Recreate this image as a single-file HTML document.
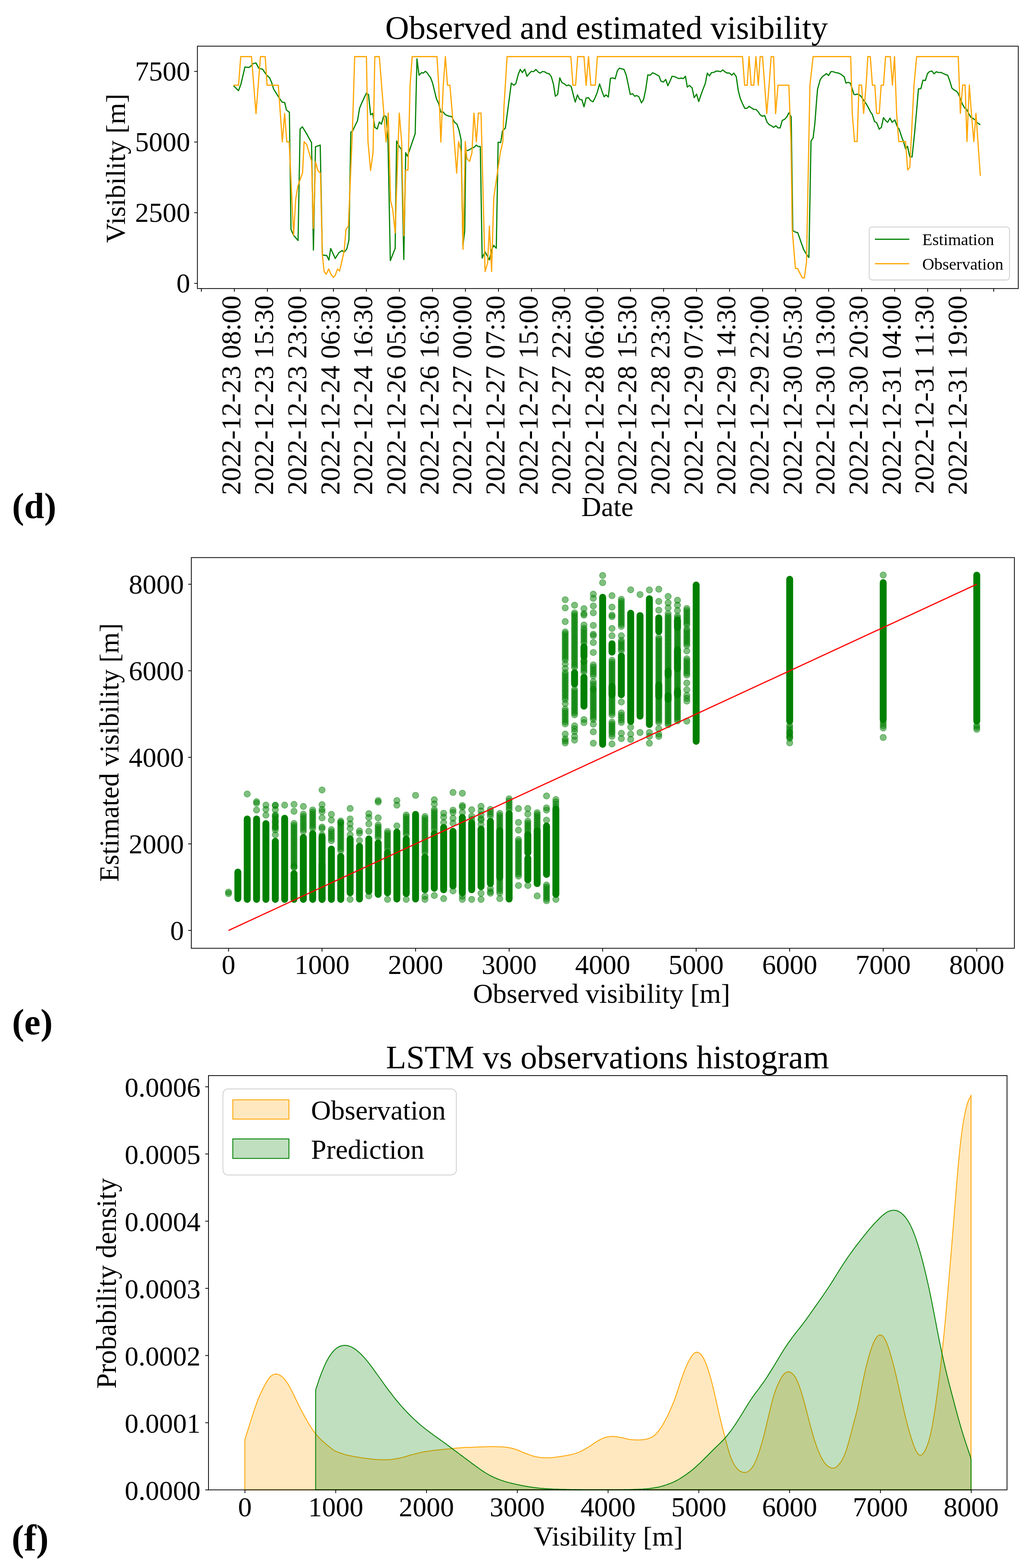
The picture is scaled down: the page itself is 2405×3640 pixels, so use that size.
<!DOCTYPE html>
<html><head><meta charset="utf-8"><title>Visibility figure</title>
<style>html,body{margin:0;padding:0;background:#fff;}svg{display:block}</style></head>
<body><svg width="2405" height="3640" viewBox="0 0 2405 3640" font-family="&quot;Liberation Serif&quot;, &quot;Times New Roman&quot;, serif">
<rect width="2405" height="3640" fill="#fff"/>
<text x="1408" y="90" font-size="76.6" text-anchor="middle">Observed and estimated visibility</text>
<polyline fill="none" stroke="#008000" stroke-width="2.7" stroke-linejoin="round" points="542.2,199 553.7,210.5 559.3,195.4 568.6,155.7 577.7,156.7 581.3,154.3 587.5,147.7 594.1,146 600.9,158.7 609.5,160.6 618,173.3 625.8,180.7 630.2,190.5 635.1,206.4 644.9,222.2 654.7,236.9 660.8,238.1 665,255.3 671.8,260.9 675.5,532.8 681.6,546.2 691.9,558.4 696.7,299.3 701.9,294.4 710.9,309 723.2,331.1 727.6,580.4 732.4,340.8 743.4,336.7 748.3,591.9 758.6,593.4 763.5,603.7 767.7,576.8 778.2,600 786.7,586.6 794.1,581.7 798.9,585.3 805.1,578 810,557.2 814.4,306.6 818.5,304.2 825.8,288.3 829.8,280.9 834.7,251.6 839.6,239.4 850.6,216.1 855.5,219.8 860.3,266.3 865.2,263.3 870.1,295.6 875.7,299.3 880.6,283.4 885.5,288.3 890.9,268.2 896.3,270.7 900.7,327.4 906.1,604.9 917.3,576.8 920.7,327.4 926.4,339.6 932,346.9 937.4,602.4 941.8,354.3 945.9,362.8 963.8,310.3 967.9,136.7 972.8,174.6 978.9,168.5 982.6,169.7 987.5,165.5 991.1,168.5 999.7,180.7 1003.9,191.7 1013.2,229.6 1018,239.4 1023.4,260.1 1029,260.1 1033.9,266.3 1041.3,269.4 1048.6,270.7 1054.7,283.4 1060.8,288.3 1065.7,302.9 1070.4,324.2 1074.6,570.4 1078.8,536.7 1081.3,349.5 1085.5,349.5 1090.6,347 1095.6,343.6 1099.9,342.4 1105.8,336.8 1110,340.2 1115,340.2 1119.3,599.1 1126,584.7 1131.1,594 1136.1,603.3 1141.2,580.5 1146.2,569.6 1152.1,576.3 1156.4,330.1 1162.3,330.9 1166.5,304 1173.2,297.2 1187,192.9 1192.6,197.8 1197.5,194.1 1202.9,173.3 1207.8,161.1 1212.7,168.5 1218.1,160.6 1223.2,177 1228.6,170.9 1233.5,165.5 1238.4,166.5 1244,161.1 1249.4,167.2 1254.3,169.7 1259.1,166 1264,166.5 1268.9,169.7 1275,171.4 1279.9,178.2 1284.8,195.4 1289.2,223.5 1294.6,219.3 1299.5,180.7 1304.4,191.7 1309.3,194.1 1315.4,199 1320.3,197.3 1325.9,200.7 1330.8,219.8 1335.4,236.9 1340.6,220.3 1345.5,230.8 1350.8,231.5 1355.7,247.9 1360.6,227.6 1366,226.7 1371.1,233.3 1376.5,236.4 1381.4,227.1 1386.3,214.9 1391.9,194.9 1397.3,211.2 1400,218.6 1402.4,224.7 1406.8,220.3 1412.2,225.2 1417.1,181.9 1422.5,180.7 1428.1,183.1 1433,164.8 1437.9,158.2 1443.5,159.9 1448.4,161.1 1453.8,174.6 1458.7,197.8 1463.1,219.3 1468.5,217.4 1473.3,223.5 1478.2,221.8 1483.1,224.7 1489.2,238.9 1494.1,230.8 1499,207.6 1503.9,173.8 1509.5,174.6 1514.9,168.9 1519.8,170.9 1524.7,173.8 1529.6,176.3 1534.5,188.5 1539.9,190.5 1545.5,184.4 1550.4,199 1555.3,188.5 1560.1,177 1565.8,177.8 1570.7,180.2 1576,182.4 1580.9,181.4 1586.3,182.4 1591.2,177 1595.6,202.2 1600.5,198.3 1606.6,203.9 1611.5,226.7 1617.1,218.6 1622,235.7 1627.4,219.8 1632.3,206.4 1637.2,194.1 1642.1,169.7 1646.9,176.3 1651.8,168.5 1657.2,168 1662.8,164.8 1668.5,165.3 1672.6,166.5 1678,162.3 1683.6,167.2 1688.5,169.7 1690,169.7 1693.7,169.7 1698.6,174.6 1703.4,169.7 1709.1,177.8 1714,211.2 1718.9,229.6 1724.2,241.8 1729.1,251.6 1734,251.6 1738.9,246.7 1744.3,250.4 1749.9,254 1754.8,254 1759.7,258.9 1764.6,266.3 1769.5,269.9 1775.1,268.2 1780.5,283.4 1785.8,289.5 1790.7,291.9 1795.9,295.6 1801.2,291.9 1806.1,296.8 1811,296.8 1815.9,279.7 1822,276.5 1826.9,270.7 1831.3,261.9 1836.7,271.1 1840.4,535.2 1846.5,538.9 1851.9,540.1 1858.7,559.7 1865.6,579.2 1872.2,590.2 1877.8,597.6 1882.7,327.4 1887.6,320 1891.7,285.8 1895.4,236.9 1897.8,207.6 1903.9,185.6 1908.8,178.2 1913.7,174.6 1918.6,170.9 1923.5,175.3 1929.1,166 1934.5,166.5 1939.4,168.5 1946.7,169.7 1951.6,172.1 1959.7,178.2 1963.8,192.9 1968.7,191 1973.6,192.9 1977.3,202.7 1982.2,218.6 1984.9,219.8 1989.8,218.6 1994.7,219.8 1999.6,224.7 2004.4,232 2010.6,240.6 2015.5,249.1 2020.3,258.9 2025.2,266.3 2030.1,282.2 2035,284.6 2041.1,300 2046,295.6 2050.9,273.1 2055.8,279.7 2060.7,283.9 2066.1,274.3 2071,283.9 2077.3,278.5 2082.7,293.2 2087.6,300.5 2093,317.6 2097.4,328.6 2102.2,345.7 2106.7,339.6 2112,364.1 2117.4,364.1 2123,310.3 2127.9,256.5 2132.1,206.4 2137.7,205.9 2142.6,186.1 2148.2,186.8 2153.1,170.9 2157.3,166.5 2163.4,164.8 2168.3,171.4 2173.6,166.5 2179.3,168.5 2184.2,168 2190.3,170.9 2195.2,173.3 2200,174.6 2204.9,188 2209.8,204.6 2214.7,208.8 2219.6,211.2 2224,216.1 2228.2,225.9 2234.3,241.8 2239.2,250.4 2244.1,254 2248.9,263.8 2253.8,272.4 2258.7,274.8 2263.6,278.5 2269.7,285.8 2275.8,289.5"/>
<polyline fill="none" stroke="#ffa500" stroke-width="2.7" stroke-linejoin="round" points="542.2,197.8 553.7,197.8 558.9,131.3 583.8,131.3 594.3,263.8 604.6,131.3 615.6,131.3 620,197.8 646.1,197.8 655.4,329.3 660.8,263.3 665.7,329.3 671.3,329.3 681.6,546.2 686.5,461.9 691.4,432.5 702.4,400.7 706,328.6 712.2,335.9 723.2,373.8 727.6,530.3 732.4,375.1 737.8,395.8 743.9,402 748.3,591.4 752.5,630.6 757.4,636.7 763,624.4 768.4,636.7 773.8,644 778.2,639.1 783.5,624.4 788.4,629.3 798.9,582.9 803.1,532.8 808.7,525.4 818,306.6 823.4,131.3 850.6,131.3 854.2,327.4 860.3,395.8 866,354.3 870.1,131.3 880.6,131.3 896.3,329.8 901.2,262.6 906.8,466.7 911.7,486.3 917.3,540.1 926.8,262.6 932.5,329.8 937.4,547.4 941.8,394.6 947.1,394.6 952,197.8 956.9,131.3 1014.4,131.3 1018.5,197.8 1023.4,329.8 1029,197.8 1033.9,131.3 1038.8,197.8 1044.4,197.8 1049.8,261.4 1060.1,402 1064.5,328.6 1070.4,352.9 1074.9,578.8 1080.1,328.4 1083.8,368 1090.1,374.8 1095.6,354.6 1100.2,262.6 1105.8,329.3 1110.5,262.6 1116.7,262.6 1126,630.3 1131.9,610.9 1136.1,524.9 1141.2,630.3 1146.2,459.1 1161.4,354.6 1167.3,329.3 1169.8,250 1177.2,131.3 1325.2,131.3 1330,197.8 1336.2,197.8 1341.1,131.3 1355.7,131.3 1360.6,197.8 1366.2,131.3 1371.6,197.8 1381.9,197.8 1386.8,131.3 1690,131.3 1723.7,131.3 1728.6,197.8 1734.5,197.8 1738.9,131.3 1743.8,197.8 1749.9,197.8 1754.8,131.3 1760.4,197.8 1764.6,131.3 1770.2,131.3 1775.1,197.8 1780,263.8 1785.4,197.8 1790.2,131.3 1795.9,131.3 1800.5,263.8 1806.1,197.8 1831.3,197.8 1836.2,329.8 1839.1,532.8 1846.5,623.2 1851.4,623.2 1862.4,645.2 1867.3,645.2 1872.2,608.6 1880.2,197.8 1887.6,131.3 1974.8,131.3 1978.5,263.8 1983.7,328.6 1989.8,328.6 1994.2,197.3 2000,197.3 2004.9,263.3 2010.6,197.8 2014.7,131.3 2020.3,131.3 2025.2,197.8 2030.9,197.8 2035,263.3 2041.1,263.3 2045.5,197.8 2050.9,197.8 2055.8,131.3 2066.8,131.3 2071.7,197.8 2076.6,131.3 2081.5,263.8 2086.4,328.6 2102.2,328.6 2107.1,394.6 2112,388.5 2121.8,197.8 2127.9,131.3 2224.5,131.3 2229.4,263.3 2234.8,197.3 2240.4,197.3 2244.8,328.6 2250.2,197.3 2255.1,263.3 2260.7,328.6 2265.6,263.3 2275.8,408.1"/>
<rect x="458.3" y="107.2" width="1905.5" height="562.6" fill="none" stroke="#000" stroke-width="1.8"/>
<line x1="450.8" y1="657.8" x2="458.3" y2="657.8" stroke="#000" stroke-width="1.8"/>
<text x="441.5" y="678.8" font-size="64" text-anchor="end">0</text>
<line x1="450.8" y1="493.8" x2="458.3" y2="493.8" stroke="#000" stroke-width="1.8"/>
<text x="441.5" y="514.8" font-size="64" text-anchor="end">2500</text>
<line x1="450.8" y1="329.7" x2="458.3" y2="329.7" stroke="#000" stroke-width="1.8"/>
<text x="441.5" y="350.7" font-size="64" text-anchor="end">5000</text>
<line x1="450.8" y1="165.7" x2="458.3" y2="165.7" stroke="#000" stroke-width="1.8"/>
<text x="441.5" y="186.7" font-size="64" text-anchor="end">7500</text>
<line x1="467.4" y1="669.8" x2="467.4" y2="677.3" stroke="#000" stroke-width="1.8"/>
<line x1="544" y1="669.8" x2="544" y2="677.3" stroke="#000" stroke-width="1.8"/>
<text transform="translate(557.7,686) rotate(-90)" font-size="64.4" text-anchor="end">2022-12-23 08:00</text>
<line x1="620.7" y1="669.8" x2="620.7" y2="677.3" stroke="#000" stroke-width="1.8"/>
<text transform="translate(634.4,686) rotate(-90)" font-size="64.4" text-anchor="end">2022-12-23 15:30</text>
<line x1="697.3" y1="669.8" x2="697.3" y2="677.3" stroke="#000" stroke-width="1.8"/>
<text transform="translate(711,686) rotate(-90)" font-size="64.4" text-anchor="end">2022-12-23 23:00</text>
<line x1="774" y1="669.8" x2="774" y2="677.3" stroke="#000" stroke-width="1.8"/>
<text transform="translate(787.7,686) rotate(-90)" font-size="64.4" text-anchor="end">2022-12-24 06:30</text>
<line x1="850.6" y1="669.8" x2="850.6" y2="677.3" stroke="#000" stroke-width="1.8"/>
<text transform="translate(864.3,686) rotate(-90)" font-size="64.4" text-anchor="end">2022-12-24 16:30</text>
<line x1="927.2" y1="669.8" x2="927.2" y2="677.3" stroke="#000" stroke-width="1.8"/>
<text transform="translate(940.9,686) rotate(-90)" font-size="64.4" text-anchor="end">2022-12-26 05:00</text>
<line x1="1003.9" y1="669.8" x2="1003.9" y2="677.3" stroke="#000" stroke-width="1.8"/>
<text transform="translate(1017.6,686) rotate(-90)" font-size="64.4" text-anchor="end">2022-12-26 16:30</text>
<line x1="1080.5" y1="669.8" x2="1080.5" y2="677.3" stroke="#000" stroke-width="1.8"/>
<text transform="translate(1094.2,686) rotate(-90)" font-size="64.4" text-anchor="end">2022-12-27 00:00</text>
<line x1="1157.2" y1="669.8" x2="1157.2" y2="677.3" stroke="#000" stroke-width="1.8"/>
<text transform="translate(1170.9,686) rotate(-90)" font-size="64.4" text-anchor="end">2022-12-27 07:30</text>
<line x1="1233.8" y1="669.8" x2="1233.8" y2="677.3" stroke="#000" stroke-width="1.8"/>
<text transform="translate(1247.5,686) rotate(-90)" font-size="64.4" text-anchor="end">2022-12-27 15:00</text>
<line x1="1310.4" y1="669.8" x2="1310.4" y2="677.3" stroke="#000" stroke-width="1.8"/>
<text transform="translate(1324.1,686) rotate(-90)" font-size="64.4" text-anchor="end">2022-12-27 22:30</text>
<line x1="1387.1" y1="669.8" x2="1387.1" y2="677.3" stroke="#000" stroke-width="1.8"/>
<text transform="translate(1400.8,686) rotate(-90)" font-size="64.4" text-anchor="end">2022-12-28 06:00</text>
<line x1="1463.7" y1="669.8" x2="1463.7" y2="677.3" stroke="#000" stroke-width="1.8"/>
<text transform="translate(1477.4,686) rotate(-90)" font-size="64.4" text-anchor="end">2022-12-28 15:30</text>
<line x1="1540.4" y1="669.8" x2="1540.4" y2="677.3" stroke="#000" stroke-width="1.8"/>
<text transform="translate(1554.1,686) rotate(-90)" font-size="64.4" text-anchor="end">2022-12-28 23:30</text>
<line x1="1617" y1="669.8" x2="1617" y2="677.3" stroke="#000" stroke-width="1.8"/>
<text transform="translate(1630.7,686) rotate(-90)" font-size="64.4" text-anchor="end">2022-12-29 07:00</text>
<line x1="1693.6" y1="669.8" x2="1693.6" y2="677.3" stroke="#000" stroke-width="1.8"/>
<text transform="translate(1707.3,686) rotate(-90)" font-size="64.4" text-anchor="end">2022-12-29 14:30</text>
<line x1="1770.3" y1="669.8" x2="1770.3" y2="677.3" stroke="#000" stroke-width="1.8"/>
<text transform="translate(1784,686) rotate(-90)" font-size="64.4" text-anchor="end">2022-12-29 22:00</text>
<line x1="1846.9" y1="669.8" x2="1846.9" y2="677.3" stroke="#000" stroke-width="1.8"/>
<text transform="translate(1860.6,686) rotate(-90)" font-size="64.4" text-anchor="end">2022-12-30 05:30</text>
<line x1="1923.6" y1="669.8" x2="1923.6" y2="677.3" stroke="#000" stroke-width="1.8"/>
<text transform="translate(1937.3,686) rotate(-90)" font-size="64.4" text-anchor="end">2022-12-30 13:00</text>
<line x1="2000.2" y1="669.8" x2="2000.2" y2="677.3" stroke="#000" stroke-width="1.8"/>
<text transform="translate(2013.9,686) rotate(-90)" font-size="64.4" text-anchor="end">2022-12-30 20:30</text>
<line x1="2076.8" y1="669.8" x2="2076.8" y2="677.3" stroke="#000" stroke-width="1.8"/>
<text transform="translate(2090.5,686) rotate(-90)" font-size="64.4" text-anchor="end">2022-12-31 04:00</text>
<line x1="2153.5" y1="669.8" x2="2153.5" y2="677.3" stroke="#000" stroke-width="1.8"/>
<text transform="translate(2167.2,686) rotate(-90)" font-size="64.4" text-anchor="end">2022-12-31 11:30</text>
<line x1="2230.1" y1="669.8" x2="2230.1" y2="677.3" stroke="#000" stroke-width="1.8"/>
<text transform="translate(2243.8,686) rotate(-90)" font-size="64.4" text-anchor="end">2022-12-31 19:00</text>
<line x1="2306.8" y1="669.8" x2="2306.8" y2="677.3" stroke="#000" stroke-width="1.8"/>
<text x="1410" y="1198" font-size="64" text-anchor="middle">Date</text>
<text transform="translate(289.5,390.7) rotate(-90)" font-size="64" text-anchor="middle">Visibility [m]</text>
<rect x="2017.8" y="526.8" width="325.7" height="123.2" rx="7" ry="7" fill="#fff" fill-opacity="0.8" stroke="#cccccc" stroke-width="1.8"/>
<line x1="2031" y1="555.4" x2="2110.9" y2="555.4" stroke="#008000" stroke-width="2.7"/>
<line x1="2031" y1="612.2" x2="2110.9" y2="612.2" stroke="#ffa500" stroke-width="2.7"/>
<text x="2141" y="569.4" font-size="38.5">Estimation</text>
<text x="2141" y="625.8" font-size="38.5">Observation</text>
<text x="28" y="1202.8" font-size="84" font-weight="bold">(d)</text>
<circle cx="530.5" cy="2070.9" r="7.3" fill="#008000" fill-opacity="0.5" stroke="#008000" stroke-opacity="0.5" stroke-width="1.4"/>
<circle cx="530.5" cy="2074.5" r="7.3" fill="#008000" fill-opacity="0.5" stroke="#008000" stroke-opacity="0.5" stroke-width="1.4"/>
<rect x="544.2" y="2016.4" width="16" height="77.7" rx="8" fill="#008000"/>
<circle cx="573.9" cy="1843.2" r="7.3" fill="#008000" fill-opacity="0.5" stroke="#008000" stroke-opacity="0.5" stroke-width="1.4"/>
<rect x="565.9" y="1893.2" width="16" height="202.7" rx="8" fill="#008000"/>
<circle cx="595.6" cy="1861.1" r="7.3" fill="#008000" fill-opacity="0.5" stroke="#008000" stroke-opacity="0.5" stroke-width="1.4"/>
<circle cx="595.6" cy="1864.6" r="7.3" fill="#008000" fill-opacity="0.5" stroke="#008000" stroke-opacity="0.5" stroke-width="1.4"/>
<circle cx="595.6" cy="1880.4" r="7.3" fill="#008000" fill-opacity="0.5" stroke="#008000" stroke-opacity="0.5" stroke-width="1.4"/>
<rect x="587.6" y="1893.2" width="16" height="202.7" rx="8" fill="#008000"/>
<circle cx="617.3" cy="1869.1" r="7.3" fill="#008000" fill-opacity="0.5" stroke="#008000" stroke-opacity="0.5" stroke-width="1.4"/>
<circle cx="617.3" cy="1878.9" r="7.3" fill="#008000" fill-opacity="0.5" stroke="#008000" stroke-opacity="0.5" stroke-width="1.4"/>
<circle cx="617.3" cy="1892.3" r="7.3" fill="#008000" fill-opacity="0.5" stroke="#008000" stroke-opacity="0.5" stroke-width="1.4"/>
<rect x="609.3" y="1903.9" width="16" height="192" rx="8" fill="#008000"/>
<circle cx="639.1" cy="1891.9" r="7.3" fill="#008000" fill-opacity="0.5" stroke="#008000" stroke-opacity="0.5" stroke-width="1.4"/>
<circle cx="639.1" cy="1896.8" r="7.3" fill="#008000" fill-opacity="0.5" stroke="#008000" stroke-opacity="0.5" stroke-width="1.4"/>
<circle cx="639.1" cy="1901.8" r="7.3" fill="#008000" fill-opacity="0.5" stroke="#008000" stroke-opacity="0.5" stroke-width="1.4"/>
<circle cx="639.1" cy="1906.8" r="7.3" fill="#008000" fill-opacity="0.5" stroke="#008000" stroke-opacity="0.5" stroke-width="1.4"/>
<circle cx="639.1" cy="1911.8" r="7.3" fill="#008000" fill-opacity="0.5" stroke="#008000" stroke-opacity="0.5" stroke-width="1.4"/>
<circle cx="639.1" cy="1916.8" r="7.3" fill="#008000" fill-opacity="0.5" stroke="#008000" stroke-opacity="0.5" stroke-width="1.4"/>
<circle cx="639.1" cy="1921.7" r="7.3" fill="#008000" fill-opacity="0.5" stroke="#008000" stroke-opacity="0.5" stroke-width="1.4"/>
<circle cx="639.1" cy="1926.7" r="7.3" fill="#008000" fill-opacity="0.5" stroke="#008000" stroke-opacity="0.5" stroke-width="1.4"/>
<circle cx="639.1" cy="1869.1" r="7.3" fill="#008000" fill-opacity="0.5" stroke="#008000" stroke-opacity="0.5" stroke-width="1.4"/>
<circle cx="639.1" cy="1870" r="7.3" fill="#008000" fill-opacity="0.5" stroke="#008000" stroke-opacity="0.5" stroke-width="1.4"/>
<circle cx="639.1" cy="1879.8" r="7.3" fill="#008000" fill-opacity="0.5" stroke="#008000" stroke-opacity="0.5" stroke-width="1.4"/>
<circle cx="639.1" cy="1894.1" r="7.3" fill="#008000" fill-opacity="0.5" stroke="#008000" stroke-opacity="0.5" stroke-width="1.4"/>
<circle cx="639.1" cy="1907.5" r="7.3" fill="#008000" fill-opacity="0.5" stroke="#008000" stroke-opacity="0.5" stroke-width="1.4"/>
<circle cx="639.1" cy="1920" r="7.3" fill="#008000" fill-opacity="0.5" stroke="#008000" stroke-opacity="0.5" stroke-width="1.4"/>
<circle cx="639.1" cy="1937.9" r="7.3" fill="#008000" fill-opacity="0.5" stroke="#008000" stroke-opacity="0.5" stroke-width="1.4"/>
<rect x="631.1" y="1945" width="16" height="150.9" rx="8" fill="#008000"/>
<circle cx="660.8" cy="1869.1" r="7.3" fill="#008000" fill-opacity="0.5" stroke="#008000" stroke-opacity="0.5" stroke-width="1.4"/>
<rect x="652.8" y="1891.4" width="16" height="204.5" rx="8" fill="#008000"/>
<circle cx="682.5" cy="1911.5" r="7.3" fill="#008000" fill-opacity="0.5" stroke="#008000" stroke-opacity="0.5" stroke-width="1.4"/>
<circle cx="682.5" cy="1916.2" r="7.3" fill="#008000" fill-opacity="0.5" stroke="#008000" stroke-opacity="0.5" stroke-width="1.4"/>
<circle cx="682.5" cy="1920.8" r="7.3" fill="#008000" fill-opacity="0.5" stroke="#008000" stroke-opacity="0.5" stroke-width="1.4"/>
<circle cx="682.5" cy="1925.5" r="7.3" fill="#008000" fill-opacity="0.5" stroke="#008000" stroke-opacity="0.5" stroke-width="1.4"/>
<circle cx="682.5" cy="1930.2" r="7.3" fill="#008000" fill-opacity="0.5" stroke="#008000" stroke-opacity="0.5" stroke-width="1.4"/>
<circle cx="682.5" cy="1934.8" r="7.3" fill="#008000" fill-opacity="0.5" stroke="#008000" stroke-opacity="0.5" stroke-width="1.4"/>
<circle cx="682.5" cy="1939.5" r="7.3" fill="#008000" fill-opacity="0.5" stroke="#008000" stroke-opacity="0.5" stroke-width="1.4"/>
<circle cx="682.5" cy="1944.2" r="7.3" fill="#008000" fill-opacity="0.5" stroke="#008000" stroke-opacity="0.5" stroke-width="1.4"/>
<circle cx="682.5" cy="1948.9" r="7.3" fill="#008000" fill-opacity="0.5" stroke="#008000" stroke-opacity="0.5" stroke-width="1.4"/>
<circle cx="682.5" cy="1953.5" r="7.3" fill="#008000" fill-opacity="0.5" stroke="#008000" stroke-opacity="0.5" stroke-width="1.4"/>
<circle cx="682.5" cy="1958.2" r="7.3" fill="#008000" fill-opacity="0.5" stroke="#008000" stroke-opacity="0.5" stroke-width="1.4"/>
<circle cx="682.5" cy="1962.9" r="7.3" fill="#008000" fill-opacity="0.5" stroke="#008000" stroke-opacity="0.5" stroke-width="1.4"/>
<circle cx="682.5" cy="1967.5" r="7.3" fill="#008000" fill-opacity="0.5" stroke="#008000" stroke-opacity="0.5" stroke-width="1.4"/>
<circle cx="682.5" cy="1972.2" r="7.3" fill="#008000" fill-opacity="0.5" stroke="#008000" stroke-opacity="0.5" stroke-width="1.4"/>
<circle cx="682.5" cy="1976.9" r="7.3" fill="#008000" fill-opacity="0.5" stroke="#008000" stroke-opacity="0.5" stroke-width="1.4"/>
<circle cx="682.5" cy="1981.5" r="7.3" fill="#008000" fill-opacity="0.5" stroke="#008000" stroke-opacity="0.5" stroke-width="1.4"/>
<circle cx="682.5" cy="1986.2" r="7.3" fill="#008000" fill-opacity="0.5" stroke="#008000" stroke-opacity="0.5" stroke-width="1.4"/>
<circle cx="682.5" cy="1990.9" r="7.3" fill="#008000" fill-opacity="0.5" stroke="#008000" stroke-opacity="0.5" stroke-width="1.4"/>
<circle cx="682.5" cy="1995.5" r="7.3" fill="#008000" fill-opacity="0.5" stroke="#008000" stroke-opacity="0.5" stroke-width="1.4"/>
<circle cx="682.5" cy="2000.2" r="7.3" fill="#008000" fill-opacity="0.5" stroke="#008000" stroke-opacity="0.5" stroke-width="1.4"/>
<circle cx="682.5" cy="2004.9" r="7.3" fill="#008000" fill-opacity="0.5" stroke="#008000" stroke-opacity="0.5" stroke-width="1.4"/>
<circle cx="682.5" cy="2009.5" r="7.3" fill="#008000" fill-opacity="0.5" stroke="#008000" stroke-opacity="0.5" stroke-width="1.4"/>
<circle cx="682.5" cy="2014.2" r="7.3" fill="#008000" fill-opacity="0.5" stroke="#008000" stroke-opacity="0.5" stroke-width="1.4"/>
<circle cx="682.5" cy="1867.3" r="7.3" fill="#008000" fill-opacity="0.5" stroke="#008000" stroke-opacity="0.5" stroke-width="1.4"/>
<circle cx="682.5" cy="1883.4" r="7.3" fill="#008000" fill-opacity="0.5" stroke="#008000" stroke-opacity="0.5" stroke-width="1.4"/>
<circle cx="682.5" cy="2012" r="7.3" fill="#008000" fill-opacity="0.5" stroke="#008000" stroke-opacity="0.5" stroke-width="1.4"/>
<rect x="674.5" y="2020" width="16" height="75.9" rx="8" fill="#008000"/>
<circle cx="704.2" cy="1890.1" r="7.3" fill="#008000" fill-opacity="0.5" stroke="#008000" stroke-opacity="0.5" stroke-width="1.4"/>
<circle cx="704.2" cy="1895.1" r="7.3" fill="#008000" fill-opacity="0.5" stroke="#008000" stroke-opacity="0.5" stroke-width="1.4"/>
<circle cx="704.2" cy="1900.1" r="7.3" fill="#008000" fill-opacity="0.5" stroke="#008000" stroke-opacity="0.5" stroke-width="1.4"/>
<circle cx="704.2" cy="1905.2" r="7.3" fill="#008000" fill-opacity="0.5" stroke="#008000" stroke-opacity="0.5" stroke-width="1.4"/>
<circle cx="704.2" cy="1910.2" r="7.3" fill="#008000" fill-opacity="0.5" stroke="#008000" stroke-opacity="0.5" stroke-width="1.4"/>
<circle cx="704.2" cy="1915.2" r="7.3" fill="#008000" fill-opacity="0.5" stroke="#008000" stroke-opacity="0.5" stroke-width="1.4"/>
<circle cx="704.2" cy="1920.2" r="7.3" fill="#008000" fill-opacity="0.5" stroke="#008000" stroke-opacity="0.5" stroke-width="1.4"/>
<circle cx="704.2" cy="1925.3" r="7.3" fill="#008000" fill-opacity="0.5" stroke="#008000" stroke-opacity="0.5" stroke-width="1.4"/>
<circle cx="704.2" cy="1930.3" r="7.3" fill="#008000" fill-opacity="0.5" stroke="#008000" stroke-opacity="0.5" stroke-width="1.4"/>
<circle cx="704.2" cy="1872.1" r="7.3" fill="#008000" fill-opacity="0.5" stroke="#008000" stroke-opacity="0.5" stroke-width="1.4"/>
<rect x="696.2" y="1936.1" width="16" height="159.8" rx="8" fill="#008000"/>
<circle cx="725.9" cy="1880.2" r="7.3" fill="#008000" fill-opacity="0.5" stroke="#008000" stroke-opacity="0.5" stroke-width="1.4"/>
<circle cx="725.9" cy="1885" r="7.3" fill="#008000" fill-opacity="0.5" stroke="#008000" stroke-opacity="0.5" stroke-width="1.4"/>
<circle cx="725.9" cy="1889.8" r="7.3" fill="#008000" fill-opacity="0.5" stroke="#008000" stroke-opacity="0.5" stroke-width="1.4"/>
<circle cx="725.9" cy="1894.5" r="7.3" fill="#008000" fill-opacity="0.5" stroke="#008000" stroke-opacity="0.5" stroke-width="1.4"/>
<circle cx="725.9" cy="1899.3" r="7.3" fill="#008000" fill-opacity="0.5" stroke="#008000" stroke-opacity="0.5" stroke-width="1.4"/>
<circle cx="725.9" cy="1904.1" r="7.3" fill="#008000" fill-opacity="0.5" stroke="#008000" stroke-opacity="0.5" stroke-width="1.4"/>
<circle cx="725.9" cy="1908.8" r="7.3" fill="#008000" fill-opacity="0.5" stroke="#008000" stroke-opacity="0.5" stroke-width="1.4"/>
<circle cx="725.9" cy="1913.6" r="7.3" fill="#008000" fill-opacity="0.5" stroke="#008000" stroke-opacity="0.5" stroke-width="1.4"/>
<circle cx="725.9" cy="1918.4" r="7.3" fill="#008000" fill-opacity="0.5" stroke="#008000" stroke-opacity="0.5" stroke-width="1.4"/>
<circle cx="725.9" cy="1923.1" r="7.3" fill="#008000" fill-opacity="0.5" stroke="#008000" stroke-opacity="0.5" stroke-width="1.4"/>
<circle cx="725.9" cy="1995" r="7.3" fill="#008000" fill-opacity="0.5" stroke="#008000" stroke-opacity="0.5" stroke-width="1.4"/>
<rect x="717.9" y="1927.1" width="16" height="168.8" rx="8" fill="#008000"/>
<circle cx="747.6" cy="1938.3" r="7.3" fill="#008000" fill-opacity="0.5" stroke="#008000" stroke-opacity="0.5" stroke-width="1.4"/>
<circle cx="747.6" cy="1943" r="7.3" fill="#008000" fill-opacity="0.5" stroke="#008000" stroke-opacity="0.5" stroke-width="1.4"/>
<circle cx="747.6" cy="1947.7" r="7.3" fill="#008000" fill-opacity="0.5" stroke="#008000" stroke-opacity="0.5" stroke-width="1.4"/>
<circle cx="747.6" cy="1952.4" r="7.3" fill="#008000" fill-opacity="0.5" stroke="#008000" stroke-opacity="0.5" stroke-width="1.4"/>
<circle cx="747.6" cy="1957" r="7.3" fill="#008000" fill-opacity="0.5" stroke="#008000" stroke-opacity="0.5" stroke-width="1.4"/>
<circle cx="747.6" cy="1961.7" r="7.3" fill="#008000" fill-opacity="0.5" stroke="#008000" stroke-opacity="0.5" stroke-width="1.4"/>
<circle cx="747.6" cy="1966.4" r="7.3" fill="#008000" fill-opacity="0.5" stroke="#008000" stroke-opacity="0.5" stroke-width="1.4"/>
<circle cx="747.6" cy="1971.1" r="7.3" fill="#008000" fill-opacity="0.5" stroke="#008000" stroke-opacity="0.5" stroke-width="1.4"/>
<circle cx="747.6" cy="1975.8" r="7.3" fill="#008000" fill-opacity="0.5" stroke="#008000" stroke-opacity="0.5" stroke-width="1.4"/>
<circle cx="747.6" cy="1980.5" r="7.3" fill="#008000" fill-opacity="0.5" stroke="#008000" stroke-opacity="0.5" stroke-width="1.4"/>
<circle cx="747.6" cy="1985.2" r="7.3" fill="#008000" fill-opacity="0.5" stroke="#008000" stroke-opacity="0.5" stroke-width="1.4"/>
<circle cx="747.6" cy="1989.9" r="7.3" fill="#008000" fill-opacity="0.5" stroke="#008000" stroke-opacity="0.5" stroke-width="1.4"/>
<circle cx="747.6" cy="1994.6" r="7.3" fill="#008000" fill-opacity="0.5" stroke="#008000" stroke-opacity="0.5" stroke-width="1.4"/>
<circle cx="747.6" cy="1833.9" r="7.3" fill="#008000" fill-opacity="0.5" stroke="#008000" stroke-opacity="0.5" stroke-width="1.4"/>
<circle cx="747.6" cy="1867.9" r="7.3" fill="#008000" fill-opacity="0.5" stroke="#008000" stroke-opacity="0.5" stroke-width="1.4"/>
<circle cx="747.6" cy="1878.9" r="7.3" fill="#008000" fill-opacity="0.5" stroke="#008000" stroke-opacity="0.5" stroke-width="1.4"/>
<circle cx="747.6" cy="1884.3" r="7.3" fill="#008000" fill-opacity="0.5" stroke="#008000" stroke-opacity="0.5" stroke-width="1.4"/>
<circle cx="747.6" cy="1898.6" r="7.3" fill="#008000" fill-opacity="0.5" stroke="#008000" stroke-opacity="0.5" stroke-width="1.4"/>
<circle cx="747.6" cy="1920" r="7.3" fill="#008000" fill-opacity="0.5" stroke="#008000" stroke-opacity="0.5" stroke-width="1.4"/>
<circle cx="747.6" cy="1923.6" r="7.3" fill="#008000" fill-opacity="0.5" stroke="#008000" stroke-opacity="0.5" stroke-width="1.4"/>
<rect x="739.6" y="1934.3" width="16" height="161.6" rx="8" fill="#008000"/>
<rect x="739.6" y="1998.6" width="16" height="97.3" rx="8" fill="#008000"/>
<circle cx="769.3" cy="1925.8" r="7.3" fill="#008000" fill-opacity="0.5" stroke="#008000" stroke-opacity="0.5" stroke-width="1.4"/>
<circle cx="769.3" cy="1931" r="7.3" fill="#008000" fill-opacity="0.5" stroke="#008000" stroke-opacity="0.5" stroke-width="1.4"/>
<circle cx="769.3" cy="1936.2" r="7.3" fill="#008000" fill-opacity="0.5" stroke="#008000" stroke-opacity="0.5" stroke-width="1.4"/>
<circle cx="769.3" cy="1941.3" r="7.3" fill="#008000" fill-opacity="0.5" stroke="#008000" stroke-opacity="0.5" stroke-width="1.4"/>
<circle cx="769.3" cy="1946.5" r="7.3" fill="#008000" fill-opacity="0.5" stroke="#008000" stroke-opacity="0.5" stroke-width="1.4"/>
<circle cx="769.3" cy="1951.7" r="7.3" fill="#008000" fill-opacity="0.5" stroke="#008000" stroke-opacity="0.5" stroke-width="1.4"/>
<circle cx="769.3" cy="1890.5" r="7.3" fill="#008000" fill-opacity="0.5" stroke="#008000" stroke-opacity="0.5" stroke-width="1.4"/>
<circle cx="769.3" cy="1903.9" r="7.3" fill="#008000" fill-opacity="0.5" stroke="#008000" stroke-opacity="0.5" stroke-width="1.4"/>
<rect x="761.3" y="1962.9" width="16" height="133" rx="8" fill="#008000"/>
<circle cx="791" cy="1906.1" r="7.3" fill="#008000" fill-opacity="0.5" stroke="#008000" stroke-opacity="0.5" stroke-width="1.4"/>
<circle cx="791" cy="1910.7" r="7.3" fill="#008000" fill-opacity="0.5" stroke="#008000" stroke-opacity="0.5" stroke-width="1.4"/>
<circle cx="791" cy="1915.3" r="7.3" fill="#008000" fill-opacity="0.5" stroke="#008000" stroke-opacity="0.5" stroke-width="1.4"/>
<circle cx="791" cy="1919.9" r="7.3" fill="#008000" fill-opacity="0.5" stroke="#008000" stroke-opacity="0.5" stroke-width="1.4"/>
<circle cx="791" cy="1924.5" r="7.3" fill="#008000" fill-opacity="0.5" stroke="#008000" stroke-opacity="0.5" stroke-width="1.4"/>
<circle cx="791" cy="1929.1" r="7.3" fill="#008000" fill-opacity="0.5" stroke="#008000" stroke-opacity="0.5" stroke-width="1.4"/>
<circle cx="791" cy="1933.7" r="7.3" fill="#008000" fill-opacity="0.5" stroke="#008000" stroke-opacity="0.5" stroke-width="1.4"/>
<circle cx="791" cy="1938.2" r="7.3" fill="#008000" fill-opacity="0.5" stroke="#008000" stroke-opacity="0.5" stroke-width="1.4"/>
<circle cx="791" cy="1942.8" r="7.3" fill="#008000" fill-opacity="0.5" stroke="#008000" stroke-opacity="0.5" stroke-width="1.4"/>
<circle cx="791" cy="1947.4" r="7.3" fill="#008000" fill-opacity="0.5" stroke="#008000" stroke-opacity="0.5" stroke-width="1.4"/>
<circle cx="791" cy="1952" r="7.3" fill="#008000" fill-opacity="0.5" stroke="#008000" stroke-opacity="0.5" stroke-width="1.4"/>
<circle cx="791" cy="1956.6" r="7.3" fill="#008000" fill-opacity="0.5" stroke="#008000" stroke-opacity="0.5" stroke-width="1.4"/>
<circle cx="791" cy="1961.2" r="7.3" fill="#008000" fill-opacity="0.5" stroke="#008000" stroke-opacity="0.5" stroke-width="1.4"/>
<circle cx="791" cy="1965.8" r="7.3" fill="#008000" fill-opacity="0.5" stroke="#008000" stroke-opacity="0.5" stroke-width="1.4"/>
<circle cx="791" cy="1970.3" r="7.3" fill="#008000" fill-opacity="0.5" stroke="#008000" stroke-opacity="0.5" stroke-width="1.4"/>
<circle cx="791" cy="1974.9" r="7.3" fill="#008000" fill-opacity="0.5" stroke="#008000" stroke-opacity="0.5" stroke-width="1.4"/>
<circle cx="791" cy="1909.3" r="7.3" fill="#008000" fill-opacity="0.5" stroke="#008000" stroke-opacity="0.5" stroke-width="1.4"/>
<rect x="783" y="1979.8" width="16" height="116.1" rx="8" fill="#008000"/>
<circle cx="812.8" cy="1876.8" r="7.3" fill="#008000" fill-opacity="0.5" stroke="#008000" stroke-opacity="0.5" stroke-width="1.4"/>
<circle cx="812.8" cy="1901.2" r="7.3" fill="#008000" fill-opacity="0.5" stroke="#008000" stroke-opacity="0.5" stroke-width="1.4"/>
<circle cx="812.8" cy="1912.5" r="7.3" fill="#008000" fill-opacity="0.5" stroke="#008000" stroke-opacity="0.5" stroke-width="1.4"/>
<circle cx="812.8" cy="1923.2" r="7.3" fill="#008000" fill-opacity="0.5" stroke="#008000" stroke-opacity="0.5" stroke-width="1.4"/>
<circle cx="812.8" cy="1937.9" r="7.3" fill="#008000" fill-opacity="0.5" stroke="#008000" stroke-opacity="0.5" stroke-width="1.4"/>
<circle cx="812.8" cy="2087.9" r="7.3" fill="#008000" fill-opacity="0.5" stroke="#008000" stroke-opacity="0.5" stroke-width="1.4"/>
<rect x="804.8" y="1939.6" width="16" height="141.1" rx="8" fill="#008000"/>
<circle cx="834.5" cy="1928.9" r="7.3" fill="#008000" fill-opacity="0.5" stroke="#008000" stroke-opacity="0.5" stroke-width="1.4"/>
<circle cx="834.5" cy="1934.3" r="7.3" fill="#008000" fill-opacity="0.5" stroke="#008000" stroke-opacity="0.5" stroke-width="1.4"/>
<circle cx="834.5" cy="1951.2" r="7.3" fill="#008000" fill-opacity="0.5" stroke="#008000" stroke-opacity="0.5" stroke-width="1.4"/>
<rect x="826.5" y="1956.6" width="16" height="138.4" rx="8" fill="#008000"/>
<circle cx="856.2" cy="1888.8" r="7.3" fill="#008000" fill-opacity="0.5" stroke="#008000" stroke-opacity="0.5" stroke-width="1.4"/>
<circle cx="856.2" cy="1897.7" r="7.3" fill="#008000" fill-opacity="0.5" stroke="#008000" stroke-opacity="0.5" stroke-width="1.4"/>
<circle cx="856.2" cy="1912.5" r="7.3" fill="#008000" fill-opacity="0.5" stroke="#008000" stroke-opacity="0.5" stroke-width="1.4"/>
<circle cx="856.2" cy="1929.8" r="7.3" fill="#008000" fill-opacity="0.5" stroke="#008000" stroke-opacity="0.5" stroke-width="1.4"/>
<circle cx="856.2" cy="2079.8" r="7.3" fill="#008000" fill-opacity="0.5" stroke="#008000" stroke-opacity="0.5" stroke-width="1.4"/>
<rect x="848.2" y="1939.6" width="16" height="137.5" rx="8" fill="#008000"/>
<circle cx="877.9" cy="1915.1" r="7.3" fill="#008000" fill-opacity="0.5" stroke="#008000" stroke-opacity="0.5" stroke-width="1.4"/>
<circle cx="877.9" cy="1920" r="7.3" fill="#008000" fill-opacity="0.5" stroke="#008000" stroke-opacity="0.5" stroke-width="1.4"/>
<circle cx="877.9" cy="1924.9" r="7.3" fill="#008000" fill-opacity="0.5" stroke="#008000" stroke-opacity="0.5" stroke-width="1.4"/>
<circle cx="877.9" cy="1929.8" r="7.3" fill="#008000" fill-opacity="0.5" stroke="#008000" stroke-opacity="0.5" stroke-width="1.4"/>
<circle cx="877.9" cy="1934.7" r="7.3" fill="#008000" fill-opacity="0.5" stroke="#008000" stroke-opacity="0.5" stroke-width="1.4"/>
<circle cx="877.9" cy="1939.7" r="7.3" fill="#008000" fill-opacity="0.5" stroke="#008000" stroke-opacity="0.5" stroke-width="1.4"/>
<circle cx="877.9" cy="1944.6" r="7.3" fill="#008000" fill-opacity="0.5" stroke="#008000" stroke-opacity="0.5" stroke-width="1.4"/>
<circle cx="877.9" cy="1858.4" r="7.3" fill="#008000" fill-opacity="0.5" stroke="#008000" stroke-opacity="0.5" stroke-width="1.4"/>
<circle cx="877.9" cy="1862" r="7.3" fill="#008000" fill-opacity="0.5" stroke="#008000" stroke-opacity="0.5" stroke-width="1.4"/>
<circle cx="877.9" cy="1898.6" r="7.3" fill="#008000" fill-opacity="0.5" stroke="#008000" stroke-opacity="0.5" stroke-width="1.4"/>
<rect x="869.9" y="1948.6" width="16" height="135.7" rx="8" fill="#008000"/>
<circle cx="899.6" cy="1930.2" r="7.3" fill="#008000" fill-opacity="0.5" stroke="#008000" stroke-opacity="0.5" stroke-width="1.4"/>
<circle cx="899.6" cy="1934.8" r="7.3" fill="#008000" fill-opacity="0.5" stroke="#008000" stroke-opacity="0.5" stroke-width="1.4"/>
<circle cx="899.6" cy="1939.4" r="7.3" fill="#008000" fill-opacity="0.5" stroke="#008000" stroke-opacity="0.5" stroke-width="1.4"/>
<circle cx="899.6" cy="1944" r="7.3" fill="#008000" fill-opacity="0.5" stroke="#008000" stroke-opacity="0.5" stroke-width="1.4"/>
<circle cx="899.6" cy="1948.5" r="7.3" fill="#008000" fill-opacity="0.5" stroke="#008000" stroke-opacity="0.5" stroke-width="1.4"/>
<circle cx="899.6" cy="1953.1" r="7.3" fill="#008000" fill-opacity="0.5" stroke="#008000" stroke-opacity="0.5" stroke-width="1.4"/>
<circle cx="899.6" cy="1957.7" r="7.3" fill="#008000" fill-opacity="0.5" stroke="#008000" stroke-opacity="0.5" stroke-width="1.4"/>
<circle cx="899.6" cy="1962.2" r="7.3" fill="#008000" fill-opacity="0.5" stroke="#008000" stroke-opacity="0.5" stroke-width="1.4"/>
<circle cx="899.6" cy="1966.8" r="7.3" fill="#008000" fill-opacity="0.5" stroke="#008000" stroke-opacity="0.5" stroke-width="1.4"/>
<circle cx="899.6" cy="1971.4" r="7.3" fill="#008000" fill-opacity="0.5" stroke="#008000" stroke-opacity="0.5" stroke-width="1.4"/>
<circle cx="899.6" cy="2087.9" r="7.3" fill="#008000" fill-opacity="0.5" stroke="#008000" stroke-opacity="0.5" stroke-width="1.4"/>
<rect x="891.6" y="1970.9" width="16" height="109.8" rx="8" fill="#008000"/>
<circle cx="921.3" cy="1858.4" r="7.3" fill="#008000" fill-opacity="0.5" stroke="#008000" stroke-opacity="0.5" stroke-width="1.4"/>
<circle cx="921.3" cy="1869.1" r="7.3" fill="#008000" fill-opacity="0.5" stroke="#008000" stroke-opacity="0.5" stroke-width="1.4"/>
<circle cx="921.3" cy="1917.3" r="7.3" fill="#008000" fill-opacity="0.5" stroke="#008000" stroke-opacity="0.5" stroke-width="1.4"/>
<rect x="913.3" y="1923.6" width="16" height="171.4" rx="8" fill="#008000"/>
<circle cx="943" cy="1891.9" r="7.3" fill="#008000" fill-opacity="0.5" stroke="#008000" stroke-opacity="0.5" stroke-width="1.4"/>
<circle cx="943" cy="1896.4" r="7.3" fill="#008000" fill-opacity="0.5" stroke="#008000" stroke-opacity="0.5" stroke-width="1.4"/>
<circle cx="943" cy="1901" r="7.3" fill="#008000" fill-opacity="0.5" stroke="#008000" stroke-opacity="0.5" stroke-width="1.4"/>
<circle cx="943" cy="1905.5" r="7.3" fill="#008000" fill-opacity="0.5" stroke="#008000" stroke-opacity="0.5" stroke-width="1.4"/>
<circle cx="943" cy="1910.1" r="7.3" fill="#008000" fill-opacity="0.5" stroke="#008000" stroke-opacity="0.5" stroke-width="1.4"/>
<circle cx="943" cy="1914.6" r="7.3" fill="#008000" fill-opacity="0.5" stroke="#008000" stroke-opacity="0.5" stroke-width="1.4"/>
<circle cx="943" cy="1919.2" r="7.3" fill="#008000" fill-opacity="0.5" stroke="#008000" stroke-opacity="0.5" stroke-width="1.4"/>
<circle cx="943" cy="1923.8" r="7.3" fill="#008000" fill-opacity="0.5" stroke="#008000" stroke-opacity="0.5" stroke-width="1.4"/>
<circle cx="943" cy="1928.3" r="7.3" fill="#008000" fill-opacity="0.5" stroke="#008000" stroke-opacity="0.5" stroke-width="1.4"/>
<circle cx="943" cy="1932.9" r="7.3" fill="#008000" fill-opacity="0.5" stroke="#008000" stroke-opacity="0.5" stroke-width="1.4"/>
<circle cx="943" cy="1937.4" r="7.3" fill="#008000" fill-opacity="0.5" stroke="#008000" stroke-opacity="0.5" stroke-width="1.4"/>
<circle cx="943" cy="2087.9" r="7.3" fill="#008000" fill-opacity="0.5" stroke="#008000" stroke-opacity="0.5" stroke-width="1.4"/>
<rect x="935" y="1939.6" width="16" height="142.9" rx="8" fill="#008000"/>
<circle cx="964.7" cy="1846.4" r="7.3" fill="#008000" fill-opacity="0.5" stroke="#008000" stroke-opacity="0.5" stroke-width="1.4"/>
<rect x="956.7" y="1882.5" width="16" height="212.5" rx="8" fill="#008000"/>
<circle cx="986.5" cy="1895.4" r="7.3" fill="#008000" fill-opacity="0.5" stroke="#008000" stroke-opacity="0.5" stroke-width="1.4"/>
<circle cx="986.5" cy="1900.1" r="7.3" fill="#008000" fill-opacity="0.5" stroke="#008000" stroke-opacity="0.5" stroke-width="1.4"/>
<circle cx="986.5" cy="1904.9" r="7.3" fill="#008000" fill-opacity="0.5" stroke="#008000" stroke-opacity="0.5" stroke-width="1.4"/>
<circle cx="986.5" cy="1909.6" r="7.3" fill="#008000" fill-opacity="0.5" stroke="#008000" stroke-opacity="0.5" stroke-width="1.4"/>
<circle cx="986.5" cy="1914.3" r="7.3" fill="#008000" fill-opacity="0.5" stroke="#008000" stroke-opacity="0.5" stroke-width="1.4"/>
<circle cx="986.5" cy="1919" r="7.3" fill="#008000" fill-opacity="0.5" stroke="#008000" stroke-opacity="0.5" stroke-width="1.4"/>
<circle cx="986.5" cy="1923.7" r="7.3" fill="#008000" fill-opacity="0.5" stroke="#008000" stroke-opacity="0.5" stroke-width="1.4"/>
<circle cx="986.5" cy="1928.4" r="7.3" fill="#008000" fill-opacity="0.5" stroke="#008000" stroke-opacity="0.5" stroke-width="1.4"/>
<circle cx="986.5" cy="1933.1" r="7.3" fill="#008000" fill-opacity="0.5" stroke="#008000" stroke-opacity="0.5" stroke-width="1.4"/>
<circle cx="986.5" cy="1937.9" r="7.3" fill="#008000" fill-opacity="0.5" stroke="#008000" stroke-opacity="0.5" stroke-width="1.4"/>
<circle cx="986.5" cy="1942.6" r="7.3" fill="#008000" fill-opacity="0.5" stroke="#008000" stroke-opacity="0.5" stroke-width="1.4"/>
<circle cx="986.5" cy="1947.3" r="7.3" fill="#008000" fill-opacity="0.5" stroke="#008000" stroke-opacity="0.5" stroke-width="1.4"/>
<circle cx="986.5" cy="1952" r="7.3" fill="#008000" fill-opacity="0.5" stroke="#008000" stroke-opacity="0.5" stroke-width="1.4"/>
<circle cx="986.5" cy="1956.7" r="7.3" fill="#008000" fill-opacity="0.5" stroke="#008000" stroke-opacity="0.5" stroke-width="1.4"/>
<circle cx="986.5" cy="1961.4" r="7.3" fill="#008000" fill-opacity="0.5" stroke="#008000" stroke-opacity="0.5" stroke-width="1.4"/>
<circle cx="986.5" cy="1966.1" r="7.3" fill="#008000" fill-opacity="0.5" stroke="#008000" stroke-opacity="0.5" stroke-width="1.4"/>
<circle cx="986.5" cy="1970.9" r="7.3" fill="#008000" fill-opacity="0.5" stroke="#008000" stroke-opacity="0.5" stroke-width="1.4"/>
<circle cx="986.5" cy="1975.6" r="7.3" fill="#008000" fill-opacity="0.5" stroke="#008000" stroke-opacity="0.5" stroke-width="1.4"/>
<circle cx="986.5" cy="1980.3" r="7.3" fill="#008000" fill-opacity="0.5" stroke="#008000" stroke-opacity="0.5" stroke-width="1.4"/>
<circle cx="986.5" cy="2080.7" r="7.3" fill="#008000" fill-opacity="0.5" stroke="#008000" stroke-opacity="0.5" stroke-width="1.4"/>
<circle cx="986.5" cy="2087.9" r="7.3" fill="#008000" fill-opacity="0.5" stroke="#008000" stroke-opacity="0.5" stroke-width="1.4"/>
<rect x="978.5" y="1981.6" width="16" height="92" rx="8" fill="#008000"/>
<circle cx="1008.2" cy="1879.4" r="7.3" fill="#008000" fill-opacity="0.5" stroke="#008000" stroke-opacity="0.5" stroke-width="1.4"/>
<circle cx="1008.2" cy="1884.1" r="7.3" fill="#008000" fill-opacity="0.5" stroke="#008000" stroke-opacity="0.5" stroke-width="1.4"/>
<circle cx="1008.2" cy="1888.8" r="7.3" fill="#008000" fill-opacity="0.5" stroke="#008000" stroke-opacity="0.5" stroke-width="1.4"/>
<circle cx="1008.2" cy="1893.6" r="7.3" fill="#008000" fill-opacity="0.5" stroke="#008000" stroke-opacity="0.5" stroke-width="1.4"/>
<circle cx="1008.2" cy="1898.3" r="7.3" fill="#008000" fill-opacity="0.5" stroke="#008000" stroke-opacity="0.5" stroke-width="1.4"/>
<circle cx="1008.2" cy="1903" r="7.3" fill="#008000" fill-opacity="0.5" stroke="#008000" stroke-opacity="0.5" stroke-width="1.4"/>
<circle cx="1008.2" cy="1907.8" r="7.3" fill="#008000" fill-opacity="0.5" stroke="#008000" stroke-opacity="0.5" stroke-width="1.4"/>
<circle cx="1008.2" cy="1912.5" r="7.3" fill="#008000" fill-opacity="0.5" stroke="#008000" stroke-opacity="0.5" stroke-width="1.4"/>
<circle cx="1008.2" cy="1917.2" r="7.3" fill="#008000" fill-opacity="0.5" stroke="#008000" stroke-opacity="0.5" stroke-width="1.4"/>
<circle cx="1008.2" cy="1922" r="7.3" fill="#008000" fill-opacity="0.5" stroke="#008000" stroke-opacity="0.5" stroke-width="1.4"/>
<circle cx="1008.2" cy="1926.7" r="7.3" fill="#008000" fill-opacity="0.5" stroke="#008000" stroke-opacity="0.5" stroke-width="1.4"/>
<circle cx="1008.2" cy="1856.6" r="7.3" fill="#008000" fill-opacity="0.5" stroke="#008000" stroke-opacity="0.5" stroke-width="1.4"/>
<circle cx="1008.2" cy="1866.4" r="7.3" fill="#008000" fill-opacity="0.5" stroke="#008000" stroke-opacity="0.5" stroke-width="1.4"/>
<circle cx="1008.2" cy="2078.9" r="7.3" fill="#008000" fill-opacity="0.5" stroke="#008000" stroke-opacity="0.5" stroke-width="1.4"/>
<rect x="1000.2" y="1927.1" width="16" height="142.9" rx="8" fill="#008000"/>
<circle cx="1029.9" cy="1887.9" r="7.3" fill="#008000" fill-opacity="0.5" stroke="#008000" stroke-opacity="0.5" stroke-width="1.4"/>
<circle cx="1029.9" cy="1896.8" r="7.3" fill="#008000" fill-opacity="0.5" stroke="#008000" stroke-opacity="0.5" stroke-width="1.4"/>
<circle cx="1029.9" cy="1909.3" r="7.3" fill="#008000" fill-opacity="0.5" stroke="#008000" stroke-opacity="0.5" stroke-width="1.4"/>
<circle cx="1029.9" cy="2086.1" r="7.3" fill="#008000" fill-opacity="0.5" stroke="#008000" stroke-opacity="0.5" stroke-width="1.4"/>
<rect x="1021.9" y="1912.9" width="16" height="160.7" rx="8" fill="#008000"/>
<circle cx="1051.6" cy="1839.6" r="7.3" fill="#008000" fill-opacity="0.5" stroke="#008000" stroke-opacity="0.5" stroke-width="1.4"/>
<circle cx="1051.6" cy="1880.7" r="7.3" fill="#008000" fill-opacity="0.5" stroke="#008000" stroke-opacity="0.5" stroke-width="1.4"/>
<circle cx="1051.6" cy="1886.1" r="7.3" fill="#008000" fill-opacity="0.5" stroke="#008000" stroke-opacity="0.5" stroke-width="1.4"/>
<circle cx="1051.6" cy="1899.5" r="7.3" fill="#008000" fill-opacity="0.5" stroke="#008000" stroke-opacity="0.5" stroke-width="1.4"/>
<circle cx="1051.6" cy="1911.1" r="7.3" fill="#008000" fill-opacity="0.5" stroke="#008000" stroke-opacity="0.5" stroke-width="1.4"/>
<circle cx="1051.6" cy="2068.2" r="7.3" fill="#008000" fill-opacity="0.5" stroke="#008000" stroke-opacity="0.5" stroke-width="1.4"/>
<rect x="1043.6" y="1921.8" width="16" height="142.9" rx="8" fill="#008000"/>
<circle cx="1073.3" cy="1841.4" r="7.3" fill="#008000" fill-opacity="0.5" stroke="#008000" stroke-opacity="0.5" stroke-width="1.4"/>
<circle cx="1073.3" cy="1870" r="7.3" fill="#008000" fill-opacity="0.5" stroke="#008000" stroke-opacity="0.5" stroke-width="1.4"/>
<circle cx="1073.3" cy="1873.6" r="7.3" fill="#008000" fill-opacity="0.5" stroke="#008000" stroke-opacity="0.5" stroke-width="1.4"/>
<circle cx="1073.3" cy="1886.1" r="7.3" fill="#008000" fill-opacity="0.5" stroke="#008000" stroke-opacity="0.5" stroke-width="1.4"/>
<circle cx="1073.3" cy="2080.7" r="7.3" fill="#008000" fill-opacity="0.5" stroke="#008000" stroke-opacity="0.5" stroke-width="1.4"/>
<circle cx="1073.3" cy="2087.9" r="7.3" fill="#008000" fill-opacity="0.5" stroke="#008000" stroke-opacity="0.5" stroke-width="1.4"/>
<rect x="1065.3" y="1889.6" width="16" height="191.1" rx="8" fill="#008000"/>
<circle cx="1095" cy="1879.8" r="7.3" fill="#008000" fill-opacity="0.5" stroke="#008000" stroke-opacity="0.5" stroke-width="1.4"/>
<circle cx="1095" cy="1895" r="7.3" fill="#008000" fill-opacity="0.5" stroke="#008000" stroke-opacity="0.5" stroke-width="1.4"/>
<circle cx="1095" cy="1902.1" r="7.3" fill="#008000" fill-opacity="0.5" stroke="#008000" stroke-opacity="0.5" stroke-width="1.4"/>
<circle cx="1095" cy="2087.9" r="7.3" fill="#008000" fill-opacity="0.5" stroke="#008000" stroke-opacity="0.5" stroke-width="1.4"/>
<rect x="1087" y="1902.1" width="16" height="171.4" rx="8" fill="#008000"/>
<circle cx="1116.7" cy="1871.8" r="7.3" fill="#008000" fill-opacity="0.5" stroke="#008000" stroke-opacity="0.5" stroke-width="1.4"/>
<circle cx="1116.7" cy="1882.5" r="7.3" fill="#008000" fill-opacity="0.5" stroke="#008000" stroke-opacity="0.5" stroke-width="1.4"/>
<circle cx="1116.7" cy="1891.4" r="7.3" fill="#008000" fill-opacity="0.5" stroke="#008000" stroke-opacity="0.5" stroke-width="1.4"/>
<circle cx="1116.7" cy="1900.4" r="7.3" fill="#008000" fill-opacity="0.5" stroke="#008000" stroke-opacity="0.5" stroke-width="1.4"/>
<circle cx="1116.7" cy="1903.9" r="7.3" fill="#008000" fill-opacity="0.5" stroke="#008000" stroke-opacity="0.5" stroke-width="1.4"/>
<circle cx="1116.7" cy="1913.8" r="7.3" fill="#008000" fill-opacity="0.5" stroke="#008000" stroke-opacity="0.5" stroke-width="1.4"/>
<circle cx="1116.7" cy="2073.6" r="7.3" fill="#008000" fill-opacity="0.5" stroke="#008000" stroke-opacity="0.5" stroke-width="1.4"/>
<circle cx="1116.7" cy="2087.9" r="7.3" fill="#008000" fill-opacity="0.5" stroke="#008000" stroke-opacity="0.5" stroke-width="1.4"/>
<rect x="1108.7" y="1916.4" width="16" height="150" rx="8" fill="#008000"/>
<circle cx="1138.4" cy="1878.9" r="7.3" fill="#008000" fill-opacity="0.5" stroke="#008000" stroke-opacity="0.5" stroke-width="1.4"/>
<circle cx="1138.4" cy="1884.3" r="7.3" fill="#008000" fill-opacity="0.5" stroke="#008000" stroke-opacity="0.5" stroke-width="1.4"/>
<circle cx="1138.4" cy="1889.6" r="7.3" fill="#008000" fill-opacity="0.5" stroke="#008000" stroke-opacity="0.5" stroke-width="1.4"/>
<circle cx="1138.4" cy="1895" r="7.3" fill="#008000" fill-opacity="0.5" stroke="#008000" stroke-opacity="0.5" stroke-width="1.4"/>
<circle cx="1138.4" cy="2062.9" r="7.3" fill="#008000" fill-opacity="0.5" stroke="#008000" stroke-opacity="0.5" stroke-width="1.4"/>
<circle cx="1138.4" cy="2070" r="7.3" fill="#008000" fill-opacity="0.5" stroke="#008000" stroke-opacity="0.5" stroke-width="1.4"/>
<circle cx="1138.4" cy="2073.6" r="7.3" fill="#008000" fill-opacity="0.5" stroke="#008000" stroke-opacity="0.5" stroke-width="1.4"/>
<rect x="1130.4" y="1898.6" width="16" height="160.7" rx="8" fill="#008000"/>
<circle cx="1160.1" cy="1888.3" r="7.3" fill="#008000" fill-opacity="0.5" stroke="#008000" stroke-opacity="0.5" stroke-width="1.4"/>
<circle cx="1160.1" cy="1893.3" r="7.3" fill="#008000" fill-opacity="0.5" stroke="#008000" stroke-opacity="0.5" stroke-width="1.4"/>
<circle cx="1160.1" cy="1898.2" r="7.3" fill="#008000" fill-opacity="0.5" stroke="#008000" stroke-opacity="0.5" stroke-width="1.4"/>
<circle cx="1160.1" cy="1903.2" r="7.3" fill="#008000" fill-opacity="0.5" stroke="#008000" stroke-opacity="0.5" stroke-width="1.4"/>
<circle cx="1160.1" cy="1908.2" r="7.3" fill="#008000" fill-opacity="0.5" stroke="#008000" stroke-opacity="0.5" stroke-width="1.4"/>
<circle cx="1160.1" cy="1913.2" r="7.3" fill="#008000" fill-opacity="0.5" stroke="#008000" stroke-opacity="0.5" stroke-width="1.4"/>
<circle cx="1160.1" cy="1918.2" r="7.3" fill="#008000" fill-opacity="0.5" stroke="#008000" stroke-opacity="0.5" stroke-width="1.4"/>
<circle cx="1160.1" cy="1923.1" r="7.3" fill="#008000" fill-opacity="0.5" stroke="#008000" stroke-opacity="0.5" stroke-width="1.4"/>
<circle cx="1160.1" cy="2041.9" r="7.3" fill="#008000" fill-opacity="0.5" stroke="#008000" stroke-opacity="0.5" stroke-width="1.4"/>
<circle cx="1160.1" cy="2047.1" r="7.3" fill="#008000" fill-opacity="0.5" stroke="#008000" stroke-opacity="0.5" stroke-width="1.4"/>
<circle cx="1160.1" cy="2052.3" r="7.3" fill="#008000" fill-opacity="0.5" stroke="#008000" stroke-opacity="0.5" stroke-width="1.4"/>
<circle cx="1160.1" cy="2057.5" r="7.3" fill="#008000" fill-opacity="0.5" stroke="#008000" stroke-opacity="0.5" stroke-width="1.4"/>
<circle cx="1160.1" cy="2062.7" r="7.3" fill="#008000" fill-opacity="0.5" stroke="#008000" stroke-opacity="0.5" stroke-width="1.4"/>
<circle cx="1160.1" cy="2067.9" r="7.3" fill="#008000" fill-opacity="0.5" stroke="#008000" stroke-opacity="0.5" stroke-width="1.4"/>
<circle cx="1160.1" cy="2073.1" r="7.3" fill="#008000" fill-opacity="0.5" stroke="#008000" stroke-opacity="0.5" stroke-width="1.4"/>
<circle cx="1160.1" cy="2086.1" r="7.3" fill="#008000" fill-opacity="0.5" stroke="#008000" stroke-opacity="0.5" stroke-width="1.4"/>
<rect x="1152.1" y="1920" width="16" height="125" rx="8" fill="#008000"/>
<circle cx="1181.9" cy="1854.4" r="7.3" fill="#008000" fill-opacity="0.5" stroke="#008000" stroke-opacity="0.5" stroke-width="1.4"/>
<circle cx="1181.9" cy="1859.5" r="7.3" fill="#008000" fill-opacity="0.5" stroke="#008000" stroke-opacity="0.5" stroke-width="1.4"/>
<circle cx="1181.9" cy="1864.7" r="7.3" fill="#008000" fill-opacity="0.5" stroke="#008000" stroke-opacity="0.5" stroke-width="1.4"/>
<circle cx="1181.9" cy="1869.9" r="7.3" fill="#008000" fill-opacity="0.5" stroke="#008000" stroke-opacity="0.5" stroke-width="1.4"/>
<circle cx="1181.9" cy="1875.1" r="7.3" fill="#008000" fill-opacity="0.5" stroke="#008000" stroke-opacity="0.5" stroke-width="1.4"/>
<circle cx="1181.9" cy="1880.3" r="7.3" fill="#008000" fill-opacity="0.5" stroke="#008000" stroke-opacity="0.5" stroke-width="1.4"/>
<rect x="1173.9" y="1880.7" width="16" height="214.3" rx="8" fill="#008000"/>
<circle cx="1203.6" cy="1949" r="7.3" fill="#008000" fill-opacity="0.5" stroke="#008000" stroke-opacity="0.5" stroke-width="1.4"/>
<circle cx="1203.6" cy="1953.7" r="7.3" fill="#008000" fill-opacity="0.5" stroke="#008000" stroke-opacity="0.5" stroke-width="1.4"/>
<circle cx="1203.6" cy="1958.4" r="7.3" fill="#008000" fill-opacity="0.5" stroke="#008000" stroke-opacity="0.5" stroke-width="1.4"/>
<circle cx="1203.6" cy="1963.1" r="7.3" fill="#008000" fill-opacity="0.5" stroke="#008000" stroke-opacity="0.5" stroke-width="1.4"/>
<circle cx="1203.6" cy="1967.9" r="7.3" fill="#008000" fill-opacity="0.5" stroke="#008000" stroke-opacity="0.5" stroke-width="1.4"/>
<circle cx="1203.6" cy="1972.6" r="7.3" fill="#008000" fill-opacity="0.5" stroke="#008000" stroke-opacity="0.5" stroke-width="1.4"/>
<circle cx="1203.6" cy="1977.3" r="7.3" fill="#008000" fill-opacity="0.5" stroke="#008000" stroke-opacity="0.5" stroke-width="1.4"/>
<circle cx="1203.6" cy="1982" r="7.3" fill="#008000" fill-opacity="0.5" stroke="#008000" stroke-opacity="0.5" stroke-width="1.4"/>
<circle cx="1203.6" cy="1986.7" r="7.3" fill="#008000" fill-opacity="0.5" stroke="#008000" stroke-opacity="0.5" stroke-width="1.4"/>
<circle cx="1203.6" cy="1991.4" r="7.3" fill="#008000" fill-opacity="0.5" stroke="#008000" stroke-opacity="0.5" stroke-width="1.4"/>
<circle cx="1203.6" cy="1996.1" r="7.3" fill="#008000" fill-opacity="0.5" stroke="#008000" stroke-opacity="0.5" stroke-width="1.4"/>
<circle cx="1203.6" cy="2000.9" r="7.3" fill="#008000" fill-opacity="0.5" stroke="#008000" stroke-opacity="0.5" stroke-width="1.4"/>
<circle cx="1203.6" cy="2005.6" r="7.3" fill="#008000" fill-opacity="0.5" stroke="#008000" stroke-opacity="0.5" stroke-width="1.4"/>
<circle cx="1203.6" cy="2010.3" r="7.3" fill="#008000" fill-opacity="0.5" stroke="#008000" stroke-opacity="0.5" stroke-width="1.4"/>
<circle cx="1203.6" cy="2015" r="7.3" fill="#008000" fill-opacity="0.5" stroke="#008000" stroke-opacity="0.5" stroke-width="1.4"/>
<circle cx="1203.6" cy="2019.7" r="7.3" fill="#008000" fill-opacity="0.5" stroke="#008000" stroke-opacity="0.5" stroke-width="1.4"/>
<circle cx="1203.6" cy="2024.4" r="7.3" fill="#008000" fill-opacity="0.5" stroke="#008000" stroke-opacity="0.5" stroke-width="1.4"/>
<circle cx="1203.6" cy="2029.1" r="7.3" fill="#008000" fill-opacity="0.5" stroke="#008000" stroke-opacity="0.5" stroke-width="1.4"/>
<circle cx="1203.6" cy="2033.9" r="7.3" fill="#008000" fill-opacity="0.5" stroke="#008000" stroke-opacity="0.5" stroke-width="1.4"/>
<circle cx="1203.6" cy="1877.1" r="7.3" fill="#008000" fill-opacity="0.5" stroke="#008000" stroke-opacity="0.5" stroke-width="1.4"/>
<circle cx="1203.6" cy="1909.3" r="7.3" fill="#008000" fill-opacity="0.5" stroke="#008000" stroke-opacity="0.5" stroke-width="1.4"/>
<circle cx="1203.6" cy="1927.1" r="7.3" fill="#008000" fill-opacity="0.5" stroke="#008000" stroke-opacity="0.5" stroke-width="1.4"/>
<circle cx="1203.6" cy="2055.7" r="7.3" fill="#008000" fill-opacity="0.5" stroke="#008000" stroke-opacity="0.5" stroke-width="1.4"/>
<circle cx="1225.3" cy="1906.1" r="7.3" fill="#008000" fill-opacity="0.5" stroke="#008000" stroke-opacity="0.5" stroke-width="1.4"/>
<circle cx="1225.3" cy="1911" r="7.3" fill="#008000" fill-opacity="0.5" stroke="#008000" stroke-opacity="0.5" stroke-width="1.4"/>
<circle cx="1225.3" cy="1915.8" r="7.3" fill="#008000" fill-opacity="0.5" stroke="#008000" stroke-opacity="0.5" stroke-width="1.4"/>
<circle cx="1225.3" cy="1920.6" r="7.3" fill="#008000" fill-opacity="0.5" stroke="#008000" stroke-opacity="0.5" stroke-width="1.4"/>
<circle cx="1225.3" cy="1925.5" r="7.3" fill="#008000" fill-opacity="0.5" stroke="#008000" stroke-opacity="0.5" stroke-width="1.4"/>
<circle cx="1225.3" cy="1930.3" r="7.3" fill="#008000" fill-opacity="0.5" stroke="#008000" stroke-opacity="0.5" stroke-width="1.4"/>
<circle cx="1225.3" cy="1876.8" r="7.3" fill="#008000" fill-opacity="0.5" stroke="#008000" stroke-opacity="0.5" stroke-width="1.4"/>
<circle cx="1225.3" cy="1889.6" r="7.3" fill="#008000" fill-opacity="0.5" stroke="#008000" stroke-opacity="0.5" stroke-width="1.4"/>
<circle cx="1225.3" cy="2055.7" r="7.3" fill="#008000" fill-opacity="0.5" stroke="#008000" stroke-opacity="0.5" stroke-width="1.4"/>
<rect x="1217.3" y="1928.9" width="16" height="58.9" rx="8" fill="#008000"/>
<rect x="1217.3" y="1984.3" width="16" height="66.1" rx="8" fill="#008000"/>
<circle cx="1247" cy="1886.5" r="7.3" fill="#008000" fill-opacity="0.5" stroke="#008000" stroke-opacity="0.5" stroke-width="1.4"/>
<circle cx="1247" cy="1891.1" r="7.3" fill="#008000" fill-opacity="0.5" stroke="#008000" stroke-opacity="0.5" stroke-width="1.4"/>
<circle cx="1247" cy="1895.7" r="7.3" fill="#008000" fill-opacity="0.5" stroke="#008000" stroke-opacity="0.5" stroke-width="1.4"/>
<circle cx="1247" cy="1900.2" r="7.3" fill="#008000" fill-opacity="0.5" stroke="#008000" stroke-opacity="0.5" stroke-width="1.4"/>
<circle cx="1247" cy="1904.8" r="7.3" fill="#008000" fill-opacity="0.5" stroke="#008000" stroke-opacity="0.5" stroke-width="1.4"/>
<circle cx="1247" cy="1909.4" r="7.3" fill="#008000" fill-opacity="0.5" stroke="#008000" stroke-opacity="0.5" stroke-width="1.4"/>
<circle cx="1247" cy="1914" r="7.3" fill="#008000" fill-opacity="0.5" stroke="#008000" stroke-opacity="0.5" stroke-width="1.4"/>
<circle cx="1247" cy="1918.6" r="7.3" fill="#008000" fill-opacity="0.5" stroke="#008000" stroke-opacity="0.5" stroke-width="1.4"/>
<circle cx="1247" cy="1923.1" r="7.3" fill="#008000" fill-opacity="0.5" stroke="#008000" stroke-opacity="0.5" stroke-width="1.4"/>
<circle cx="1247" cy="2079.8" r="7.3" fill="#008000" fill-opacity="0.5" stroke="#008000" stroke-opacity="0.5" stroke-width="1.4"/>
<rect x="1239" y="1920" width="16" height="139.3" rx="8" fill="#008000"/>
<circle cx="1268.7" cy="2054.4" r="7.3" fill="#008000" fill-opacity="0.5" stroke="#008000" stroke-opacity="0.5" stroke-width="1.4"/>
<circle cx="1268.7" cy="2058.9" r="7.3" fill="#008000" fill-opacity="0.5" stroke="#008000" stroke-opacity="0.5" stroke-width="1.4"/>
<circle cx="1268.7" cy="2063.5" r="7.3" fill="#008000" fill-opacity="0.5" stroke="#008000" stroke-opacity="0.5" stroke-width="1.4"/>
<circle cx="1268.7" cy="2068.1" r="7.3" fill="#008000" fill-opacity="0.5" stroke="#008000" stroke-opacity="0.5" stroke-width="1.4"/>
<circle cx="1268.7" cy="2072.7" r="7.3" fill="#008000" fill-opacity="0.5" stroke="#008000" stroke-opacity="0.5" stroke-width="1.4"/>
<circle cx="1268.7" cy="2077.3" r="7.3" fill="#008000" fill-opacity="0.5" stroke="#008000" stroke-opacity="0.5" stroke-width="1.4"/>
<circle cx="1268.7" cy="2081.8" r="7.3" fill="#008000" fill-opacity="0.5" stroke="#008000" stroke-opacity="0.5" stroke-width="1.4"/>
<circle cx="1268.7" cy="2086.4" r="7.3" fill="#008000" fill-opacity="0.5" stroke="#008000" stroke-opacity="0.5" stroke-width="1.4"/>
<circle cx="1268.7" cy="2091" r="7.3" fill="#008000" fill-opacity="0.5" stroke="#008000" stroke-opacity="0.5" stroke-width="1.4"/>
<circle cx="1268.7" cy="1847.7" r="7.3" fill="#008000" fill-opacity="0.5" stroke="#008000" stroke-opacity="0.5" stroke-width="1.4"/>
<circle cx="1268.7" cy="1875.4" r="7.3" fill="#008000" fill-opacity="0.5" stroke="#008000" stroke-opacity="0.5" stroke-width="1.4"/>
<circle cx="1268.7" cy="1880.7" r="7.3" fill="#008000" fill-opacity="0.5" stroke="#008000" stroke-opacity="0.5" stroke-width="1.4"/>
<circle cx="1268.7" cy="1903.9" r="7.3" fill="#008000" fill-opacity="0.5" stroke="#008000" stroke-opacity="0.5" stroke-width="1.4"/>
<rect x="1260.7" y="1909.3" width="16" height="128.6" rx="8" fill="#008000"/>
<circle cx="1290.4" cy="1856.1" r="7.3" fill="#008000" fill-opacity="0.5" stroke="#008000" stroke-opacity="0.5" stroke-width="1.4"/>
<circle cx="1290.4" cy="1861.8" r="7.3" fill="#008000" fill-opacity="0.5" stroke="#008000" stroke-opacity="0.5" stroke-width="1.4"/>
<circle cx="1290.4" cy="1867.5" r="7.3" fill="#008000" fill-opacity="0.5" stroke="#008000" stroke-opacity="0.5" stroke-width="1.4"/>
<circle cx="1290.4" cy="1873.1" r="7.3" fill="#008000" fill-opacity="0.5" stroke="#008000" stroke-opacity="0.5" stroke-width="1.4"/>
<circle cx="1290.4" cy="2087.9" r="7.3" fill="#008000" fill-opacity="0.5" stroke="#008000" stroke-opacity="0.5" stroke-width="1.4"/>
<rect x="1282.4" y="1870" width="16" height="214.3" rx="8" fill="#008000"/>
<circle cx="1312.1" cy="1470.9" r="7.3" fill="#008000" fill-opacity="0.5" stroke="#008000" stroke-opacity="0.5" stroke-width="1.4"/>
<circle cx="1312.1" cy="1475.6" r="7.3" fill="#008000" fill-opacity="0.5" stroke="#008000" stroke-opacity="0.5" stroke-width="1.4"/>
<circle cx="1312.1" cy="1480.3" r="7.3" fill="#008000" fill-opacity="0.5" stroke="#008000" stroke-opacity="0.5" stroke-width="1.4"/>
<circle cx="1312.1" cy="1485" r="7.3" fill="#008000" fill-opacity="0.5" stroke="#008000" stroke-opacity="0.5" stroke-width="1.4"/>
<circle cx="1312.1" cy="1489.7" r="7.3" fill="#008000" fill-opacity="0.5" stroke="#008000" stroke-opacity="0.5" stroke-width="1.4"/>
<circle cx="1312.1" cy="1494.4" r="7.3" fill="#008000" fill-opacity="0.5" stroke="#008000" stroke-opacity="0.5" stroke-width="1.4"/>
<circle cx="1312.1" cy="1499.1" r="7.3" fill="#008000" fill-opacity="0.5" stroke="#008000" stroke-opacity="0.5" stroke-width="1.4"/>
<circle cx="1312.1" cy="1503.8" r="7.3" fill="#008000" fill-opacity="0.5" stroke="#008000" stroke-opacity="0.5" stroke-width="1.4"/>
<circle cx="1312.1" cy="1508.5" r="7.3" fill="#008000" fill-opacity="0.5" stroke="#008000" stroke-opacity="0.5" stroke-width="1.4"/>
<circle cx="1312.1" cy="1513.2" r="7.3" fill="#008000" fill-opacity="0.5" stroke="#008000" stroke-opacity="0.5" stroke-width="1.4"/>
<circle cx="1312.1" cy="1517.8" r="7.3" fill="#008000" fill-opacity="0.5" stroke="#008000" stroke-opacity="0.5" stroke-width="1.4"/>
<circle cx="1312.1" cy="1522.5" r="7.3" fill="#008000" fill-opacity="0.5" stroke="#008000" stroke-opacity="0.5" stroke-width="1.4"/>
<circle cx="1312.1" cy="1527.2" r="7.3" fill="#008000" fill-opacity="0.5" stroke="#008000" stroke-opacity="0.5" stroke-width="1.4"/>
<circle cx="1312.1" cy="1531.9" r="7.3" fill="#008000" fill-opacity="0.5" stroke="#008000" stroke-opacity="0.5" stroke-width="1.4"/>
<circle cx="1312.1" cy="1561.2" r="7.3" fill="#008000" fill-opacity="0.5" stroke="#008000" stroke-opacity="0.5" stroke-width="1.4"/>
<circle cx="1312.1" cy="1566" r="7.3" fill="#008000" fill-opacity="0.5" stroke="#008000" stroke-opacity="0.5" stroke-width="1.4"/>
<circle cx="1312.1" cy="1570.8" r="7.3" fill="#008000" fill-opacity="0.5" stroke="#008000" stroke-opacity="0.5" stroke-width="1.4"/>
<circle cx="1312.1" cy="1575.7" r="7.3" fill="#008000" fill-opacity="0.5" stroke="#008000" stroke-opacity="0.5" stroke-width="1.4"/>
<circle cx="1312.1" cy="1580.5" r="7.3" fill="#008000" fill-opacity="0.5" stroke="#008000" stroke-opacity="0.5" stroke-width="1.4"/>
<circle cx="1312.1" cy="1585.3" r="7.3" fill="#008000" fill-opacity="0.5" stroke="#008000" stroke-opacity="0.5" stroke-width="1.4"/>
<circle cx="1312.1" cy="1590.2" r="7.3" fill="#008000" fill-opacity="0.5" stroke="#008000" stroke-opacity="0.5" stroke-width="1.4"/>
<circle cx="1312.1" cy="1595" r="7.3" fill="#008000" fill-opacity="0.5" stroke="#008000" stroke-opacity="0.5" stroke-width="1.4"/>
<circle cx="1312.1" cy="1599.8" r="7.3" fill="#008000" fill-opacity="0.5" stroke="#008000" stroke-opacity="0.5" stroke-width="1.4"/>
<circle cx="1312.1" cy="1604.6" r="7.3" fill="#008000" fill-opacity="0.5" stroke="#008000" stroke-opacity="0.5" stroke-width="1.4"/>
<circle cx="1312.1" cy="1609.5" r="7.3" fill="#008000" fill-opacity="0.5" stroke="#008000" stroke-opacity="0.5" stroke-width="1.4"/>
<circle cx="1312.1" cy="1614.3" r="7.3" fill="#008000" fill-opacity="0.5" stroke="#008000" stroke-opacity="0.5" stroke-width="1.4"/>
<circle cx="1312.1" cy="1619.1" r="7.3" fill="#008000" fill-opacity="0.5" stroke="#008000" stroke-opacity="0.5" stroke-width="1.4"/>
<circle cx="1312.1" cy="1624" r="7.3" fill="#008000" fill-opacity="0.5" stroke="#008000" stroke-opacity="0.5" stroke-width="1.4"/>
<circle cx="1312.1" cy="1646.1" r="7.3" fill="#008000" fill-opacity="0.5" stroke="#008000" stroke-opacity="0.5" stroke-width="1.4"/>
<circle cx="1312.1" cy="1651" r="7.3" fill="#008000" fill-opacity="0.5" stroke="#008000" stroke-opacity="0.5" stroke-width="1.4"/>
<circle cx="1312.1" cy="1656" r="7.3" fill="#008000" fill-opacity="0.5" stroke="#008000" stroke-opacity="0.5" stroke-width="1.4"/>
<circle cx="1312.1" cy="1660.9" r="7.3" fill="#008000" fill-opacity="0.5" stroke="#008000" stroke-opacity="0.5" stroke-width="1.4"/>
<circle cx="1312.1" cy="1665.8" r="7.3" fill="#008000" fill-opacity="0.5" stroke="#008000" stroke-opacity="0.5" stroke-width="1.4"/>
<circle cx="1312.1" cy="1670.8" r="7.3" fill="#008000" fill-opacity="0.5" stroke="#008000" stroke-opacity="0.5" stroke-width="1.4"/>
<circle cx="1312.1" cy="1675.7" r="7.3" fill="#008000" fill-opacity="0.5" stroke="#008000" stroke-opacity="0.5" stroke-width="1.4"/>
<circle cx="1312.1" cy="1680.6" r="7.3" fill="#008000" fill-opacity="0.5" stroke="#008000" stroke-opacity="0.5" stroke-width="1.4"/>
<circle cx="1312.1" cy="1715.2" r="7.3" fill="#008000" fill-opacity="0.5" stroke="#008000" stroke-opacity="0.5" stroke-width="1.4"/>
<circle cx="1312.1" cy="1720" r="7.3" fill="#008000" fill-opacity="0.5" stroke="#008000" stroke-opacity="0.5" stroke-width="1.4"/>
<circle cx="1312.1" cy="1724.8" r="7.3" fill="#008000" fill-opacity="0.5" stroke="#008000" stroke-opacity="0.5" stroke-width="1.4"/>
<circle cx="1312.1" cy="1392.2" r="7.3" fill="#008000" fill-opacity="0.5" stroke="#008000" stroke-opacity="0.5" stroke-width="1.4"/>
<circle cx="1312.1" cy="1411.2" r="7.3" fill="#008000" fill-opacity="0.5" stroke="#008000" stroke-opacity="0.5" stroke-width="1.4"/>
<circle cx="1312.1" cy="1443" r="7.3" fill="#008000" fill-opacity="0.5" stroke="#008000" stroke-opacity="0.5" stroke-width="1.4"/>
<circle cx="1312.1" cy="1466.9" r="7.3" fill="#008000" fill-opacity="0.5" stroke="#008000" stroke-opacity="0.5" stroke-width="1.4"/>
<circle cx="1312.1" cy="1541.2" r="7.3" fill="#008000" fill-opacity="0.5" stroke="#008000" stroke-opacity="0.5" stroke-width="1.4"/>
<circle cx="1312.1" cy="1551.9" r="7.3" fill="#008000" fill-opacity="0.5" stroke="#008000" stroke-opacity="0.5" stroke-width="1.4"/>
<circle cx="1312.1" cy="1633.3" r="7.3" fill="#008000" fill-opacity="0.5" stroke="#008000" stroke-opacity="0.5" stroke-width="1.4"/>
<circle cx="1312.1" cy="1704.1" r="7.3" fill="#008000" fill-opacity="0.5" stroke="#008000" stroke-opacity="0.5" stroke-width="1.4"/>
<circle cx="1333.8" cy="1426.7" r="7.3" fill="#008000" fill-opacity="0.5" stroke="#008000" stroke-opacity="0.5" stroke-width="1.4"/>
<circle cx="1333.8" cy="1431.4" r="7.3" fill="#008000" fill-opacity="0.5" stroke="#008000" stroke-opacity="0.5" stroke-width="1.4"/>
<circle cx="1333.8" cy="1436.1" r="7.3" fill="#008000" fill-opacity="0.5" stroke="#008000" stroke-opacity="0.5" stroke-width="1.4"/>
<circle cx="1333.8" cy="1440.9" r="7.3" fill="#008000" fill-opacity="0.5" stroke="#008000" stroke-opacity="0.5" stroke-width="1.4"/>
<circle cx="1333.8" cy="1445.6" r="7.3" fill="#008000" fill-opacity="0.5" stroke="#008000" stroke-opacity="0.5" stroke-width="1.4"/>
<circle cx="1333.8" cy="1450.4" r="7.3" fill="#008000" fill-opacity="0.5" stroke="#008000" stroke-opacity="0.5" stroke-width="1.4"/>
<circle cx="1333.8" cy="1455.1" r="7.3" fill="#008000" fill-opacity="0.5" stroke="#008000" stroke-opacity="0.5" stroke-width="1.4"/>
<circle cx="1333.8" cy="1459.9" r="7.3" fill="#008000" fill-opacity="0.5" stroke="#008000" stroke-opacity="0.5" stroke-width="1.4"/>
<circle cx="1333.8" cy="1464.6" r="7.3" fill="#008000" fill-opacity="0.5" stroke="#008000" stroke-opacity="0.5" stroke-width="1.4"/>
<circle cx="1333.8" cy="1469.3" r="7.3" fill="#008000" fill-opacity="0.5" stroke="#008000" stroke-opacity="0.5" stroke-width="1.4"/>
<circle cx="1333.8" cy="1474.1" r="7.3" fill="#008000" fill-opacity="0.5" stroke="#008000" stroke-opacity="0.5" stroke-width="1.4"/>
<circle cx="1333.8" cy="1478.8" r="7.3" fill="#008000" fill-opacity="0.5" stroke="#008000" stroke-opacity="0.5" stroke-width="1.4"/>
<circle cx="1333.8" cy="1483.3" r="7.3" fill="#008000" fill-opacity="0.5" stroke="#008000" stroke-opacity="0.5" stroke-width="1.4"/>
<circle cx="1333.8" cy="1488" r="7.3" fill="#008000" fill-opacity="0.5" stroke="#008000" stroke-opacity="0.5" stroke-width="1.4"/>
<circle cx="1333.8" cy="1492.8" r="7.3" fill="#008000" fill-opacity="0.5" stroke="#008000" stroke-opacity="0.5" stroke-width="1.4"/>
<circle cx="1333.8" cy="1497.5" r="7.3" fill="#008000" fill-opacity="0.5" stroke="#008000" stroke-opacity="0.5" stroke-width="1.4"/>
<circle cx="1333.8" cy="1502.2" r="7.3" fill="#008000" fill-opacity="0.5" stroke="#008000" stroke-opacity="0.5" stroke-width="1.4"/>
<circle cx="1333.8" cy="1507" r="7.3" fill="#008000" fill-opacity="0.5" stroke="#008000" stroke-opacity="0.5" stroke-width="1.4"/>
<circle cx="1333.8" cy="1511.7" r="7.3" fill="#008000" fill-opacity="0.5" stroke="#008000" stroke-opacity="0.5" stroke-width="1.4"/>
<circle cx="1333.8" cy="1516.5" r="7.3" fill="#008000" fill-opacity="0.5" stroke="#008000" stroke-opacity="0.5" stroke-width="1.4"/>
<circle cx="1333.8" cy="1521.2" r="7.3" fill="#008000" fill-opacity="0.5" stroke="#008000" stroke-opacity="0.5" stroke-width="1.4"/>
<circle cx="1333.8" cy="1525.9" r="7.3" fill="#008000" fill-opacity="0.5" stroke="#008000" stroke-opacity="0.5" stroke-width="1.4"/>
<circle cx="1333.8" cy="1530.7" r="7.3" fill="#008000" fill-opacity="0.5" stroke="#008000" stroke-opacity="0.5" stroke-width="1.4"/>
<circle cx="1333.8" cy="1535.4" r="7.3" fill="#008000" fill-opacity="0.5" stroke="#008000" stroke-opacity="0.5" stroke-width="1.4"/>
<circle cx="1333.8" cy="1540.2" r="7.3" fill="#008000" fill-opacity="0.5" stroke="#008000" stroke-opacity="0.5" stroke-width="1.4"/>
<circle cx="1333.8" cy="1544.9" r="7.3" fill="#008000" fill-opacity="0.5" stroke="#008000" stroke-opacity="0.5" stroke-width="1.4"/>
<circle cx="1333.8" cy="1549.6" r="7.3" fill="#008000" fill-opacity="0.5" stroke="#008000" stroke-opacity="0.5" stroke-width="1.4"/>
<circle cx="1333.8" cy="1600.1" r="7.3" fill="#008000" fill-opacity="0.5" stroke="#008000" stroke-opacity="0.5" stroke-width="1.4"/>
<circle cx="1333.8" cy="1604.7" r="7.3" fill="#008000" fill-opacity="0.5" stroke="#008000" stroke-opacity="0.5" stroke-width="1.4"/>
<circle cx="1333.8" cy="1609.2" r="7.3" fill="#008000" fill-opacity="0.5" stroke="#008000" stroke-opacity="0.5" stroke-width="1.4"/>
<circle cx="1333.8" cy="1613.8" r="7.3" fill="#008000" fill-opacity="0.5" stroke="#008000" stroke-opacity="0.5" stroke-width="1.4"/>
<circle cx="1333.8" cy="1618.3" r="7.3" fill="#008000" fill-opacity="0.5" stroke="#008000" stroke-opacity="0.5" stroke-width="1.4"/>
<circle cx="1333.8" cy="1622.9" r="7.3" fill="#008000" fill-opacity="0.5" stroke="#008000" stroke-opacity="0.5" stroke-width="1.4"/>
<circle cx="1333.8" cy="1627.5" r="7.3" fill="#008000" fill-opacity="0.5" stroke="#008000" stroke-opacity="0.5" stroke-width="1.4"/>
<circle cx="1333.8" cy="1632" r="7.3" fill="#008000" fill-opacity="0.5" stroke="#008000" stroke-opacity="0.5" stroke-width="1.4"/>
<circle cx="1333.8" cy="1636.6" r="7.3" fill="#008000" fill-opacity="0.5" stroke="#008000" stroke-opacity="0.5" stroke-width="1.4"/>
<circle cx="1333.8" cy="1641.1" r="7.3" fill="#008000" fill-opacity="0.5" stroke="#008000" stroke-opacity="0.5" stroke-width="1.4"/>
<circle cx="1333.8" cy="1645.7" r="7.3" fill="#008000" fill-opacity="0.5" stroke="#008000" stroke-opacity="0.5" stroke-width="1.4"/>
<circle cx="1333.8" cy="1650.2" r="7.3" fill="#008000" fill-opacity="0.5" stroke="#008000" stroke-opacity="0.5" stroke-width="1.4"/>
<circle cx="1333.8" cy="1654.8" r="7.3" fill="#008000" fill-opacity="0.5" stroke="#008000" stroke-opacity="0.5" stroke-width="1.4"/>
<circle cx="1333.8" cy="1659.4" r="7.3" fill="#008000" fill-opacity="0.5" stroke="#008000" stroke-opacity="0.5" stroke-width="1.4"/>
<circle cx="1333.8" cy="1685.1" r="7.3" fill="#008000" fill-opacity="0.5" stroke="#008000" stroke-opacity="0.5" stroke-width="1.4"/>
<circle cx="1333.8" cy="1691.7" r="7.3" fill="#008000" fill-opacity="0.5" stroke="#008000" stroke-opacity="0.5" stroke-width="1.4"/>
<circle cx="1333.8" cy="1698.3" r="7.3" fill="#008000" fill-opacity="0.5" stroke="#008000" stroke-opacity="0.5" stroke-width="1.4"/>
<circle cx="1333.8" cy="1405" r="7.3" fill="#008000" fill-opacity="0.5" stroke="#008000" stroke-opacity="0.5" stroke-width="1.4"/>
<circle cx="1333.8" cy="1422.7" r="7.3" fill="#008000" fill-opacity="0.5" stroke="#008000" stroke-opacity="0.5" stroke-width="1.4"/>
<circle cx="1333.8" cy="1709.4" r="7.3" fill="#008000" fill-opacity="0.5" stroke="#008000" stroke-opacity="0.5" stroke-width="1.4"/>
<circle cx="1333.8" cy="1718.2" r="7.3" fill="#008000" fill-opacity="0.5" stroke="#008000" stroke-opacity="0.5" stroke-width="1.4"/>
<rect x="1325.8" y="1553.6" width="16" height="42.5" rx="8" fill="#008000"/>
<circle cx="1355.6" cy="1458.5" r="7.3" fill="#008000" fill-opacity="0.5" stroke="#008000" stroke-opacity="0.5" stroke-width="1.4"/>
<circle cx="1355.6" cy="1463.4" r="7.3" fill="#008000" fill-opacity="0.5" stroke="#008000" stroke-opacity="0.5" stroke-width="1.4"/>
<circle cx="1355.6" cy="1468.4" r="7.3" fill="#008000" fill-opacity="0.5" stroke="#008000" stroke-opacity="0.5" stroke-width="1.4"/>
<circle cx="1355.6" cy="1473.3" r="7.3" fill="#008000" fill-opacity="0.5" stroke="#008000" stroke-opacity="0.5" stroke-width="1.4"/>
<circle cx="1355.6" cy="1478.2" r="7.3" fill="#008000" fill-opacity="0.5" stroke="#008000" stroke-opacity="0.5" stroke-width="1.4"/>
<circle cx="1355.6" cy="1483.1" r="7.3" fill="#008000" fill-opacity="0.5" stroke="#008000" stroke-opacity="0.5" stroke-width="1.4"/>
<circle cx="1355.6" cy="1488.1" r="7.3" fill="#008000" fill-opacity="0.5" stroke="#008000" stroke-opacity="0.5" stroke-width="1.4"/>
<circle cx="1355.6" cy="1493" r="7.3" fill="#008000" fill-opacity="0.5" stroke="#008000" stroke-opacity="0.5" stroke-width="1.4"/>
<circle cx="1355.6" cy="1532.8" r="7.3" fill="#008000" fill-opacity="0.5" stroke="#008000" stroke-opacity="0.5" stroke-width="1.4"/>
<circle cx="1355.6" cy="1537.4" r="7.3" fill="#008000" fill-opacity="0.5" stroke="#008000" stroke-opacity="0.5" stroke-width="1.4"/>
<circle cx="1355.6" cy="1542" r="7.3" fill="#008000" fill-opacity="0.5" stroke="#008000" stroke-opacity="0.5" stroke-width="1.4"/>
<circle cx="1355.6" cy="1546.5" r="7.3" fill="#008000" fill-opacity="0.5" stroke="#008000" stroke-opacity="0.5" stroke-width="1.4"/>
<circle cx="1355.6" cy="1551.1" r="7.3" fill="#008000" fill-opacity="0.5" stroke="#008000" stroke-opacity="0.5" stroke-width="1.4"/>
<circle cx="1355.6" cy="1555.7" r="7.3" fill="#008000" fill-opacity="0.5" stroke="#008000" stroke-opacity="0.5" stroke-width="1.4"/>
<circle cx="1355.6" cy="1560.2" r="7.3" fill="#008000" fill-opacity="0.5" stroke="#008000" stroke-opacity="0.5" stroke-width="1.4"/>
<circle cx="1355.6" cy="1412.9" r="7.3" fill="#008000" fill-opacity="0.5" stroke="#008000" stroke-opacity="0.5" stroke-width="1.4"/>
<circle cx="1355.6" cy="1424.4" r="7.3" fill="#008000" fill-opacity="0.5" stroke="#008000" stroke-opacity="0.5" stroke-width="1.4"/>
<circle cx="1355.6" cy="1428" r="7.3" fill="#008000" fill-opacity="0.5" stroke="#008000" stroke-opacity="0.5" stroke-width="1.4"/>
<circle cx="1355.6" cy="1451" r="7.3" fill="#008000" fill-opacity="0.5" stroke="#008000" stroke-opacity="0.5" stroke-width="1.4"/>
<circle cx="1355.6" cy="1535" r="7.3" fill="#008000" fill-opacity="0.5" stroke="#008000" stroke-opacity="0.5" stroke-width="1.4"/>
<circle cx="1355.6" cy="1670.4" r="7.3" fill="#008000" fill-opacity="0.5" stroke="#008000" stroke-opacity="0.5" stroke-width="1.4"/>
<circle cx="1355.6" cy="1677.5" r="7.3" fill="#008000" fill-opacity="0.5" stroke="#008000" stroke-opacity="0.5" stroke-width="1.4"/>
<rect x="1347.6" y="1493.5" width="16" height="38.9" rx="8" fill="#008000"/>
<rect x="1347.6" y="1564.2" width="16" height="83.2" rx="8" fill="#008000"/>
<circle cx="1377.3" cy="1543.5" r="7.3" fill="#008000" fill-opacity="0.5" stroke="#008000" stroke-opacity="0.5" stroke-width="1.4"/>
<circle cx="1377.3" cy="1548.6" r="7.3" fill="#008000" fill-opacity="0.5" stroke="#008000" stroke-opacity="0.5" stroke-width="1.4"/>
<circle cx="1377.3" cy="1553.7" r="7.3" fill="#008000" fill-opacity="0.5" stroke="#008000" stroke-opacity="0.5" stroke-width="1.4"/>
<circle cx="1377.3" cy="1558.8" r="7.3" fill="#008000" fill-opacity="0.5" stroke="#008000" stroke-opacity="0.5" stroke-width="1.4"/>
<circle cx="1377.3" cy="1564" r="7.3" fill="#008000" fill-opacity="0.5" stroke="#008000" stroke-opacity="0.5" stroke-width="1.4"/>
<circle cx="1377.3" cy="1569.1" r="7.3" fill="#008000" fill-opacity="0.5" stroke="#008000" stroke-opacity="0.5" stroke-width="1.4"/>
<circle cx="1377.3" cy="1582.4" r="7.3" fill="#008000" fill-opacity="0.5" stroke="#008000" stroke-opacity="0.5" stroke-width="1.4"/>
<circle cx="1377.3" cy="1588" r="7.3" fill="#008000" fill-opacity="0.5" stroke="#008000" stroke-opacity="0.5" stroke-width="1.4"/>
<circle cx="1377.3" cy="1593.6" r="7.3" fill="#008000" fill-opacity="0.5" stroke="#008000" stroke-opacity="0.5" stroke-width="1.4"/>
<circle cx="1377.3" cy="1599.2" r="7.3" fill="#008000" fill-opacity="0.5" stroke="#008000" stroke-opacity="0.5" stroke-width="1.4"/>
<circle cx="1377.3" cy="1600.1" r="7.3" fill="#008000" fill-opacity="0.5" stroke="#008000" stroke-opacity="0.5" stroke-width="1.4"/>
<circle cx="1377.3" cy="1604.8" r="7.3" fill="#008000" fill-opacity="0.5" stroke="#008000" stroke-opacity="0.5" stroke-width="1.4"/>
<circle cx="1377.3" cy="1609.4" r="7.3" fill="#008000" fill-opacity="0.5" stroke="#008000" stroke-opacity="0.5" stroke-width="1.4"/>
<circle cx="1377.3" cy="1614.1" r="7.3" fill="#008000" fill-opacity="0.5" stroke="#008000" stroke-opacity="0.5" stroke-width="1.4"/>
<circle cx="1377.3" cy="1618.7" r="7.3" fill="#008000" fill-opacity="0.5" stroke="#008000" stroke-opacity="0.5" stroke-width="1.4"/>
<circle cx="1377.3" cy="1623.4" r="7.3" fill="#008000" fill-opacity="0.5" stroke="#008000" stroke-opacity="0.5" stroke-width="1.4"/>
<circle cx="1377.3" cy="1628.1" r="7.3" fill="#008000" fill-opacity="0.5" stroke="#008000" stroke-opacity="0.5" stroke-width="1.4"/>
<circle cx="1377.3" cy="1632.7" r="7.3" fill="#008000" fill-opacity="0.5" stroke="#008000" stroke-opacity="0.5" stroke-width="1.4"/>
<circle cx="1377.3" cy="1637.4" r="7.3" fill="#008000" fill-opacity="0.5" stroke="#008000" stroke-opacity="0.5" stroke-width="1.4"/>
<circle cx="1377.3" cy="1642" r="7.3" fill="#008000" fill-opacity="0.5" stroke="#008000" stroke-opacity="0.5" stroke-width="1.4"/>
<circle cx="1377.3" cy="1646.7" r="7.3" fill="#008000" fill-opacity="0.5" stroke="#008000" stroke-opacity="0.5" stroke-width="1.4"/>
<circle cx="1377.3" cy="1651.3" r="7.3" fill="#008000" fill-opacity="0.5" stroke="#008000" stroke-opacity="0.5" stroke-width="1.4"/>
<circle cx="1377.3" cy="1656" r="7.3" fill="#008000" fill-opacity="0.5" stroke="#008000" stroke-opacity="0.5" stroke-width="1.4"/>
<circle cx="1377.3" cy="1660.7" r="7.3" fill="#008000" fill-opacity="0.5" stroke="#008000" stroke-opacity="0.5" stroke-width="1.4"/>
<circle cx="1377.3" cy="1665.3" r="7.3" fill="#008000" fill-opacity="0.5" stroke="#008000" stroke-opacity="0.5" stroke-width="1.4"/>
<circle cx="1377.3" cy="1670" r="7.3" fill="#008000" fill-opacity="0.5" stroke="#008000" stroke-opacity="0.5" stroke-width="1.4"/>
<circle cx="1377.3" cy="1379.3" r="7.3" fill="#008000" fill-opacity="0.5" stroke="#008000" stroke-opacity="0.5" stroke-width="1.4"/>
<circle cx="1377.3" cy="1389" r="7.3" fill="#008000" fill-opacity="0.5" stroke="#008000" stroke-opacity="0.5" stroke-width="1.4"/>
<circle cx="1377.3" cy="1406.7" r="7.3" fill="#008000" fill-opacity="0.5" stroke="#008000" stroke-opacity="0.5" stroke-width="1.4"/>
<circle cx="1377.3" cy="1422.7" r="7.3" fill="#008000" fill-opacity="0.5" stroke="#008000" stroke-opacity="0.5" stroke-width="1.4"/>
<circle cx="1377.3" cy="1451.9" r="7.3" fill="#008000" fill-opacity="0.5" stroke="#008000" stroke-opacity="0.5" stroke-width="1.4"/>
<circle cx="1377.3" cy="1472.2" r="7.3" fill="#008000" fill-opacity="0.5" stroke="#008000" stroke-opacity="0.5" stroke-width="1.4"/>
<circle cx="1377.3" cy="1475.8" r="7.3" fill="#008000" fill-opacity="0.5" stroke="#008000" stroke-opacity="0.5" stroke-width="1.4"/>
<circle cx="1377.3" cy="1491.7" r="7.3" fill="#008000" fill-opacity="0.5" stroke="#008000" stroke-opacity="0.5" stroke-width="1.4"/>
<circle cx="1377.3" cy="1514.7" r="7.3" fill="#008000" fill-opacity="0.5" stroke="#008000" stroke-opacity="0.5" stroke-width="1.4"/>
<circle cx="1377.3" cy="1681.1" r="7.3" fill="#008000" fill-opacity="0.5" stroke="#008000" stroke-opacity="0.5" stroke-width="1.4"/>
<circle cx="1377.3" cy="1698.8" r="7.3" fill="#008000" fill-opacity="0.5" stroke="#008000" stroke-opacity="0.5" stroke-width="1.4"/>
<circle cx="1377.3" cy="1725.3" r="7.3" fill="#008000" fill-opacity="0.5" stroke="#008000" stroke-opacity="0.5" stroke-width="1.4"/>
<circle cx="1399" cy="1335.9" r="7.3" fill="#008000" fill-opacity="0.5" stroke="#008000" stroke-opacity="0.5" stroke-width="1.4"/>
<circle cx="1399" cy="1352.7" r="7.3" fill="#008000" fill-opacity="0.5" stroke="#008000" stroke-opacity="0.5" stroke-width="1.4"/>
<rect x="1391" y="1378.4" width="16" height="357.5" rx="8" fill="#008000"/>
<circle cx="1420.7" cy="1532.8" r="7.3" fill="#008000" fill-opacity="0.5" stroke="#008000" stroke-opacity="0.5" stroke-width="1.4"/>
<circle cx="1420.7" cy="1537.4" r="7.3" fill="#008000" fill-opacity="0.5" stroke="#008000" stroke-opacity="0.5" stroke-width="1.4"/>
<circle cx="1420.7" cy="1541.9" r="7.3" fill="#008000" fill-opacity="0.5" stroke="#008000" stroke-opacity="0.5" stroke-width="1.4"/>
<circle cx="1420.7" cy="1546.4" r="7.3" fill="#008000" fill-opacity="0.5" stroke="#008000" stroke-opacity="0.5" stroke-width="1.4"/>
<circle cx="1420.7" cy="1550.9" r="7.3" fill="#008000" fill-opacity="0.5" stroke="#008000" stroke-opacity="0.5" stroke-width="1.4"/>
<circle cx="1420.7" cy="1555.4" r="7.3" fill="#008000" fill-opacity="0.5" stroke="#008000" stroke-opacity="0.5" stroke-width="1.4"/>
<circle cx="1420.7" cy="1560" r="7.3" fill="#008000" fill-opacity="0.5" stroke="#008000" stroke-opacity="0.5" stroke-width="1.4"/>
<circle cx="1420.7" cy="1564.5" r="7.3" fill="#008000" fill-opacity="0.5" stroke="#008000" stroke-opacity="0.5" stroke-width="1.4"/>
<circle cx="1420.7" cy="1569" r="7.3" fill="#008000" fill-opacity="0.5" stroke="#008000" stroke-opacity="0.5" stroke-width="1.4"/>
<circle cx="1420.7" cy="1573.5" r="7.3" fill="#008000" fill-opacity="0.5" stroke="#008000" stroke-opacity="0.5" stroke-width="1.4"/>
<circle cx="1420.7" cy="1578" r="7.3" fill="#008000" fill-opacity="0.5" stroke="#008000" stroke-opacity="0.5" stroke-width="1.4"/>
<circle cx="1420.7" cy="1582.6" r="7.3" fill="#008000" fill-opacity="0.5" stroke="#008000" stroke-opacity="0.5" stroke-width="1.4"/>
<circle cx="1420.7" cy="1587.1" r="7.3" fill="#008000" fill-opacity="0.5" stroke="#008000" stroke-opacity="0.5" stroke-width="1.4"/>
<circle cx="1420.7" cy="1591.6" r="7.3" fill="#008000" fill-opacity="0.5" stroke="#008000" stroke-opacity="0.5" stroke-width="1.4"/>
<circle cx="1420.7" cy="1596.1" r="7.3" fill="#008000" fill-opacity="0.5" stroke="#008000" stroke-opacity="0.5" stroke-width="1.4"/>
<circle cx="1420.7" cy="1600.6" r="7.3" fill="#008000" fill-opacity="0.5" stroke="#008000" stroke-opacity="0.5" stroke-width="1.4"/>
<circle cx="1420.7" cy="1605.1" r="7.3" fill="#008000" fill-opacity="0.5" stroke="#008000" stroke-opacity="0.5" stroke-width="1.4"/>
<circle cx="1420.7" cy="1609.7" r="7.3" fill="#008000" fill-opacity="0.5" stroke="#008000" stroke-opacity="0.5" stroke-width="1.4"/>
<circle cx="1420.7" cy="1614.2" r="7.3" fill="#008000" fill-opacity="0.5" stroke="#008000" stroke-opacity="0.5" stroke-width="1.4"/>
<circle cx="1420.7" cy="1618.7" r="7.3" fill="#008000" fill-opacity="0.5" stroke="#008000" stroke-opacity="0.5" stroke-width="1.4"/>
<circle cx="1420.7" cy="1623.2" r="7.3" fill="#008000" fill-opacity="0.5" stroke="#008000" stroke-opacity="0.5" stroke-width="1.4"/>
<circle cx="1420.7" cy="1627.7" r="7.3" fill="#008000" fill-opacity="0.5" stroke="#008000" stroke-opacity="0.5" stroke-width="1.4"/>
<circle cx="1420.7" cy="1632.3" r="7.3" fill="#008000" fill-opacity="0.5" stroke="#008000" stroke-opacity="0.5" stroke-width="1.4"/>
<circle cx="1420.7" cy="1636.8" r="7.3" fill="#008000" fill-opacity="0.5" stroke="#008000" stroke-opacity="0.5" stroke-width="1.4"/>
<circle cx="1420.7" cy="1641.3" r="7.3" fill="#008000" fill-opacity="0.5" stroke="#008000" stroke-opacity="0.5" stroke-width="1.4"/>
<circle cx="1420.7" cy="1645.8" r="7.3" fill="#008000" fill-opacity="0.5" stroke="#008000" stroke-opacity="0.5" stroke-width="1.4"/>
<circle cx="1420.7" cy="1650.3" r="7.3" fill="#008000" fill-opacity="0.5" stroke="#008000" stroke-opacity="0.5" stroke-width="1.4"/>
<circle cx="1420.7" cy="1654.8" r="7.3" fill="#008000" fill-opacity="0.5" stroke="#008000" stroke-opacity="0.5" stroke-width="1.4"/>
<circle cx="1420.7" cy="1659.4" r="7.3" fill="#008000" fill-opacity="0.5" stroke="#008000" stroke-opacity="0.5" stroke-width="1.4"/>
<circle cx="1420.7" cy="1676.2" r="7.3" fill="#008000" fill-opacity="0.5" stroke="#008000" stroke-opacity="0.5" stroke-width="1.4"/>
<circle cx="1420.7" cy="1680.8" r="7.3" fill="#008000" fill-opacity="0.5" stroke="#008000" stroke-opacity="0.5" stroke-width="1.4"/>
<circle cx="1420.7" cy="1685.3" r="7.3" fill="#008000" fill-opacity="0.5" stroke="#008000" stroke-opacity="0.5" stroke-width="1.4"/>
<circle cx="1420.7" cy="1689.9" r="7.3" fill="#008000" fill-opacity="0.5" stroke="#008000" stroke-opacity="0.5" stroke-width="1.4"/>
<circle cx="1420.7" cy="1694.5" r="7.3" fill="#008000" fill-opacity="0.5" stroke="#008000" stroke-opacity="0.5" stroke-width="1.4"/>
<circle cx="1420.7" cy="1699" r="7.3" fill="#008000" fill-opacity="0.5" stroke="#008000" stroke-opacity="0.5" stroke-width="1.4"/>
<circle cx="1420.7" cy="1703.6" r="7.3" fill="#008000" fill-opacity="0.5" stroke="#008000" stroke-opacity="0.5" stroke-width="1.4"/>
<circle cx="1420.7" cy="1382.8" r="7.3" fill="#008000" fill-opacity="0.5" stroke="#008000" stroke-opacity="0.5" stroke-width="1.4"/>
<circle cx="1420.7" cy="1409.4" r="7.3" fill="#008000" fill-opacity="0.5" stroke="#008000" stroke-opacity="0.5" stroke-width="1.4"/>
<circle cx="1420.7" cy="1428" r="7.3" fill="#008000" fill-opacity="0.5" stroke="#008000" stroke-opacity="0.5" stroke-width="1.4"/>
<circle cx="1420.7" cy="1431.5" r="7.3" fill="#008000" fill-opacity="0.5" stroke="#008000" stroke-opacity="0.5" stroke-width="1.4"/>
<circle cx="1420.7" cy="1458.9" r="7.3" fill="#008000" fill-opacity="0.5" stroke="#008000" stroke-opacity="0.5" stroke-width="1.4"/>
<circle cx="1420.7" cy="1475.8" r="7.3" fill="#008000" fill-opacity="0.5" stroke="#008000" stroke-opacity="0.5" stroke-width="1.4"/>
<circle cx="1420.7" cy="1709.4" r="7.3" fill="#008000" fill-opacity="0.5" stroke="#008000" stroke-opacity="0.5" stroke-width="1.4"/>
<circle cx="1420.7" cy="1727.1" r="7.3" fill="#008000" fill-opacity="0.5" stroke="#008000" stroke-opacity="0.5" stroke-width="1.4"/>
<rect x="1412.7" y="1486.4" width="16" height="35.4" rx="8" fill="#008000"/>
<rect x="1412.7" y="1585.5" width="16" height="35.4" rx="8" fill="#008000"/>
<circle cx="1442.4" cy="1391.3" r="7.3" fill="#008000" fill-opacity="0.5" stroke="#008000" stroke-opacity="0.5" stroke-width="1.4"/>
<circle cx="1442.4" cy="1396.1" r="7.3" fill="#008000" fill-opacity="0.5" stroke="#008000" stroke-opacity="0.5" stroke-width="1.4"/>
<circle cx="1442.4" cy="1400.9" r="7.3" fill="#008000" fill-opacity="0.5" stroke="#008000" stroke-opacity="0.5" stroke-width="1.4"/>
<circle cx="1442.4" cy="1405.7" r="7.3" fill="#008000" fill-opacity="0.5" stroke="#008000" stroke-opacity="0.5" stroke-width="1.4"/>
<circle cx="1442.4" cy="1410.6" r="7.3" fill="#008000" fill-opacity="0.5" stroke="#008000" stroke-opacity="0.5" stroke-width="1.4"/>
<circle cx="1442.4" cy="1415.4" r="7.3" fill="#008000" fill-opacity="0.5" stroke="#008000" stroke-opacity="0.5" stroke-width="1.4"/>
<circle cx="1442.4" cy="1420.2" r="7.3" fill="#008000" fill-opacity="0.5" stroke="#008000" stroke-opacity="0.5" stroke-width="1.4"/>
<circle cx="1442.4" cy="1425.1" r="7.3" fill="#008000" fill-opacity="0.5" stroke="#008000" stroke-opacity="0.5" stroke-width="1.4"/>
<circle cx="1442.4" cy="1429.9" r="7.3" fill="#008000" fill-opacity="0.5" stroke="#008000" stroke-opacity="0.5" stroke-width="1.4"/>
<circle cx="1442.4" cy="1434.7" r="7.3" fill="#008000" fill-opacity="0.5" stroke="#008000" stroke-opacity="0.5" stroke-width="1.4"/>
<circle cx="1442.4" cy="1439.6" r="7.3" fill="#008000" fill-opacity="0.5" stroke="#008000" stroke-opacity="0.5" stroke-width="1.4"/>
<circle cx="1442.4" cy="1444.4" r="7.3" fill="#008000" fill-opacity="0.5" stroke="#008000" stroke-opacity="0.5" stroke-width="1.4"/>
<circle cx="1442.4" cy="1449.2" r="7.3" fill="#008000" fill-opacity="0.5" stroke="#008000" stroke-opacity="0.5" stroke-width="1.4"/>
<circle cx="1442.4" cy="1454.1" r="7.3" fill="#008000" fill-opacity="0.5" stroke="#008000" stroke-opacity="0.5" stroke-width="1.4"/>
<circle cx="1442.4" cy="1486.8" r="7.3" fill="#008000" fill-opacity="0.5" stroke="#008000" stroke-opacity="0.5" stroke-width="1.4"/>
<circle cx="1442.4" cy="1491.6" r="7.3" fill="#008000" fill-opacity="0.5" stroke="#008000" stroke-opacity="0.5" stroke-width="1.4"/>
<circle cx="1442.4" cy="1496.4" r="7.3" fill="#008000" fill-opacity="0.5" stroke="#008000" stroke-opacity="0.5" stroke-width="1.4"/>
<circle cx="1442.4" cy="1501.1" r="7.3" fill="#008000" fill-opacity="0.5" stroke="#008000" stroke-opacity="0.5" stroke-width="1.4"/>
<circle cx="1442.4" cy="1505.9" r="7.3" fill="#008000" fill-opacity="0.5" stroke="#008000" stroke-opacity="0.5" stroke-width="1.4"/>
<circle cx="1442.4" cy="1510.7" r="7.3" fill="#008000" fill-opacity="0.5" stroke="#008000" stroke-opacity="0.5" stroke-width="1.4"/>
<circle cx="1442.4" cy="1655" r="7.3" fill="#008000" fill-opacity="0.5" stroke="#008000" stroke-opacity="0.5" stroke-width="1.4"/>
<circle cx="1442.4" cy="1660.5" r="7.3" fill="#008000" fill-opacity="0.5" stroke="#008000" stroke-opacity="0.5" stroke-width="1.4"/>
<circle cx="1442.4" cy="1666" r="7.3" fill="#008000" fill-opacity="0.5" stroke="#008000" stroke-opacity="0.5" stroke-width="1.4"/>
<circle cx="1442.4" cy="1671.5" r="7.3" fill="#008000" fill-opacity="0.5" stroke="#008000" stroke-opacity="0.5" stroke-width="1.4"/>
<circle cx="1442.4" cy="1677.1" r="7.3" fill="#008000" fill-opacity="0.5" stroke="#008000" stroke-opacity="0.5" stroke-width="1.4"/>
<circle cx="1442.4" cy="1475.8" r="7.3" fill="#008000" fill-opacity="0.5" stroke="#008000" stroke-opacity="0.5" stroke-width="1.4"/>
<circle cx="1442.4" cy="1629.7" r="7.3" fill="#008000" fill-opacity="0.5" stroke="#008000" stroke-opacity="0.5" stroke-width="1.4"/>
<circle cx="1442.4" cy="1702.3" r="7.3" fill="#008000" fill-opacity="0.5" stroke="#008000" stroke-opacity="0.5" stroke-width="1.4"/>
<circle cx="1442.4" cy="1714.7" r="7.3" fill="#008000" fill-opacity="0.5" stroke="#008000" stroke-opacity="0.5" stroke-width="1.4"/>
<rect x="1434.4" y="1514.7" width="16" height="106.2" rx="8" fill="#008000"/>
<circle cx="1464.1" cy="1369.2" r="7.3" fill="#008000" fill-opacity="0.5" stroke="#008000" stroke-opacity="0.5" stroke-width="1.4"/>
<circle cx="1464.1" cy="1688.1" r="7.3" fill="#008000" fill-opacity="0.5" stroke="#008000" stroke-opacity="0.5" stroke-width="1.4"/>
<circle cx="1464.1" cy="1704.1" r="7.3" fill="#008000" fill-opacity="0.5" stroke="#008000" stroke-opacity="0.5" stroke-width="1.4"/>
<circle cx="1464.1" cy="1716.5" r="7.3" fill="#008000" fill-opacity="0.5" stroke="#008000" stroke-opacity="0.5" stroke-width="1.4"/>
<rect x="1456.1" y="1415.6" width="16" height="267.3" rx="8" fill="#008000"/>
<circle cx="1485.8" cy="1380.2" r="7.3" fill="#008000" fill-opacity="0.5" stroke="#008000" stroke-opacity="0.5" stroke-width="1.4"/>
<circle cx="1485.8" cy="1700.5" r="7.3" fill="#008000" fill-opacity="0.5" stroke="#008000" stroke-opacity="0.5" stroke-width="1.4"/>
<rect x="1477.8" y="1420.9" width="16" height="249.6" rx="8" fill="#008000"/>
<circle cx="1507.5" cy="1369.6" r="7.3" fill="#008000" fill-opacity="0.5" stroke="#008000" stroke-opacity="0.5" stroke-width="1.4"/>
<circle cx="1507.5" cy="1700.5" r="7.3" fill="#008000" fill-opacity="0.5" stroke="#008000" stroke-opacity="0.5" stroke-width="1.4"/>
<circle cx="1507.5" cy="1709.4" r="7.3" fill="#008000" fill-opacity="0.5" stroke="#008000" stroke-opacity="0.5" stroke-width="1.4"/>
<circle cx="1507.5" cy="1725.3" r="7.3" fill="#008000" fill-opacity="0.5" stroke="#008000" stroke-opacity="0.5" stroke-width="1.4"/>
<rect x="1499.5" y="1381.9" width="16" height="308" rx="8" fill="#008000"/>
<circle cx="1529.3" cy="1479.8" r="7.3" fill="#008000" fill-opacity="0.5" stroke="#008000" stroke-opacity="0.5" stroke-width="1.4"/>
<circle cx="1529.3" cy="1484.3" r="7.3" fill="#008000" fill-opacity="0.5" stroke="#008000" stroke-opacity="0.5" stroke-width="1.4"/>
<circle cx="1529.3" cy="1488.9" r="7.3" fill="#008000" fill-opacity="0.5" stroke="#008000" stroke-opacity="0.5" stroke-width="1.4"/>
<circle cx="1529.3" cy="1493.5" r="7.3" fill="#008000" fill-opacity="0.5" stroke="#008000" stroke-opacity="0.5" stroke-width="1.4"/>
<circle cx="1529.3" cy="1498.1" r="7.3" fill="#008000" fill-opacity="0.5" stroke="#008000" stroke-opacity="0.5" stroke-width="1.4"/>
<circle cx="1529.3" cy="1502.7" r="7.3" fill="#008000" fill-opacity="0.5" stroke="#008000" stroke-opacity="0.5" stroke-width="1.4"/>
<circle cx="1529.3" cy="1507.3" r="7.3" fill="#008000" fill-opacity="0.5" stroke="#008000" stroke-opacity="0.5" stroke-width="1.4"/>
<circle cx="1529.3" cy="1511.9" r="7.3" fill="#008000" fill-opacity="0.5" stroke="#008000" stroke-opacity="0.5" stroke-width="1.4"/>
<circle cx="1529.3" cy="1516.5" r="7.3" fill="#008000" fill-opacity="0.5" stroke="#008000" stroke-opacity="0.5" stroke-width="1.4"/>
<circle cx="1529.3" cy="1521" r="7.3" fill="#008000" fill-opacity="0.5" stroke="#008000" stroke-opacity="0.5" stroke-width="1.4"/>
<circle cx="1529.3" cy="1525.6" r="7.3" fill="#008000" fill-opacity="0.5" stroke="#008000" stroke-opacity="0.5" stroke-width="1.4"/>
<circle cx="1529.3" cy="1530.2" r="7.3" fill="#008000" fill-opacity="0.5" stroke="#008000" stroke-opacity="0.5" stroke-width="1.4"/>
<circle cx="1529.3" cy="1534.8" r="7.3" fill="#008000" fill-opacity="0.5" stroke="#008000" stroke-opacity="0.5" stroke-width="1.4"/>
<circle cx="1529.3" cy="1539.4" r="7.3" fill="#008000" fill-opacity="0.5" stroke="#008000" stroke-opacity="0.5" stroke-width="1.4"/>
<circle cx="1529.3" cy="1544" r="7.3" fill="#008000" fill-opacity="0.5" stroke="#008000" stroke-opacity="0.5" stroke-width="1.4"/>
<circle cx="1529.3" cy="1548.6" r="7.3" fill="#008000" fill-opacity="0.5" stroke="#008000" stroke-opacity="0.5" stroke-width="1.4"/>
<circle cx="1529.3" cy="1553.2" r="7.3" fill="#008000" fill-opacity="0.5" stroke="#008000" stroke-opacity="0.5" stroke-width="1.4"/>
<circle cx="1529.3" cy="1557.8" r="7.3" fill="#008000" fill-opacity="0.5" stroke="#008000" stroke-opacity="0.5" stroke-width="1.4"/>
<circle cx="1529.3" cy="1562.3" r="7.3" fill="#008000" fill-opacity="0.5" stroke="#008000" stroke-opacity="0.5" stroke-width="1.4"/>
<circle cx="1529.3" cy="1566.9" r="7.3" fill="#008000" fill-opacity="0.5" stroke="#008000" stroke-opacity="0.5" stroke-width="1.4"/>
<circle cx="1529.3" cy="1571.5" r="7.3" fill="#008000" fill-opacity="0.5" stroke="#008000" stroke-opacity="0.5" stroke-width="1.4"/>
<circle cx="1529.3" cy="1576.1" r="7.3" fill="#008000" fill-opacity="0.5" stroke="#008000" stroke-opacity="0.5" stroke-width="1.4"/>
<circle cx="1529.3" cy="1580.7" r="7.3" fill="#008000" fill-opacity="0.5" stroke="#008000" stroke-opacity="0.5" stroke-width="1.4"/>
<circle cx="1529.3" cy="1585.3" r="7.3" fill="#008000" fill-opacity="0.5" stroke="#008000" stroke-opacity="0.5" stroke-width="1.4"/>
<circle cx="1529.3" cy="1589.9" r="7.3" fill="#008000" fill-opacity="0.5" stroke="#008000" stroke-opacity="0.5" stroke-width="1.4"/>
<circle cx="1529.3" cy="1594.5" r="7.3" fill="#008000" fill-opacity="0.5" stroke="#008000" stroke-opacity="0.5" stroke-width="1.4"/>
<circle cx="1529.3" cy="1599.1" r="7.3" fill="#008000" fill-opacity="0.5" stroke="#008000" stroke-opacity="0.5" stroke-width="1.4"/>
<circle cx="1529.3" cy="1603.6" r="7.3" fill="#008000" fill-opacity="0.5" stroke="#008000" stroke-opacity="0.5" stroke-width="1.4"/>
<circle cx="1529.3" cy="1608.2" r="7.3" fill="#008000" fill-opacity="0.5" stroke="#008000" stroke-opacity="0.5" stroke-width="1.4"/>
<circle cx="1529.3" cy="1612.8" r="7.3" fill="#008000" fill-opacity="0.5" stroke="#008000" stroke-opacity="0.5" stroke-width="1.4"/>
<circle cx="1529.3" cy="1617.4" r="7.3" fill="#008000" fill-opacity="0.5" stroke="#008000" stroke-opacity="0.5" stroke-width="1.4"/>
<circle cx="1529.3" cy="1622" r="7.3" fill="#008000" fill-opacity="0.5" stroke="#008000" stroke-opacity="0.5" stroke-width="1.4"/>
<circle cx="1529.3" cy="1626.6" r="7.3" fill="#008000" fill-opacity="0.5" stroke="#008000" stroke-opacity="0.5" stroke-width="1.4"/>
<circle cx="1529.3" cy="1631.2" r="7.3" fill="#008000" fill-opacity="0.5" stroke="#008000" stroke-opacity="0.5" stroke-width="1.4"/>
<circle cx="1529.3" cy="1635.8" r="7.3" fill="#008000" fill-opacity="0.5" stroke="#008000" stroke-opacity="0.5" stroke-width="1.4"/>
<circle cx="1529.3" cy="1640.4" r="7.3" fill="#008000" fill-opacity="0.5" stroke="#008000" stroke-opacity="0.5" stroke-width="1.4"/>
<circle cx="1529.3" cy="1644.9" r="7.3" fill="#008000" fill-opacity="0.5" stroke="#008000" stroke-opacity="0.5" stroke-width="1.4"/>
<circle cx="1529.3" cy="1649.5" r="7.3" fill="#008000" fill-opacity="0.5" stroke="#008000" stroke-opacity="0.5" stroke-width="1.4"/>
<circle cx="1529.3" cy="1654.1" r="7.3" fill="#008000" fill-opacity="0.5" stroke="#008000" stroke-opacity="0.5" stroke-width="1.4"/>
<circle cx="1529.3" cy="1658.7" r="7.3" fill="#008000" fill-opacity="0.5" stroke="#008000" stroke-opacity="0.5" stroke-width="1.4"/>
<circle cx="1529.3" cy="1663.3" r="7.3" fill="#008000" fill-opacity="0.5" stroke="#008000" stroke-opacity="0.5" stroke-width="1.4"/>
<circle cx="1529.3" cy="1667.9" r="7.3" fill="#008000" fill-opacity="0.5" stroke="#008000" stroke-opacity="0.5" stroke-width="1.4"/>
<circle cx="1529.3" cy="1672.5" r="7.3" fill="#008000" fill-opacity="0.5" stroke="#008000" stroke-opacity="0.5" stroke-width="1.4"/>
<circle cx="1529.3" cy="1677.1" r="7.3" fill="#008000" fill-opacity="0.5" stroke="#008000" stroke-opacity="0.5" stroke-width="1.4"/>
<circle cx="1529.3" cy="1367.8" r="7.3" fill="#008000" fill-opacity="0.5" stroke="#008000" stroke-opacity="0.5" stroke-width="1.4"/>
<circle cx="1529.3" cy="1396.1" r="7.3" fill="#008000" fill-opacity="0.5" stroke="#008000" stroke-opacity="0.5" stroke-width="1.4"/>
<circle cx="1529.3" cy="1416.5" r="7.3" fill="#008000" fill-opacity="0.5" stroke="#008000" stroke-opacity="0.5" stroke-width="1.4"/>
<circle cx="1529.3" cy="1691.7" r="7.3" fill="#008000" fill-opacity="0.5" stroke="#008000" stroke-opacity="0.5" stroke-width="1.4"/>
<circle cx="1529.3" cy="1704.1" r="7.3" fill="#008000" fill-opacity="0.5" stroke="#008000" stroke-opacity="0.5" stroke-width="1.4"/>
<circle cx="1529.3" cy="1709.4" r="7.3" fill="#008000" fill-opacity="0.5" stroke="#008000" stroke-opacity="0.5" stroke-width="1.4"/>
<rect x="1521.3" y="1426.2" width="16" height="47.8" rx="8" fill="#008000"/>
<rect x="1521.3" y="1581.9" width="16" height="42.5" rx="8" fill="#008000"/>
<circle cx="1551" cy="1430.2" r="7.3" fill="#008000" fill-opacity="0.5" stroke="#008000" stroke-opacity="0.5" stroke-width="1.4"/>
<circle cx="1551" cy="1434.7" r="7.3" fill="#008000" fill-opacity="0.5" stroke="#008000" stroke-opacity="0.5" stroke-width="1.4"/>
<circle cx="1551" cy="1439.2" r="7.3" fill="#008000" fill-opacity="0.5" stroke="#008000" stroke-opacity="0.5" stroke-width="1.4"/>
<circle cx="1551" cy="1443.7" r="7.3" fill="#008000" fill-opacity="0.5" stroke="#008000" stroke-opacity="0.5" stroke-width="1.4"/>
<circle cx="1551" cy="1448.2" r="7.3" fill="#008000" fill-opacity="0.5" stroke="#008000" stroke-opacity="0.5" stroke-width="1.4"/>
<circle cx="1551" cy="1452.7" r="7.3" fill="#008000" fill-opacity="0.5" stroke="#008000" stroke-opacity="0.5" stroke-width="1.4"/>
<circle cx="1551" cy="1457.2" r="7.3" fill="#008000" fill-opacity="0.5" stroke="#008000" stroke-opacity="0.5" stroke-width="1.4"/>
<circle cx="1551" cy="1461.7" r="7.3" fill="#008000" fill-opacity="0.5" stroke="#008000" stroke-opacity="0.5" stroke-width="1.4"/>
<circle cx="1551" cy="1466.2" r="7.3" fill="#008000" fill-opacity="0.5" stroke="#008000" stroke-opacity="0.5" stroke-width="1.4"/>
<circle cx="1551" cy="1470.7" r="7.3" fill="#008000" fill-opacity="0.5" stroke="#008000" stroke-opacity="0.5" stroke-width="1.4"/>
<circle cx="1551" cy="1475.2" r="7.3" fill="#008000" fill-opacity="0.5" stroke="#008000" stroke-opacity="0.5" stroke-width="1.4"/>
<circle cx="1551" cy="1479.7" r="7.3" fill="#008000" fill-opacity="0.5" stroke="#008000" stroke-opacity="0.5" stroke-width="1.4"/>
<circle cx="1551" cy="1484.2" r="7.3" fill="#008000" fill-opacity="0.5" stroke="#008000" stroke-opacity="0.5" stroke-width="1.4"/>
<circle cx="1551" cy="1488.7" r="7.3" fill="#008000" fill-opacity="0.5" stroke="#008000" stroke-opacity="0.5" stroke-width="1.4"/>
<circle cx="1551" cy="1493.2" r="7.3" fill="#008000" fill-opacity="0.5" stroke="#008000" stroke-opacity="0.5" stroke-width="1.4"/>
<circle cx="1551" cy="1497.7" r="7.3" fill="#008000" fill-opacity="0.5" stroke="#008000" stroke-opacity="0.5" stroke-width="1.4"/>
<circle cx="1551" cy="1502.2" r="7.3" fill="#008000" fill-opacity="0.5" stroke="#008000" stroke-opacity="0.5" stroke-width="1.4"/>
<circle cx="1551" cy="1506.7" r="7.3" fill="#008000" fill-opacity="0.5" stroke="#008000" stroke-opacity="0.5" stroke-width="1.4"/>
<circle cx="1551" cy="1511.3" r="7.3" fill="#008000" fill-opacity="0.5" stroke="#008000" stroke-opacity="0.5" stroke-width="1.4"/>
<circle cx="1551" cy="1515.8" r="7.3" fill="#008000" fill-opacity="0.5" stroke="#008000" stroke-opacity="0.5" stroke-width="1.4"/>
<circle cx="1551" cy="1520.3" r="7.3" fill="#008000" fill-opacity="0.5" stroke="#008000" stroke-opacity="0.5" stroke-width="1.4"/>
<circle cx="1551" cy="1524.8" r="7.3" fill="#008000" fill-opacity="0.5" stroke="#008000" stroke-opacity="0.5" stroke-width="1.4"/>
<circle cx="1551" cy="1529.3" r="7.3" fill="#008000" fill-opacity="0.5" stroke="#008000" stroke-opacity="0.5" stroke-width="1.4"/>
<circle cx="1551" cy="1533.8" r="7.3" fill="#008000" fill-opacity="0.5" stroke="#008000" stroke-opacity="0.5" stroke-width="1.4"/>
<circle cx="1551" cy="1538.3" r="7.3" fill="#008000" fill-opacity="0.5" stroke="#008000" stroke-opacity="0.5" stroke-width="1.4"/>
<circle cx="1551" cy="1542.8" r="7.3" fill="#008000" fill-opacity="0.5" stroke="#008000" stroke-opacity="0.5" stroke-width="1.4"/>
<circle cx="1551" cy="1547.3" r="7.3" fill="#008000" fill-opacity="0.5" stroke="#008000" stroke-opacity="0.5" stroke-width="1.4"/>
<circle cx="1551" cy="1551.8" r="7.3" fill="#008000" fill-opacity="0.5" stroke="#008000" stroke-opacity="0.5" stroke-width="1.4"/>
<circle cx="1551" cy="1556.3" r="7.3" fill="#008000" fill-opacity="0.5" stroke="#008000" stroke-opacity="0.5" stroke-width="1.4"/>
<circle cx="1551" cy="1560.8" r="7.3" fill="#008000" fill-opacity="0.5" stroke="#008000" stroke-opacity="0.5" stroke-width="1.4"/>
<circle cx="1551" cy="1565.3" r="7.3" fill="#008000" fill-opacity="0.5" stroke="#008000" stroke-opacity="0.5" stroke-width="1.4"/>
<circle cx="1551" cy="1569.8" r="7.3" fill="#008000" fill-opacity="0.5" stroke="#008000" stroke-opacity="0.5" stroke-width="1.4"/>
<circle cx="1551" cy="1574.3" r="7.3" fill="#008000" fill-opacity="0.5" stroke="#008000" stroke-opacity="0.5" stroke-width="1.4"/>
<circle cx="1551" cy="1578.8" r="7.3" fill="#008000" fill-opacity="0.5" stroke="#008000" stroke-opacity="0.5" stroke-width="1.4"/>
<circle cx="1551" cy="1583.3" r="7.3" fill="#008000" fill-opacity="0.5" stroke="#008000" stroke-opacity="0.5" stroke-width="1.4"/>
<circle cx="1551" cy="1587.8" r="7.3" fill="#008000" fill-opacity="0.5" stroke="#008000" stroke-opacity="0.5" stroke-width="1.4"/>
<circle cx="1551" cy="1592.3" r="7.3" fill="#008000" fill-opacity="0.5" stroke="#008000" stroke-opacity="0.5" stroke-width="1.4"/>
<circle cx="1551" cy="1596.8" r="7.3" fill="#008000" fill-opacity="0.5" stroke="#008000" stroke-opacity="0.5" stroke-width="1.4"/>
<circle cx="1551" cy="1601.3" r="7.3" fill="#008000" fill-opacity="0.5" stroke="#008000" stroke-opacity="0.5" stroke-width="1.4"/>
<circle cx="1551" cy="1605.8" r="7.3" fill="#008000" fill-opacity="0.5" stroke="#008000" stroke-opacity="0.5" stroke-width="1.4"/>
<circle cx="1551" cy="1610.3" r="7.3" fill="#008000" fill-opacity="0.5" stroke="#008000" stroke-opacity="0.5" stroke-width="1.4"/>
<circle cx="1551" cy="1614.8" r="7.3" fill="#008000" fill-opacity="0.5" stroke="#008000" stroke-opacity="0.5" stroke-width="1.4"/>
<circle cx="1551" cy="1619.3" r="7.3" fill="#008000" fill-opacity="0.5" stroke="#008000" stroke-opacity="0.5" stroke-width="1.4"/>
<circle cx="1551" cy="1623.8" r="7.3" fill="#008000" fill-opacity="0.5" stroke="#008000" stroke-opacity="0.5" stroke-width="1.4"/>
<circle cx="1551" cy="1628.3" r="7.3" fill="#008000" fill-opacity="0.5" stroke="#008000" stroke-opacity="0.5" stroke-width="1.4"/>
<circle cx="1551" cy="1632.8" r="7.3" fill="#008000" fill-opacity="0.5" stroke="#008000" stroke-opacity="0.5" stroke-width="1.4"/>
<circle cx="1551" cy="1637.3" r="7.3" fill="#008000" fill-opacity="0.5" stroke="#008000" stroke-opacity="0.5" stroke-width="1.4"/>
<circle cx="1551" cy="1641.8" r="7.3" fill="#008000" fill-opacity="0.5" stroke="#008000" stroke-opacity="0.5" stroke-width="1.4"/>
<circle cx="1551" cy="1646.3" r="7.3" fill="#008000" fill-opacity="0.5" stroke="#008000" stroke-opacity="0.5" stroke-width="1.4"/>
<circle cx="1551" cy="1650.8" r="7.3" fill="#008000" fill-opacity="0.5" stroke="#008000" stroke-opacity="0.5" stroke-width="1.4"/>
<circle cx="1551" cy="1655.4" r="7.3" fill="#008000" fill-opacity="0.5" stroke="#008000" stroke-opacity="0.5" stroke-width="1.4"/>
<circle cx="1551" cy="1659.9" r="7.3" fill="#008000" fill-opacity="0.5" stroke="#008000" stroke-opacity="0.5" stroke-width="1.4"/>
<circle cx="1551" cy="1664.4" r="7.3" fill="#008000" fill-opacity="0.5" stroke="#008000" stroke-opacity="0.5" stroke-width="1.4"/>
<circle cx="1551" cy="1668.9" r="7.3" fill="#008000" fill-opacity="0.5" stroke="#008000" stroke-opacity="0.5" stroke-width="1.4"/>
<circle cx="1551" cy="1673.4" r="7.3" fill="#008000" fill-opacity="0.5" stroke="#008000" stroke-opacity="0.5" stroke-width="1.4"/>
<circle cx="1551" cy="1677.9" r="7.3" fill="#008000" fill-opacity="0.5" stroke="#008000" stroke-opacity="0.5" stroke-width="1.4"/>
<circle cx="1551" cy="1682.4" r="7.3" fill="#008000" fill-opacity="0.5" stroke="#008000" stroke-opacity="0.5" stroke-width="1.4"/>
<circle cx="1551" cy="1384.6" r="7.3" fill="#008000" fill-opacity="0.5" stroke="#008000" stroke-opacity="0.5" stroke-width="1.4"/>
<circle cx="1551" cy="1399.6" r="7.3" fill="#008000" fill-opacity="0.5" stroke="#008000" stroke-opacity="0.5" stroke-width="1.4"/>
<circle cx="1551" cy="1411.2" r="7.3" fill="#008000" fill-opacity="0.5" stroke="#008000" stroke-opacity="0.5" stroke-width="1.4"/>
<circle cx="1551" cy="1424.4" r="7.3" fill="#008000" fill-opacity="0.5" stroke="#008000" stroke-opacity="0.5" stroke-width="1.4"/>
<rect x="1543" y="1550.1" width="16" height="24.8" rx="8" fill="#008000"/>
<rect x="1543" y="1606.7" width="16" height="24.8" rx="8" fill="#008000"/>
<circle cx="1572.7" cy="1430.2" r="7.3" fill="#008000" fill-opacity="0.5" stroke="#008000" stroke-opacity="0.5" stroke-width="1.4"/>
<circle cx="1572.7" cy="1434.7" r="7.3" fill="#008000" fill-opacity="0.5" stroke="#008000" stroke-opacity="0.5" stroke-width="1.4"/>
<circle cx="1572.7" cy="1439.2" r="7.3" fill="#008000" fill-opacity="0.5" stroke="#008000" stroke-opacity="0.5" stroke-width="1.4"/>
<circle cx="1572.7" cy="1443.7" r="7.3" fill="#008000" fill-opacity="0.5" stroke="#008000" stroke-opacity="0.5" stroke-width="1.4"/>
<circle cx="1572.7" cy="1448.2" r="7.3" fill="#008000" fill-opacity="0.5" stroke="#008000" stroke-opacity="0.5" stroke-width="1.4"/>
<circle cx="1572.7" cy="1452.7" r="7.3" fill="#008000" fill-opacity="0.5" stroke="#008000" stroke-opacity="0.5" stroke-width="1.4"/>
<circle cx="1572.7" cy="1457.2" r="7.3" fill="#008000" fill-opacity="0.5" stroke="#008000" stroke-opacity="0.5" stroke-width="1.4"/>
<circle cx="1572.7" cy="1461.7" r="7.3" fill="#008000" fill-opacity="0.5" stroke="#008000" stroke-opacity="0.5" stroke-width="1.4"/>
<circle cx="1572.7" cy="1466.2" r="7.3" fill="#008000" fill-opacity="0.5" stroke="#008000" stroke-opacity="0.5" stroke-width="1.4"/>
<circle cx="1572.7" cy="1470.7" r="7.3" fill="#008000" fill-opacity="0.5" stroke="#008000" stroke-opacity="0.5" stroke-width="1.4"/>
<circle cx="1572.7" cy="1475.3" r="7.3" fill="#008000" fill-opacity="0.5" stroke="#008000" stroke-opacity="0.5" stroke-width="1.4"/>
<circle cx="1572.7" cy="1479.8" r="7.3" fill="#008000" fill-opacity="0.5" stroke="#008000" stroke-opacity="0.5" stroke-width="1.4"/>
<circle cx="1572.7" cy="1484.3" r="7.3" fill="#008000" fill-opacity="0.5" stroke="#008000" stroke-opacity="0.5" stroke-width="1.4"/>
<circle cx="1572.7" cy="1488.8" r="7.3" fill="#008000" fill-opacity="0.5" stroke="#008000" stroke-opacity="0.5" stroke-width="1.4"/>
<circle cx="1572.7" cy="1493.3" r="7.3" fill="#008000" fill-opacity="0.5" stroke="#008000" stroke-opacity="0.5" stroke-width="1.4"/>
<circle cx="1572.7" cy="1497.8" r="7.3" fill="#008000" fill-opacity="0.5" stroke="#008000" stroke-opacity="0.5" stroke-width="1.4"/>
<circle cx="1572.7" cy="1502.3" r="7.3" fill="#008000" fill-opacity="0.5" stroke="#008000" stroke-opacity="0.5" stroke-width="1.4"/>
<circle cx="1572.7" cy="1506.8" r="7.3" fill="#008000" fill-opacity="0.5" stroke="#008000" stroke-opacity="0.5" stroke-width="1.4"/>
<circle cx="1572.7" cy="1511.3" r="7.3" fill="#008000" fill-opacity="0.5" stroke="#008000" stroke-opacity="0.5" stroke-width="1.4"/>
<circle cx="1572.7" cy="1515.8" r="7.3" fill="#008000" fill-opacity="0.5" stroke="#008000" stroke-opacity="0.5" stroke-width="1.4"/>
<circle cx="1572.7" cy="1520.3" r="7.3" fill="#008000" fill-opacity="0.5" stroke="#008000" stroke-opacity="0.5" stroke-width="1.4"/>
<circle cx="1572.7" cy="1524.8" r="7.3" fill="#008000" fill-opacity="0.5" stroke="#008000" stroke-opacity="0.5" stroke-width="1.4"/>
<circle cx="1572.7" cy="1529.3" r="7.3" fill="#008000" fill-opacity="0.5" stroke="#008000" stroke-opacity="0.5" stroke-width="1.4"/>
<circle cx="1572.7" cy="1533.8" r="7.3" fill="#008000" fill-opacity="0.5" stroke="#008000" stroke-opacity="0.5" stroke-width="1.4"/>
<circle cx="1572.7" cy="1538.3" r="7.3" fill="#008000" fill-opacity="0.5" stroke="#008000" stroke-opacity="0.5" stroke-width="1.4"/>
<circle cx="1572.7" cy="1542.8" r="7.3" fill="#008000" fill-opacity="0.5" stroke="#008000" stroke-opacity="0.5" stroke-width="1.4"/>
<circle cx="1572.7" cy="1547.4" r="7.3" fill="#008000" fill-opacity="0.5" stroke="#008000" stroke-opacity="0.5" stroke-width="1.4"/>
<circle cx="1572.7" cy="1551.9" r="7.3" fill="#008000" fill-opacity="0.5" stroke="#008000" stroke-opacity="0.5" stroke-width="1.4"/>
<circle cx="1572.7" cy="1556.4" r="7.3" fill="#008000" fill-opacity="0.5" stroke="#008000" stroke-opacity="0.5" stroke-width="1.4"/>
<circle cx="1572.7" cy="1560.9" r="7.3" fill="#008000" fill-opacity="0.5" stroke="#008000" stroke-opacity="0.5" stroke-width="1.4"/>
<circle cx="1572.7" cy="1565.4" r="7.3" fill="#008000" fill-opacity="0.5" stroke="#008000" stroke-opacity="0.5" stroke-width="1.4"/>
<circle cx="1572.7" cy="1569.9" r="7.3" fill="#008000" fill-opacity="0.5" stroke="#008000" stroke-opacity="0.5" stroke-width="1.4"/>
<circle cx="1572.7" cy="1574.4" r="7.3" fill="#008000" fill-opacity="0.5" stroke="#008000" stroke-opacity="0.5" stroke-width="1.4"/>
<circle cx="1572.7" cy="1578.9" r="7.3" fill="#008000" fill-opacity="0.5" stroke="#008000" stroke-opacity="0.5" stroke-width="1.4"/>
<circle cx="1572.7" cy="1583.4" r="7.3" fill="#008000" fill-opacity="0.5" stroke="#008000" stroke-opacity="0.5" stroke-width="1.4"/>
<circle cx="1572.7" cy="1587.9" r="7.3" fill="#008000" fill-opacity="0.5" stroke="#008000" stroke-opacity="0.5" stroke-width="1.4"/>
<circle cx="1572.7" cy="1592.4" r="7.3" fill="#008000" fill-opacity="0.5" stroke="#008000" stroke-opacity="0.5" stroke-width="1.4"/>
<circle cx="1572.7" cy="1596.9" r="7.3" fill="#008000" fill-opacity="0.5" stroke="#008000" stroke-opacity="0.5" stroke-width="1.4"/>
<circle cx="1572.7" cy="1601.4" r="7.3" fill="#008000" fill-opacity="0.5" stroke="#008000" stroke-opacity="0.5" stroke-width="1.4"/>
<circle cx="1572.7" cy="1605.9" r="7.3" fill="#008000" fill-opacity="0.5" stroke="#008000" stroke-opacity="0.5" stroke-width="1.4"/>
<circle cx="1572.7" cy="1610.4" r="7.3" fill="#008000" fill-opacity="0.5" stroke="#008000" stroke-opacity="0.5" stroke-width="1.4"/>
<circle cx="1572.7" cy="1614.9" r="7.3" fill="#008000" fill-opacity="0.5" stroke="#008000" stroke-opacity="0.5" stroke-width="1.4"/>
<circle cx="1572.7" cy="1619.4" r="7.3" fill="#008000" fill-opacity="0.5" stroke="#008000" stroke-opacity="0.5" stroke-width="1.4"/>
<circle cx="1572.7" cy="1624" r="7.3" fill="#008000" fill-opacity="0.5" stroke="#008000" stroke-opacity="0.5" stroke-width="1.4"/>
<circle cx="1572.7" cy="1628.5" r="7.3" fill="#008000" fill-opacity="0.5" stroke="#008000" stroke-opacity="0.5" stroke-width="1.4"/>
<circle cx="1572.7" cy="1633" r="7.3" fill="#008000" fill-opacity="0.5" stroke="#008000" stroke-opacity="0.5" stroke-width="1.4"/>
<circle cx="1572.7" cy="1637.5" r="7.3" fill="#008000" fill-opacity="0.5" stroke="#008000" stroke-opacity="0.5" stroke-width="1.4"/>
<circle cx="1572.7" cy="1642" r="7.3" fill="#008000" fill-opacity="0.5" stroke="#008000" stroke-opacity="0.5" stroke-width="1.4"/>
<circle cx="1572.7" cy="1646.5" r="7.3" fill="#008000" fill-opacity="0.5" stroke="#008000" stroke-opacity="0.5" stroke-width="1.4"/>
<circle cx="1572.7" cy="1651" r="7.3" fill="#008000" fill-opacity="0.5" stroke="#008000" stroke-opacity="0.5" stroke-width="1.4"/>
<circle cx="1572.7" cy="1655.5" r="7.3" fill="#008000" fill-opacity="0.5" stroke="#008000" stroke-opacity="0.5" stroke-width="1.4"/>
<circle cx="1572.7" cy="1660" r="7.3" fill="#008000" fill-opacity="0.5" stroke="#008000" stroke-opacity="0.5" stroke-width="1.4"/>
<circle cx="1572.7" cy="1664.5" r="7.3" fill="#008000" fill-opacity="0.5" stroke="#008000" stroke-opacity="0.5" stroke-width="1.4"/>
<circle cx="1572.7" cy="1669" r="7.3" fill="#008000" fill-opacity="0.5" stroke="#008000" stroke-opacity="0.5" stroke-width="1.4"/>
<circle cx="1572.7" cy="1673.5" r="7.3" fill="#008000" fill-opacity="0.5" stroke="#008000" stroke-opacity="0.5" stroke-width="1.4"/>
<circle cx="1572.7" cy="1393.5" r="7.3" fill="#008000" fill-opacity="0.5" stroke="#008000" stroke-opacity="0.5" stroke-width="1.4"/>
<circle cx="1572.7" cy="1405" r="7.3" fill="#008000" fill-opacity="0.5" stroke="#008000" stroke-opacity="0.5" stroke-width="1.4"/>
<circle cx="1572.7" cy="1417.3" r="7.3" fill="#008000" fill-opacity="0.5" stroke="#008000" stroke-opacity="0.5" stroke-width="1.4"/>
<rect x="1564.7" y="1431.5" width="16" height="33.6" rx="8" fill="#008000"/>
<rect x="1564.7" y="1500.5" width="16" height="60.2" rx="8" fill="#008000"/>
<rect x="1564.7" y="1596.1" width="16" height="24.8" rx="8" fill="#008000"/>
<circle cx="1594.4" cy="1412.5" r="7.3" fill="#008000" fill-opacity="0.5" stroke="#008000" stroke-opacity="0.5" stroke-width="1.4"/>
<circle cx="1594.4" cy="1417.2" r="7.3" fill="#008000" fill-opacity="0.5" stroke="#008000" stroke-opacity="0.5" stroke-width="1.4"/>
<circle cx="1594.4" cy="1422" r="7.3" fill="#008000" fill-opacity="0.5" stroke="#008000" stroke-opacity="0.5" stroke-width="1.4"/>
<circle cx="1594.4" cy="1426.8" r="7.3" fill="#008000" fill-opacity="0.5" stroke="#008000" stroke-opacity="0.5" stroke-width="1.4"/>
<circle cx="1594.4" cy="1431.5" r="7.3" fill="#008000" fill-opacity="0.5" stroke="#008000" stroke-opacity="0.5" stroke-width="1.4"/>
<circle cx="1594.4" cy="1436.3" r="7.3" fill="#008000" fill-opacity="0.5" stroke="#008000" stroke-opacity="0.5" stroke-width="1.4"/>
<circle cx="1594.4" cy="1441" r="7.3" fill="#008000" fill-opacity="0.5" stroke="#008000" stroke-opacity="0.5" stroke-width="1.4"/>
<circle cx="1594.4" cy="1445.8" r="7.3" fill="#008000" fill-opacity="0.5" stroke="#008000" stroke-opacity="0.5" stroke-width="1.4"/>
<circle cx="1594.4" cy="1450.5" r="7.3" fill="#008000" fill-opacity="0.5" stroke="#008000" stroke-opacity="0.5" stroke-width="1.4"/>
<circle cx="1594.4" cy="1460.3" r="7.3" fill="#008000" fill-opacity="0.5" stroke="#008000" stroke-opacity="0.5" stroke-width="1.4"/>
<circle cx="1594.4" cy="1465" r="7.3" fill="#008000" fill-opacity="0.5" stroke="#008000" stroke-opacity="0.5" stroke-width="1.4"/>
<circle cx="1594.4" cy="1469.8" r="7.3" fill="#008000" fill-opacity="0.5" stroke="#008000" stroke-opacity="0.5" stroke-width="1.4"/>
<circle cx="1594.4" cy="1474.5" r="7.3" fill="#008000" fill-opacity="0.5" stroke="#008000" stroke-opacity="0.5" stroke-width="1.4"/>
<circle cx="1594.4" cy="1479.3" r="7.3" fill="#008000" fill-opacity="0.5" stroke="#008000" stroke-opacity="0.5" stroke-width="1.4"/>
<circle cx="1594.4" cy="1484" r="7.3" fill="#008000" fill-opacity="0.5" stroke="#008000" stroke-opacity="0.5" stroke-width="1.4"/>
<circle cx="1594.4" cy="1488.8" r="7.3" fill="#008000" fill-opacity="0.5" stroke="#008000" stroke-opacity="0.5" stroke-width="1.4"/>
<circle cx="1594.4" cy="1493.5" r="7.3" fill="#008000" fill-opacity="0.5" stroke="#008000" stroke-opacity="0.5" stroke-width="1.4"/>
<circle cx="1594.4" cy="1498.3" r="7.3" fill="#008000" fill-opacity="0.5" stroke="#008000" stroke-opacity="0.5" stroke-width="1.4"/>
<circle cx="1594.4" cy="1529.3" r="7.3" fill="#008000" fill-opacity="0.5" stroke="#008000" stroke-opacity="0.5" stroke-width="1.4"/>
<circle cx="1594.4" cy="1534.1" r="7.3" fill="#008000" fill-opacity="0.5" stroke="#008000" stroke-opacity="0.5" stroke-width="1.4"/>
<circle cx="1594.4" cy="1538.8" r="7.3" fill="#008000" fill-opacity="0.5" stroke="#008000" stroke-opacity="0.5" stroke-width="1.4"/>
<circle cx="1594.4" cy="1543.6" r="7.3" fill="#008000" fill-opacity="0.5" stroke="#008000" stroke-opacity="0.5" stroke-width="1.4"/>
<circle cx="1594.4" cy="1548.3" r="7.3" fill="#008000" fill-opacity="0.5" stroke="#008000" stroke-opacity="0.5" stroke-width="1.4"/>
<circle cx="1594.4" cy="1553.1" r="7.3" fill="#008000" fill-opacity="0.5" stroke="#008000" stroke-opacity="0.5" stroke-width="1.4"/>
<circle cx="1594.4" cy="1557.8" r="7.3" fill="#008000" fill-opacity="0.5" stroke="#008000" stroke-opacity="0.5" stroke-width="1.4"/>
<circle cx="1594.4" cy="1562.6" r="7.3" fill="#008000" fill-opacity="0.5" stroke="#008000" stroke-opacity="0.5" stroke-width="1.4"/>
<circle cx="1594.4" cy="1567.3" r="7.3" fill="#008000" fill-opacity="0.5" stroke="#008000" stroke-opacity="0.5" stroke-width="1.4"/>
<circle cx="1594.4" cy="1614.3" r="7.3" fill="#008000" fill-opacity="0.5" stroke="#008000" stroke-opacity="0.5" stroke-width="1.4"/>
<circle cx="1594.4" cy="1620.9" r="7.3" fill="#008000" fill-opacity="0.5" stroke="#008000" stroke-opacity="0.5" stroke-width="1.4"/>
<circle cx="1594.4" cy="1627.5" r="7.3" fill="#008000" fill-opacity="0.5" stroke="#008000" stroke-opacity="0.5" stroke-width="1.4"/>
<circle cx="1594.4" cy="1511.2" r="7.3" fill="#008000" fill-opacity="0.5" stroke="#008000" stroke-opacity="0.5" stroke-width="1.4"/>
<circle cx="1594.4" cy="1585.5" r="7.3" fill="#008000" fill-opacity="0.5" stroke="#008000" stroke-opacity="0.5" stroke-width="1.4"/>
<circle cx="1594.4" cy="1601.4" r="7.3" fill="#008000" fill-opacity="0.5" stroke="#008000" stroke-opacity="0.5" stroke-width="1.4"/>
<circle cx="1594.4" cy="1674" r="7.3" fill="#008000" fill-opacity="0.5" stroke="#008000" stroke-opacity="0.5" stroke-width="1.4"/>
<rect x="1608.1" y="1350.1" width="16" height="378.8" rx="8" fill="#008000"/>
<circle cx="1833.2" cy="1684" r="7.3" fill="#008000" fill-opacity="0.5" stroke="#008000" stroke-opacity="0.5" stroke-width="1.4"/>
<circle cx="1833.2" cy="1689" r="7.3" fill="#008000" fill-opacity="0.5" stroke="#008000" stroke-opacity="0.5" stroke-width="1.4"/>
<circle cx="1833.2" cy="1694" r="7.3" fill="#008000" fill-opacity="0.5" stroke="#008000" stroke-opacity="0.5" stroke-width="1.4"/>
<circle cx="1833.2" cy="1699" r="7.3" fill="#008000" fill-opacity="0.5" stroke="#008000" stroke-opacity="0.5" stroke-width="1.4"/>
<circle cx="1833.2" cy="1704" r="7.3" fill="#008000" fill-opacity="0.5" stroke="#008000" stroke-opacity="0.5" stroke-width="1.4"/>
<circle cx="1833.2" cy="1709" r="7.3" fill="#008000" fill-opacity="0.5" stroke="#008000" stroke-opacity="0.5" stroke-width="1.4"/>
<circle cx="1833.2" cy="1714" r="7.3" fill="#008000" fill-opacity="0.5" stroke="#008000" stroke-opacity="0.5" stroke-width="1.4"/>
<circle cx="1833.2" cy="1701" r="7.3" fill="#008000" fill-opacity="0.5" stroke="#008000" stroke-opacity="0.5" stroke-width="1.4"/>
<circle cx="1833.2" cy="1711" r="7.3" fill="#008000" fill-opacity="0.5" stroke="#008000" stroke-opacity="0.5" stroke-width="1.4"/>
<circle cx="1833.2" cy="1724.5" r="7.3" fill="#008000" fill-opacity="0.5" stroke="#008000" stroke-opacity="0.5" stroke-width="1.4"/>
<rect x="1825.2" y="1336.8" width="16" height="345.2" rx="8" fill="#008000"/>
<circle cx="2050.3" cy="1674" r="7.3" fill="#008000" fill-opacity="0.5" stroke="#008000" stroke-opacity="0.5" stroke-width="1.4"/>
<circle cx="2050.3" cy="1679.3" r="7.3" fill="#008000" fill-opacity="0.5" stroke="#008000" stroke-opacity="0.5" stroke-width="1.4"/>
<circle cx="2050.3" cy="1684.7" r="7.3" fill="#008000" fill-opacity="0.5" stroke="#008000" stroke-opacity="0.5" stroke-width="1.4"/>
<circle cx="2050.3" cy="1690" r="7.3" fill="#008000" fill-opacity="0.5" stroke="#008000" stroke-opacity="0.5" stroke-width="1.4"/>
<circle cx="2050.3" cy="1334.9" r="7.3" fill="#008000" fill-opacity="0.5" stroke="#008000" stroke-opacity="0.5" stroke-width="1.4"/>
<circle cx="2050.3" cy="1712" r="7.3" fill="#008000" fill-opacity="0.5" stroke="#008000" stroke-opacity="0.5" stroke-width="1.4"/>
<rect x="2042.3" y="1344.5" width="16" height="333.5" rx="8" fill="#008000"/>
<circle cx="2267.5" cy="1684" r="7.3" fill="#008000" fill-opacity="0.5" stroke="#008000" stroke-opacity="0.5" stroke-width="1.4"/>
<circle cx="2267.5" cy="1688.5" r="7.3" fill="#008000" fill-opacity="0.5" stroke="#008000" stroke-opacity="0.5" stroke-width="1.4"/>
<circle cx="2267.5" cy="1693" r="7.3" fill="#008000" fill-opacity="0.5" stroke="#008000" stroke-opacity="0.5" stroke-width="1.4"/>
<rect x="2259.5" y="1327.2" width="16" height="354.8" rx="8" fill="#008000"/>
<line x1="530.5" y1="2159.9" x2="2267.5" y2="1356.3" stroke="#ff0000" stroke-width="2.7"/>
<rect x="444.2" y="1294.4" width="1910.6" height="907" fill="none" stroke="#000" stroke-width="1.8"/>
<line x1="436.7" y1="2159.9" x2="444.2" y2="2159.9" stroke="#000" stroke-width="1.8"/>
<text x="427" y="2181.9" font-size="64" text-anchor="end">0</text>
<line x1="436.7" y1="1959" x2="444.2" y2="1959" stroke="#000" stroke-width="1.8"/>
<text x="427" y="1981" font-size="64" text-anchor="end">2000</text>
<line x1="436.7" y1="1758.1" x2="444.2" y2="1758.1" stroke="#000" stroke-width="1.8"/>
<text x="427" y="1780.1" font-size="64" text-anchor="end">4000</text>
<line x1="436.7" y1="1557.2" x2="444.2" y2="1557.2" stroke="#000" stroke-width="1.8"/>
<text x="427" y="1579.2" font-size="64" text-anchor="end">6000</text>
<line x1="436.7" y1="1356.3" x2="444.2" y2="1356.3" stroke="#000" stroke-width="1.8"/>
<text x="427" y="1378.3" font-size="64" text-anchor="end">8000</text>
<line x1="530.5" y1="2201.4" x2="530.5" y2="2208.9" stroke="#000" stroke-width="1.8"/>
<text x="530.5" y="2261" font-size="64" text-anchor="middle">0</text>
<line x1="747.6" y1="2201.4" x2="747.6" y2="2208.9" stroke="#000" stroke-width="1.8"/>
<text x="747.6" y="2261" font-size="64" text-anchor="middle">1000</text>
<line x1="964.7" y1="2201.4" x2="964.7" y2="2208.9" stroke="#000" stroke-width="1.8"/>
<text x="964.7" y="2261" font-size="64" text-anchor="middle">2000</text>
<line x1="1181.9" y1="2201.4" x2="1181.9" y2="2208.9" stroke="#000" stroke-width="1.8"/>
<text x="1181.9" y="2261" font-size="64" text-anchor="middle">3000</text>
<line x1="1399" y1="2201.4" x2="1399" y2="2208.9" stroke="#000" stroke-width="1.8"/>
<text x="1399" y="2261" font-size="64" text-anchor="middle">4000</text>
<line x1="1616.1" y1="2201.4" x2="1616.1" y2="2208.9" stroke="#000" stroke-width="1.8"/>
<text x="1616.1" y="2261" font-size="64" text-anchor="middle">5000</text>
<line x1="1833.2" y1="2201.4" x2="1833.2" y2="2208.9" stroke="#000" stroke-width="1.8"/>
<text x="1833.2" y="2261" font-size="64" text-anchor="middle">6000</text>
<line x1="2050.3" y1="2201.4" x2="2050.3" y2="2208.9" stroke="#000" stroke-width="1.8"/>
<text x="2050.3" y="2261" font-size="64" text-anchor="middle">7000</text>
<line x1="2267.5" y1="2201.4" x2="2267.5" y2="2208.9" stroke="#000" stroke-width="1.8"/>
<text x="2267.5" y="2261" font-size="64" text-anchor="middle">8000</text>
<text x="1396.5" y="2328.4" font-size="64" text-anchor="middle">Observed visibility [m]</text>
<text transform="translate(275.3,1746.9) rotate(-90)" font-size="63.2" text-anchor="middle">Estimated visibility [m]</text>
<text x="28" y="2400.5" font-size="85" font-weight="bold">(e)</text>
<path d="M568.3,3458.6 L568.3,3342.4 570.8,3334.5 573.3,3326.6 575.8,3318.6 578.3,3310.7 580.8,3302.7 583.3,3294.8 585.8,3287 588.3,3279.4 590.8,3271.8 593.3,3264.5 595.8,3257.4 598.3,3250.7 600.8,3244.4 603.3,3238.7 605.8,3233.2 608.3,3228 610.8,3223 613.3,3218.1 615.8,3213.4 618.3,3208.9 620.8,3204.8 623.3,3201.1 625.8,3198 628.3,3195.3 630.8,3193.3 633.3,3191.7 635.8,3190.6 638.3,3189.9 640.8,3189.7 643.3,3189.9 645.8,3190.6 648.3,3191.7 650.8,3193.1 653.3,3194.8 655.8,3196.9 658.3,3199.4 660.8,3202.2 663.3,3205.3 665.8,3208.7 668.3,3212.5 670.8,3216.7 673.3,3221.1 675.8,3225.9 678.3,3230.8 680.8,3235.9 683.3,3241 685.8,3246.2 688.3,3251.4 690.8,3256.6 693.3,3261.7 695.8,3266.7 698.3,3271.6 700.8,3276.3 703.3,3281.1 705.8,3285.7 708.3,3290.2 710.8,3294.7 713.3,3299.1 715.8,3303.4 718.3,3307.6 720.8,3311.5 723.3,3315.4 725.8,3319 728.3,3322.6 730.8,3326 733.3,3329.1 735.8,3332.1 738.3,3335 740.8,3337.7 743.3,3340.3 745.8,3342.7 748.3,3345.1 750.8,3347.3 753.3,3349.5 755.8,3351.6 758.3,3353.7 760.8,3355.7 763.3,3357.8 765.8,3359.8 768.3,3361.8 770.8,3363.7 773.3,3365.5 775.8,3367.1 778.3,3368.5 780.8,3369.6 783.3,3370.6 785.8,3371.5 788.3,3372.4 790.8,3373.3 793.3,3374.2 795.8,3375 798.3,3375.8 800.8,3376.6 803.3,3377.3 805.8,3377.9 808.3,3378.4 810.8,3378.9 813.3,3379.4 815.8,3379.9 818.3,3380.4 820.8,3380.9 823.3,3381.4 825.8,3381.9 828.3,3382.3 830.8,3382.7 833.3,3383.1 835.8,3383.5 838.3,3383.9 840.8,3384.3 843.3,3384.6 845.8,3385 848.3,3385.4 850.8,3385.7 853.3,3386 855.8,3386.3 858.3,3386.6 860.8,3386.9 863.3,3387.1 865.8,3387.4 868.3,3387.6 870.8,3387.9 873.3,3388.1 875.8,3388.3 878.3,3388.5 880.8,3388.6 883.3,3388.7 885.8,3388.7 888.3,3388.7 890.8,3388.7 893.3,3388.7 895.8,3388.7 898.3,3388.7 900.8,3388.6 903.3,3388.5 905.8,3388.3 908.3,3388 910.8,3387.7 913.3,3387.3 915.8,3386.9 918.3,3386.5 920.8,3386.1 923.3,3385.7 925.8,3385.3 928.3,3384.8 930.8,3384.3 933.3,3383.6 935.8,3382.9 938.3,3382.2 940.8,3381.5 943.3,3380.7 945.8,3380 948.3,3379.2 950.8,3378.5 953.3,3377.8 955.8,3377.1 958.3,3376.4 960.8,3375.8 963.3,3375.1 965.8,3374.5 968.3,3373.9 970.8,3373.3 973.3,3372.6 975.8,3372 978.3,3371.5 980.8,3370.9 983.3,3370.5 985.8,3370.1 988.3,3369.7 990.8,3369.3 993.3,3368.9 995.8,3368.5 998.3,3368.2 1000.8,3367.8 1003.3,3367.5 1005.8,3367.1 1008.3,3366.8 1010.8,3366.5 1013.3,3366.3 1015.8,3366 1018.3,3365.8 1020.8,3365.5 1023.3,3365.2 1025.8,3365 1028.3,3364.7 1030.8,3364.5 1033.3,3364.2 1035.8,3364 1038.3,3363.7 1040.8,3363.5 1043.3,3363.3 1045.8,3363 1048.3,3362.8 1050.8,3362.5 1053.3,3362.3 1055.8,3362 1058.3,3361.8 1060.8,3361.6 1063.3,3361.4 1065.8,3361.2 1068.3,3361 1070.8,3360.8 1073.3,3360.6 1075.8,3360.4 1078.3,3360.2 1080.8,3360.1 1083.3,3360 1085.8,3360 1088.3,3360 1090.8,3359.9 1093.3,3359.9 1095.8,3359.8 1098.3,3359.7 1100.8,3359.6 1103.3,3359.4 1105.8,3359.3 1108.3,3359.2 1110.8,3359.1 1113.3,3359 1115.8,3358.9 1118.3,3358.8 1120.8,3358.7 1123.3,3358.6 1125.8,3358.5 1128.3,3358.5 1130.8,3358.4 1133.3,3358.3 1135.8,3358.3 1138.3,3358.2 1140.8,3358.2 1143.3,3358.2 1145.8,3358.2 1148.3,3358.3 1150.8,3358.3 1153.3,3358.4 1155.8,3358.5 1158.3,3358.5 1160.8,3358.6 1163.3,3358.7 1165.8,3358.8 1168.3,3359 1170.8,3359.2 1173.3,3359.4 1175.8,3359.7 1178.3,3360 1180.8,3360.4 1183.3,3360.9 1185.8,3361.4 1188.3,3362 1190.8,3362.7 1193.3,3363.5 1195.8,3364.3 1198.3,3365.1 1200.8,3366 1203.3,3367 1205.8,3368 1208.3,3369.1 1210.8,3370.2 1213.3,3371.2 1215.8,3372.3 1218.3,3373.3 1220.8,3374.3 1223.3,3375.3 1225.8,3376.2 1228.3,3377 1230.8,3377.9 1233.3,3378.7 1235.8,3379.6 1238.3,3380.3 1240.8,3381 1243.3,3381.6 1245.8,3382.1 1248.3,3382.5 1250.8,3382.9 1253.3,3383.2 1255.8,3383.5 1258.3,3383.8 1260.8,3384 1263.3,3384.1 1265.8,3384.2 1268.3,3384.2 1270.8,3384.2 1273.3,3384.2 1275.8,3384.1 1278.3,3384 1280.8,3383.8 1283.3,3383.5 1285.8,3383.3 1288.3,3383 1290.8,3382.6 1293.3,3382.3 1295.8,3382 1298.3,3381.6 1300.8,3381.3 1303.3,3380.9 1305.8,3380.5 1308.3,3380 1310.8,3379.6 1313.3,3379.2 1315.8,3378.7 1318.3,3378.3 1320.8,3377.8 1323.3,3377.3 1325.8,3376.8 1328.3,3376.1 1330.8,3375.4 1333.3,3374.6 1335.8,3373.9 1338.3,3373.1 1340.8,3372.3 1343.3,3371.4 1345.8,3370.4 1348.3,3369.2 1350.8,3368 1353.3,3366.6 1355.8,3365.2 1358.3,3363.8 1360.8,3362.4 1363.3,3360.9 1365.8,3359.4 1368.3,3357.9 1370.8,3356.3 1373.3,3354.6 1375.8,3352.9 1378.3,3351.2 1380.8,3349.5 1383.3,3347.8 1385.8,3346.2 1388.3,3344.7 1390.8,3343.3 1393.3,3341.9 1395.8,3340.7 1398.3,3339.5 1400.8,3338.4 1403.3,3337.4 1405.8,3336.7 1408.3,3336.1 1410.8,3335.7 1413.3,3335.3 1415.8,3334.9 1418.3,3334.7 1420.8,3334.5 1423.3,3334.5 1425.8,3334.7 1428.3,3334.9 1430.8,3335.3 1433.3,3335.6 1435.8,3336 1438.3,3336.4 1440.8,3336.9 1443.3,3337.4 1445.8,3338 1448.3,3338.6 1450.8,3339.2 1453.3,3339.8 1455.8,3340.4 1458.3,3340.9 1460.8,3341.4 1463.3,3341.8 1465.8,3342.1 1468.3,3342.3 1470.8,3342.5 1473.3,3342.6 1475.8,3342.8 1478.3,3342.8 1480.8,3342.8 1483.3,3342.7 1485.8,3342.6 1488.3,3342.4 1490.8,3342.2 1493.3,3341.9 1495.8,3341.6 1498.3,3341.3 1500.8,3340.7 1503.3,3340.1 1505.8,3339.3 1508.3,3338.4 1510.8,3337.5 1513.3,3336.3 1515.8,3334.8 1518.3,3332.9 1520.8,3330.6 1523.3,3328.1 1525.8,3325.4 1528.3,3322.5 1530.8,3319.4 1533.3,3315.9 1535.8,3312.1 1538.3,3308 1540.8,3303.6 1543.3,3299.1 1545.8,3294.4 1548.3,3289.6 1550.8,3284.5 1553.3,3279.1 1555.8,3273.5 1558.3,3267.8 1560.8,3261.9 1563.3,3255.8 1565.8,3249.3 1568.3,3242.4 1570.8,3235.1 1573.3,3227.6 1575.8,3220 1578.3,3212.3 1580.8,3204.8 1583.3,3197.6 1585.8,3190.6 1588.3,3183.9 1590.8,3177.6 1593.3,3171.6 1595.8,3166.1 1598.3,3160.9 1600.8,3156.2 1603.3,3151.8 1605.8,3148 1608.3,3144.7 1610.8,3142.1 1613.3,3140.3 1615.8,3139.2 1618.3,3139 1620.8,3139.6 1623.3,3141 1625.8,3143 1628.3,3145.7 1630.8,3149.1 1633.3,3153.3 1635.8,3158.3 1638.3,3164.1 1640.8,3170.6 1643.3,3177.9 1645.8,3185.7 1648.3,3194 1650.8,3202.9 1653.3,3212.5 1655.8,3222.7 1658.3,3233.3 1660.8,3244.3 1663.3,3255.5 1665.8,3266.6 1668.3,3277.6 1670.8,3288.3 1673.3,3298.7 1675.8,3308.8 1678.3,3318.6 1680.8,3328.3 1683.3,3337.9 1685.8,3347.4 1688.3,3356.8 1690.8,3365.7 1693.3,3373.9 1695.8,3381.2 1698.3,3387.6 1700.8,3393.3 1703.3,3398.1 1705.8,3402.2 1708.3,3405.8 1710.8,3408.8 1713.3,3411.5 1715.8,3413.7 1718.3,3415.3 1720.8,3416.5 1723.3,3417.4 1725.8,3417.9 1728.3,3418.1 1730.8,3417.9 1733.3,3417.4 1735.8,3416.4 1738.3,3415 1740.8,3413 1743.3,3410.4 1745.8,3407.2 1748.3,3403.4 1750.8,3399.1 1753.3,3394.1 1755.8,3388.3 1758.3,3381.9 1760.8,3374.8 1763.3,3367.2 1765.8,3359.1 1768.3,3350.7 1770.8,3341.9 1773.3,3332.6 1775.8,3322.7 1778.3,3312.3 1780.8,3301.6 1783.3,3290.9 1785.8,3280.4 1788.3,3270.1 1790.8,3260.1 1793.3,3250.5 1795.8,3241.6 1798.3,3233.6 1800.8,3226.4 1803.3,3219.9 1805.8,3214.1 1808.3,3208.7 1810.8,3203.8 1813.3,3199.3 1815.8,3195.3 1818.3,3191.9 1820.8,3189 1823.3,3186.9 1825.8,3185.5 1828.3,3184.7 1830.8,3184.5 1833.3,3185 1835.8,3186.2 1838.3,3187.8 1840.8,3190 1843.3,3192.8 1845.8,3196.5 1848.3,3201 1850.8,3206.2 1853.3,3212.1 1855.8,3218.6 1858.3,3225.9 1860.8,3233.7 1863.3,3242.1 1865.8,3250.8 1868.3,3259.9 1870.8,3269.3 1873.3,3279 1875.8,3288.8 1878.3,3298.4 1880.8,3308 1883.3,3317.2 1885.8,3326.2 1888.3,3334.9 1890.8,3343.1 1893.3,3350.7 1895.8,3357.8 1898.3,3364.5 1900.8,3370.7 1903.3,3376.4 1905.8,3381.7 1908.3,3386.5 1910.8,3390.9 1913.3,3394.7 1915.8,3398 1918.3,3400.6 1920.8,3402.8 1923.3,3404.5 1925.8,3406 1928.3,3407.2 1930.8,3407.9 1933.3,3408.2 1935.8,3408 1938.3,3407.3 1940.8,3405.9 1943.3,3403.9 1945.8,3401.5 1948.3,3398.7 1950.8,3395.4 1953.3,3391.7 1955.8,3387.4 1958.3,3382.5 1960.8,3376.9 1963.3,3370.3 1965.8,3362.8 1968.3,3354.4 1970.8,3345.6 1973.3,3336.3 1975.8,3326.8 1978.3,3317.2 1980.8,3307.6 1983.3,3298.1 1985.8,3288.9 1988.3,3279.3 1990.8,3268.8 1993.3,3257.1 1995.8,3244.4 1998.3,3231.3 2000.8,3218.4 2003.3,3206 2005.8,3194.2 2008.3,3182.9 2010.8,3172.3 2013.3,3162.4 2015.8,3153.1 2018.3,3144.4 2020.8,3136.3 2023.3,3128.8 2025.8,3122 2028.3,3115.9 2030.8,3110.7 2033.3,3106.4 2035.8,3103.1 2038.3,3100.7 2040.8,3099.3 2043.3,3098.9 2045.8,3099.4 2048.3,3101 2050.8,3103.5 2053.3,3107 2055.8,3111.6 2058.3,3117 2060.8,3123.5 2063.3,3130.8 2065.8,3138.8 2068.3,3147.3 2070.8,3156.2 2073.3,3165.6 2075.8,3175.3 2078.3,3185.5 2080.8,3196.1 2083.3,3207 2085.8,3218.2 2088.3,3229.4 2090.8,3240.8 2093.3,3252 2095.8,3263.1 2098.3,3273.9 2100.8,3284.5 2103.3,3294.7 2105.8,3304.6 2108.3,3314 2110.8,3323 2113.3,3331.5 2115.8,3339.5 2118.3,3347.1 2120.8,3354.3 2123.3,3360.8 2125.8,3366.5 2128.3,3371.1 2130.8,3374.7 2133.3,3377 2135.8,3378.2 2138.3,3378 2140.8,3376.5 2143.3,3373.8 2145.8,3370.1 2148.3,3365.6 2150.8,3360.3 2153.3,3353.9 2155.8,3346.4 2158.3,3337.3 2160.8,3326.7 2163.3,3314.6 2165.8,3301.1 2168.3,3286.3 2170.8,3270.4 2173.3,3253.4 2175.8,3235.2 2178.3,3215.7 2180.8,3195 2183.3,3173.4 2185.8,3151.1 2188.3,3127.9 2190.8,3103.4 2193.3,3077.5 2195.8,3050.3 2198.3,3022.1 2200.8,2993.3 2203.3,2964.1 2205.8,2934.6 2208.3,2904.6 2210.8,2874.1 2213.3,2843 2215.8,2811.4 2218.3,2779.6 2220.8,2748.4 2223.3,2718.6 2225.8,2691.1 2228.3,2666.1 2230.8,2643.9 2233.3,2624.6 2235.8,2607.8 2238.3,2593.4 2240.8,2580.9 2243.3,2570.2 2245.8,2561.4 2248.3,2554.6 2250.8,2549.5 2253.3,2545.6 2254.2,2542.4 L2254.2,3458.6 Z" fill="#ffa500" fill-opacity="0.25" stroke="#ffa500" stroke-width="2" stroke-linejoin="round"/>
<path d="M732.7,3458.6 L732.7,3226.7 735.2,3219.1 737.7,3211.6 740.2,3204.2 742.7,3197.1 745.2,3190.3 747.7,3183.8 750.2,3177.6 752.7,3171.8 755.2,3166.4 757.7,3161.3 760.2,3156.5 762.7,3152.1 765.2,3148.1 767.7,3144.4 770.2,3141 772.7,3138 775.2,3135.2 777.7,3132.8 780.2,3130.7 782.7,3128.9 785.2,3127.3 787.7,3126 790.2,3125 792.7,3124.2 795.2,3123.7 797.7,3123.3 800.2,3123.2 802.7,3123.3 805.2,3123.5 807.7,3124 810.2,3124.7 812.7,3125.6 815.2,3126.6 817.7,3127.9 820.2,3129.3 822.7,3130.9 825.2,3132.6 827.7,3134.5 830.2,3136.5 832.7,3138.7 835.2,3140.9 837.7,3143.3 840.2,3145.8 842.7,3148.4 845.2,3151.1 847.7,3153.9 850.2,3156.8 852.7,3159.8 855.2,3162.9 857.7,3166.1 860.2,3169.4 862.7,3172.8 865.2,3176.2 867.7,3179.6 870.2,3183.1 872.7,3186.6 875.2,3190 877.7,3193.5 880.2,3197 882.7,3200.5 885.2,3204 887.7,3207.5 890.2,3211 892.7,3214.5 895.2,3217.9 897.7,3221.4 900.2,3224.7 902.7,3228.1 905.2,3231.4 907.7,3234.7 910.2,3237.9 912.7,3241.1 915.2,3244.3 917.7,3247.4 920.2,3250.5 922.7,3253.5 925.2,3256.5 927.7,3259.5 930.2,3262.4 932.7,3265.2 935.2,3268 937.7,3270.7 940.2,3273.4 942.7,3276.1 945.2,3278.7 947.7,3281.3 950.2,3283.8 952.7,3286.3 955.2,3288.8 957.7,3291.2 960.2,3293.5 962.7,3295.9 965.2,3298.2 967.7,3300.4 970.2,3302.7 972.7,3304.9 975.2,3307 977.7,3309.2 980.2,3311.3 982.7,3313.3 985.2,3315.3 987.7,3317.3 990.2,3319.2 992.7,3321.1 995.2,3323 997.7,3324.9 1000.2,3326.8 1002.7,3328.6 1005.2,3330.4 1007.7,3332.3 1010.2,3334.1 1012.7,3335.8 1015.2,3337.6 1017.7,3339.4 1020.2,3341.2 1022.7,3342.9 1025.2,3344.7 1027.7,3346.5 1030.2,3348.3 1032.7,3350.1 1035.2,3351.9 1037.7,3353.8 1040.2,3355.6 1042.7,3357.5 1045.2,3359.4 1047.7,3361.2 1050.2,3363.1 1052.7,3365 1055.2,3366.9 1057.7,3368.7 1060.2,3370.6 1062.7,3372.5 1065.2,3374.3 1067.7,3376.2 1070.2,3378.1 1072.7,3379.9 1075.2,3381.8 1077.7,3383.7 1080.2,3385.5 1082.7,3387.4 1085.2,3389.3 1087.7,3391.1 1090.2,3393 1092.7,3394.8 1095.2,3396.7 1097.7,3398.6 1100.2,3400.4 1102.7,3402.3 1105.2,3404.1 1107.7,3405.9 1110.2,3407.7 1112.7,3409.5 1115.2,3411.3 1117.7,3413 1120.2,3414.7 1122.7,3416.3 1125.2,3417.9 1127.7,3419.5 1130.2,3421 1132.7,3422.4 1135.2,3423.8 1137.7,3425.2 1140.2,3426.5 1142.7,3427.7 1145.2,3428.9 1147.7,3430 1150.2,3431.1 1152.7,3432.2 1155.2,3433.2 1157.7,3434.2 1160.2,3435.1 1162.7,3436.1 1165.2,3436.9 1167.7,3437.8 1170.2,3438.6 1172.7,3439.4 1175.2,3440.1 1177.7,3440.8 1180.2,3441.4 1182.7,3442.1 1185.2,3442.7 1187.7,3443.3 1190.2,3443.9 1192.7,3444.5 1195.2,3445.1 1197.7,3445.6 1200.2,3446.2 1202.7,3446.7 1205.2,3447.2 1207.7,3447.7 1210.2,3448.2 1212.7,3448.7 1215.2,3449.2 1217.7,3449.7 1220.2,3450.1 1222.7,3450.5 1225.2,3451 1227.7,3451.4 1230.2,3451.8 1232.7,3452.1 1235.2,3452.5 1237.7,3452.9 1240.2,3453.2 1242.7,3453.5 1245.2,3453.9 1247.7,3454.1 1250.2,3454.4 1252.7,3454.7 1255.2,3454.9 1257.7,3455.1 1260.2,3455.3 1262.7,3455.5 1265.2,3455.7 1267.7,3455.9 1270.2,3456.1 1272.7,3456.2 1275.2,3456.3 1277.7,3456.5 1280.2,3456.6 1282.7,3456.7 1285.2,3456.8 1287.7,3456.9 1290.2,3457 1292.7,3457 1295.2,3457.1 1297.7,3457.2 1300.2,3457.3 1302.7,3457.4 1305.2,3457.4 1307.7,3457.5 1310.2,3457.6 1312.7,3457.6 1315.2,3457.7 1317.7,3457.7 1320.2,3457.8 1322.7,3457.8 1325.2,3457.9 1327.7,3457.9 1330.2,3457.9 1332.7,3458 1335.2,3458 1337.7,3458 1340.2,3458.1 1342.7,3458.1 1345.2,3458.1 1347.7,3458.1 1350.2,3458.1 1352.7,3458.2 1355.2,3458.2 1357.7,3458.2 1360.2,3458.2 1362.7,3458.2 1365.2,3458.2 1367.7,3458.2 1370.2,3458.2 1372.7,3458.2 1375.2,3458.2 1377.7,3458.2 1380.2,3458.2 1382.7,3458.2 1385.2,3458.2 1387.7,3458.2 1390.2,3458.2 1392.7,3458.2 1395.2,3458.2 1397.7,3458.2 1400.2,3458.2 1402.7,3458.2 1405.2,3458.2 1407.7,3458.2 1410.2,3458.2 1412.7,3458.2 1415.2,3458.2 1417.7,3458.2 1420.2,3458.2 1422.7,3458.2 1425.2,3458.2 1427.7,3458.2 1430.2,3458.2 1432.7,3458.2 1435.2,3458.2 1437.7,3458.2 1440.2,3458.2 1442.7,3458.2 1445.2,3458.2 1447.7,3458.2 1450.2,3458.1 1452.7,3458.1 1455.2,3458.1 1457.7,3458 1460.2,3458 1462.7,3457.9 1465.2,3457.8 1467.7,3457.8 1470.2,3457.7 1472.7,3457.6 1475.2,3457.5 1477.7,3457.4 1480.2,3457.3 1482.7,3457.2 1485.2,3457.1 1487.7,3457 1490.2,3456.9 1492.7,3456.8 1495.2,3456.6 1497.7,3456.4 1500.2,3456.2 1502.7,3455.9 1505.2,3455.7 1507.7,3455.4 1510.2,3455 1512.7,3454.7 1515.2,3454.3 1517.7,3454 1520.2,3453.6 1522.7,3453.1 1525.2,3452.7 1527.7,3452.2 1530.2,3451.7 1532.7,3451.1 1535.2,3450.5 1537.7,3449.8 1540.2,3449 1542.7,3448.2 1545.2,3447.4 1547.7,3446.6 1550.2,3445.7 1552.7,3444.8 1555.2,3443.9 1557.7,3442.9 1560.2,3441.9 1562.7,3440.8 1565.2,3439.7 1567.7,3438.5 1570.2,3437.2 1572.7,3435.9 1575.2,3434.5 1577.7,3433 1580.2,3431.4 1582.7,3429.8 1585.2,3428.2 1587.7,3426.5 1590.2,3424.8 1592.7,3423.1 1595.2,3421.3 1597.7,3419.4 1600.2,3417.6 1602.7,3415.7 1605.2,3413.7 1607.7,3411.7 1610.2,3409.6 1612.7,3407.5 1615.2,3405.3 1617.7,3403.1 1620.2,3400.8 1622.7,3398.4 1625.2,3396 1627.7,3393.6 1630.2,3391.1 1632.7,3388.7 1635.2,3386.2 1637.7,3383.7 1640.2,3381.2 1642.7,3378.7 1645.2,3376.2 1647.7,3373.7 1650.2,3371.2 1652.7,3368.7 1655.2,3366.2 1657.7,3363.7 1660.2,3361.3 1662.7,3358.8 1665.2,3356.4 1667.7,3354 1670.2,3351.6 1672.7,3349.2 1675.2,3346.7 1677.7,3344.2 1680.2,3341.5 1682.7,3338.8 1685.2,3336 1687.7,3333 1690.2,3329.9 1692.7,3326.7 1695.2,3323.4 1697.7,3320 1700.2,3316.5 1702.7,3313 1705.2,3309.3 1707.7,3305.6 1710.2,3301.8 1712.7,3297.9 1715.2,3294 1717.7,3290 1720.2,3286 1722.7,3281.9 1725.2,3277.8 1727.7,3273.7 1730.2,3269.6 1732.7,3265.5 1735.2,3261.4 1737.7,3257.5 1740.2,3253.5 1742.7,3249.7 1745.2,3246 1747.7,3242.4 1750.2,3238.9 1752.7,3235.4 1755.2,3232.1 1757.7,3228.8 1760.2,3225.5 1762.7,3222.2 1765.2,3218.8 1767.7,3215.4 1770.2,3211.9 1772.7,3208.4 1775.2,3204.7 1777.7,3201 1780.2,3197.2 1782.7,3193.3 1785.2,3189.4 1787.7,3185.4 1790.2,3181.4 1792.7,3177.4 1795.2,3173.3 1797.7,3169.2 1800.2,3165.1 1802.7,3160.9 1805.2,3156.7 1807.7,3152.5 1810.2,3148.4 1812.7,3144.3 1815.2,3140.2 1817.7,3136.2 1820.2,3132.2 1822.7,3128.4 1825.2,3124.6 1827.7,3120.9 1830.2,3117.3 1832.7,3113.8 1835.2,3110.3 1837.7,3106.8 1840.2,3103.5 1842.7,3100.1 1845.2,3096.9 1847.7,3093.7 1850.2,3090.5 1852.7,3087.4 1855.2,3084.3 1857.7,3081.1 1860.2,3078 1862.7,3074.8 1865.2,3071.5 1867.7,3068.2 1870.2,3064.8 1872.7,3061.4 1875.2,3057.8 1877.7,3054.3 1880.2,3050.7 1882.7,3047.1 1885.2,3043.6 1887.7,3040 1890.2,3036.4 1892.7,3032.9 1895.2,3029.4 1897.7,3025.8 1900.2,3022.3 1902.7,3018.7 1905.2,3015.1 1907.7,3011.6 1910.2,3008 1912.7,3004.3 1915.2,3000.7 1917.7,2997 1920.2,2993.3 1922.7,2989.6 1925.2,2985.8 1927.7,2981.9 1930.2,2978 1932.7,2974.1 1935.2,2970.1 1937.7,2966 1940.2,2962 1942.7,2958 1945.2,2953.9 1947.7,2949.9 1950.2,2946 1952.7,2942.1 1955.2,2938.2 1957.7,2934.3 1960.2,2930.5 1962.7,2926.8 1965.2,2923.1 1967.7,2919.4 1970.2,2915.8 1972.7,2912.2 1975.2,2908.7 1977.7,2905.3 1980.2,2901.9 1982.7,2898.5 1985.2,2895.2 1987.7,2891.9 1990.2,2888.7 1992.7,2885.4 1995.2,2882.2 1997.7,2879 2000.2,2875.8 2002.7,2872.7 2005.2,2869.5 2007.7,2866.4 2010.2,2863.3 2012.7,2860.2 2015.2,2857.2 2017.7,2854.2 2020.2,2851.2 2022.7,2848.4 2025.2,2845.5 2027.7,2842.8 2030.2,2840 2032.7,2837.4 2035.2,2834.8 2037.7,2832.2 2040.2,2829.7 2042.7,2827.2 2045.2,2824.8 2047.7,2822.6 2050.2,2820.4 2052.7,2818.4 2055.2,2816.5 2057.7,2814.9 2060.2,2813.4 2062.7,2812.2 2065.2,2811.2 2067.7,2810.4 2070.2,2809.9 2072.7,2809.6 2075.2,2809.5 2077.7,2809.7 2080.2,2810.1 2082.7,2810.8 2085.2,2811.8 2087.7,2813 2090.2,2814.6 2092.7,2816.4 2095.2,2818.5 2097.7,2821 2100.2,2823.7 2102.7,2826.8 2105.2,2830.2 2107.7,2834.1 2110.2,2838.3 2112.7,2842.9 2115.2,2847.9 2117.7,2853.4 2120.2,2859.3 2122.7,2865.7 2125.2,2872.5 2127.7,2879.8 2130.2,2887.4 2132.7,2895.5 2135.2,2904 2137.7,2912.8 2140.2,2922.1 2142.7,2931.6 2145.2,2941.5 2147.7,2951.8 2150.2,2962.3 2152.7,2973.2 2155.2,2984.4 2157.7,2995.9 2160.2,3007.8 2162.7,3020.1 2165.2,3032.7 2167.7,3045.6 2170.2,3058.6 2172.7,3071.7 2175.2,3084.8 2177.7,3097.6 2180.2,3110.2 2182.7,3122.6 2185.2,3134.5 2187.7,3146.2 2190.2,3157.5 2192.7,3168.5 2195.2,3179.2 2197.7,3189.5 2200.2,3199.6 2202.7,3209.5 2205.2,3219.2 2207.7,3228.8 2210.2,3238.3 2212.7,3247.8 2215.2,3257.2 2217.7,3266.7 2220.2,3276.1 2222.7,3285.3 2225.2,3294.4 2227.7,3303.3 2230.2,3311.9 2232.7,3320.3 2235.2,3328.5 2237.7,3336.4 2240.2,3344.2 2242.7,3351.8 2245.2,3359.3 2247.7,3366.6 2250.2,3373.9 2252.7,3381.1 2254.2,3388.2 L2254.2,3458.6 Z" fill="#008000" fill-opacity="0.25" stroke="#008000" stroke-width="2" stroke-linejoin="round"/>
<rect x="484.0" y="2496.9" width="1853.7" height="961.7" fill="none" stroke="#000" stroke-width="1.8"/>
<line x1="476.5" y1="3458.6" x2="484.0" y2="3458.6" stroke="#000" stroke-width="1.8"/>
<text x="465.5" y="3481.6" font-size="64" text-anchor="end">0.0000</text>
<line x1="476.5" y1="3302.7" x2="484.0" y2="3302.7" stroke="#000" stroke-width="1.8"/>
<text x="465.5" y="3325.7" font-size="64" text-anchor="end">0.0001</text>
<line x1="476.5" y1="3146.7" x2="484.0" y2="3146.7" stroke="#000" stroke-width="1.8"/>
<text x="465.5" y="3169.7" font-size="64" text-anchor="end">0.0002</text>
<line x1="476.5" y1="2990.8" x2="484.0" y2="2990.8" stroke="#000" stroke-width="1.8"/>
<text x="465.5" y="3013.8" font-size="64" text-anchor="end">0.0003</text>
<line x1="476.5" y1="2834.8" x2="484.0" y2="2834.8" stroke="#000" stroke-width="1.8"/>
<text x="465.5" y="2857.8" font-size="64" text-anchor="end">0.0004</text>
<line x1="476.5" y1="2678.8" x2="484.0" y2="2678.8" stroke="#000" stroke-width="1.8"/>
<text x="465.5" y="2701.8" font-size="64" text-anchor="end">0.0005</text>
<line x1="476.5" y1="2522.9" x2="484.0" y2="2522.9" stroke="#000" stroke-width="1.8"/>
<text x="465.5" y="2545.9" font-size="64" text-anchor="end">0.0006</text>
<line x1="568.6" y1="3458.6" x2="568.6" y2="3466.1" stroke="#000" stroke-width="1.8"/>
<text x="568.6" y="3519.5" font-size="64" text-anchor="middle">0</text>
<line x1="779.4" y1="3458.6" x2="779.4" y2="3466.1" stroke="#000" stroke-width="1.8"/>
<text x="779.4" y="3519.5" font-size="64" text-anchor="middle">1000</text>
<line x1="990.1" y1="3458.6" x2="990.1" y2="3466.1" stroke="#000" stroke-width="1.8"/>
<text x="990.1" y="3519.5" font-size="64" text-anchor="middle">2000</text>
<line x1="1200.8" y1="3458.6" x2="1200.8" y2="3466.1" stroke="#000" stroke-width="1.8"/>
<text x="1200.8" y="3519.5" font-size="64" text-anchor="middle">3000</text>
<line x1="1411.6" y1="3458.6" x2="1411.6" y2="3466.1" stroke="#000" stroke-width="1.8"/>
<text x="1411.6" y="3519.5" font-size="64" text-anchor="middle">4000</text>
<line x1="1622.3" y1="3458.6" x2="1622.3" y2="3466.1" stroke="#000" stroke-width="1.8"/>
<text x="1622.3" y="3519.5" font-size="64" text-anchor="middle">5000</text>
<line x1="1833.1" y1="3458.6" x2="1833.1" y2="3466.1" stroke="#000" stroke-width="1.8"/>
<text x="1833.1" y="3519.5" font-size="64" text-anchor="middle">6000</text>
<line x1="2043.8" y1="3458.6" x2="2043.8" y2="3466.1" stroke="#000" stroke-width="1.8"/>
<text x="2043.8" y="3519.5" font-size="64" text-anchor="middle">7000</text>
<line x1="2254.6" y1="3458.6" x2="2254.6" y2="3466.1" stroke="#000" stroke-width="1.8"/>
<text x="2254.6" y="3519.5" font-size="64" text-anchor="middle">8000</text>
<text x="1410.3" y="2479.7" font-size="77" text-anchor="middle">LSTM vs observations histogram</text>
<text x="1412" y="3587.5" font-size="64" text-anchor="middle">Visibility [m]</text>
<text transform="translate(269.3,2979.2) rotate(-90)" font-size="64.5" text-anchor="middle">Probability density</text>
<rect x="517.5" y="2527.9" width="541.9" height="199.8" rx="12" ry="12" fill="#fff" fill-opacity="0.8" stroke="#cccccc" stroke-width="1.8"/>
<rect x="540.4" y="2553.2" width="130.3" height="44.7" fill="#ffa500" fill-opacity="0.25" stroke="#ffa500" stroke-width="2"/>
<rect x="540.4" y="2643.9" width="130.3" height="45.3" fill="#008000" fill-opacity="0.25" stroke="#008000" stroke-width="2"/>
<text x="722" y="2598.5" font-size="64">Observation</text>
<text x="722" y="2690.4" font-size="64">Prediction</text>
<text x="27" y="3599.7" font-size="86" font-weight="bold">(f)</text>
</svg></body></html>
